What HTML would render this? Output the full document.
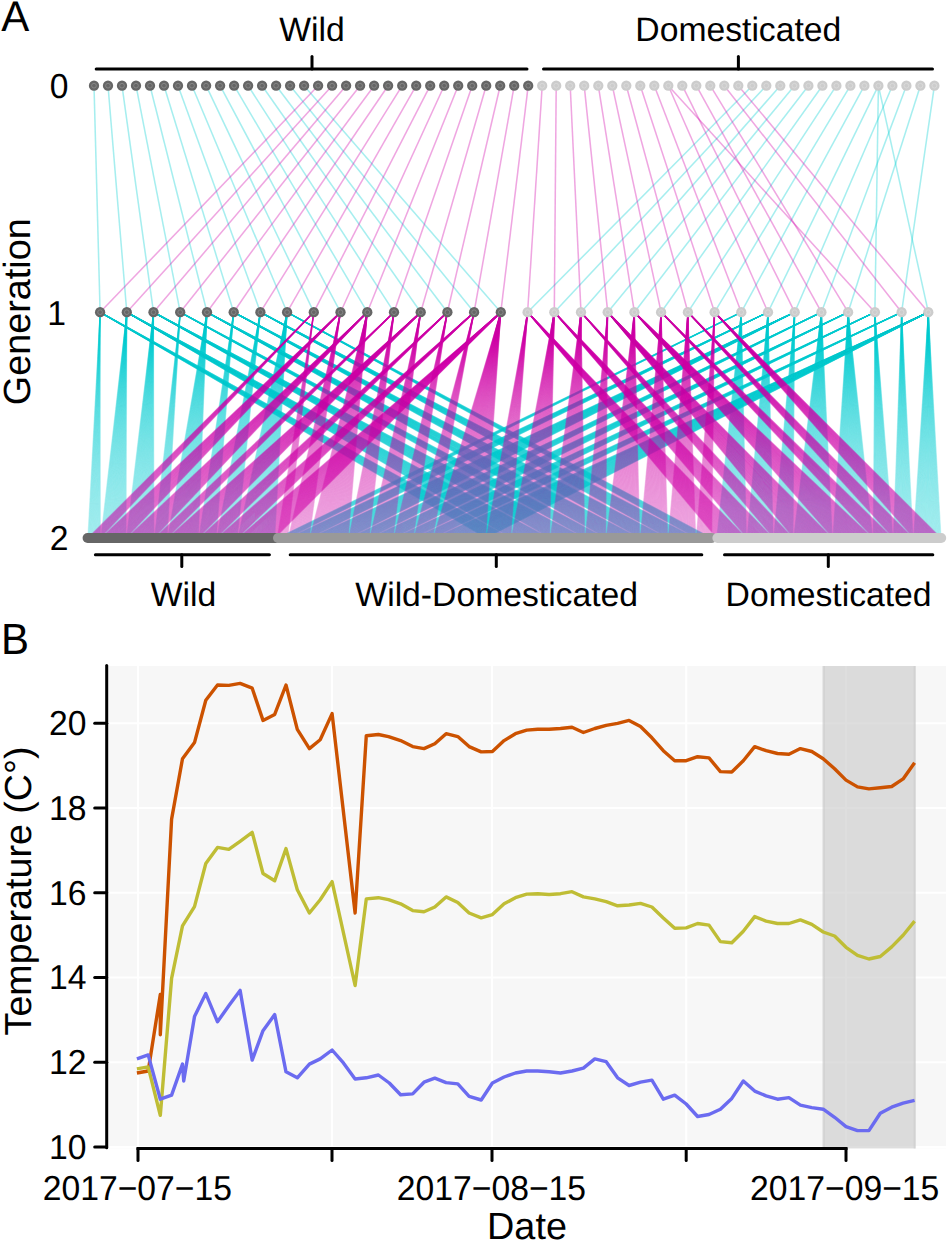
<!DOCTYPE html>
<html><head><meta charset="utf-8"><style>html,body{margin:0;padding:0;background:#fff;width:947px;height:1241px;overflow:hidden}</style></head>
<body>
<svg width="947" height="1241" viewBox="0 0 947 1241" style="display:block">
<rect width="947" height="1241" fill="#fff"/>
<g stroke-width="1.55" fill="none" stroke-opacity="0.35">
<line x1="94.0" y1="85.7" x2="100.1" y2="312.2" stroke="#00CED1"/>
<line x1="108.0" y1="85.7" x2="126.8" y2="312.2" stroke="#00CED1"/>
<line x1="122.0" y1="85.7" x2="153.5" y2="312.2" stroke="#00CED1"/>
<line x1="136.0" y1="85.7" x2="180.2" y2="312.2" stroke="#00CED1"/>
<line x1="150.0" y1="85.7" x2="207.0" y2="312.2" stroke="#00CED1"/>
<line x1="164.0" y1="85.7" x2="233.7" y2="312.2" stroke="#00CED1"/>
<line x1="178.0" y1="85.7" x2="260.4" y2="312.2" stroke="#00CED1"/>
<line x1="192.0" y1="85.7" x2="287.1" y2="312.2" stroke="#00CED1"/>
<line x1="206.1" y1="85.7" x2="313.8" y2="312.2" stroke="#00CED1"/>
<line x1="220.1" y1="85.7" x2="340.5" y2="312.2" stroke="#00CED1"/>
<line x1="234.1" y1="85.7" x2="367.3" y2="312.2" stroke="#00CED1"/>
<line x1="248.1" y1="85.7" x2="394.0" y2="312.2" stroke="#00CED1"/>
<line x1="262.1" y1="85.7" x2="420.7" y2="312.2" stroke="#00CED1"/>
<line x1="276.1" y1="85.7" x2="447.4" y2="312.2" stroke="#00CED1"/>
<line x1="290.1" y1="85.7" x2="474.1" y2="312.2" stroke="#00CED1"/>
<line x1="304.1" y1="85.7" x2="500.8" y2="312.2" stroke="#00CED1"/>
<line x1="752.3" y1="85.7" x2="527.6" y2="312.2" stroke="#00CED1"/>
<line x1="766.3" y1="85.7" x2="554.3" y2="312.2" stroke="#00CED1"/>
<line x1="780.3" y1="85.7" x2="581.0" y2="312.2" stroke="#00CED1"/>
<line x1="794.4" y1="85.7" x2="607.7" y2="312.2" stroke="#00CED1"/>
<line x1="808.4" y1="85.7" x2="634.4" y2="312.2" stroke="#00CED1"/>
<line x1="822.4" y1="85.7" x2="661.1" y2="312.2" stroke="#00CED1"/>
<line x1="836.4" y1="85.7" x2="687.9" y2="312.2" stroke="#00CED1"/>
<line x1="850.4" y1="85.7" x2="714.6" y2="312.2" stroke="#00CED1"/>
<line x1="864.4" y1="85.7" x2="741.3" y2="312.2" stroke="#00CED1"/>
<line x1="878.4" y1="85.7" x2="768.0" y2="312.2" stroke="#00CED1"/>
<line x1="892.4" y1="85.7" x2="794.7" y2="312.2" stroke="#00CED1"/>
<line x1="906.4" y1="85.7" x2="821.4" y2="312.2" stroke="#00CED1"/>
<line x1="920.4" y1="85.7" x2="848.1" y2="312.2" stroke="#00CED1"/>
<line x1="878.4" y1="85.7" x2="874.9" y2="312.2" stroke="#00CED1"/>
<line x1="934.4" y1="85.7" x2="901.6" y2="312.2" stroke="#00CED1"/>
<line x1="878.4" y1="85.7" x2="928.3" y2="312.2" stroke="#00CED1"/>
<line x1="318.1" y1="85.7" x2="100.1" y2="312.2" stroke="#D200A8"/>
<line x1="332.1" y1="85.7" x2="126.8" y2="312.2" stroke="#D200A8"/>
<line x1="346.1" y1="85.7" x2="153.5" y2="312.2" stroke="#D200A8"/>
<line x1="360.1" y1="85.7" x2="180.2" y2="312.2" stroke="#D200A8"/>
<line x1="374.1" y1="85.7" x2="207.0" y2="312.2" stroke="#D200A8"/>
<line x1="388.1" y1="85.7" x2="233.7" y2="312.2" stroke="#D200A8"/>
<line x1="402.2" y1="85.7" x2="260.4" y2="312.2" stroke="#D200A8"/>
<line x1="416.2" y1="85.7" x2="287.1" y2="312.2" stroke="#D200A8"/>
<line x1="430.2" y1="85.7" x2="313.8" y2="312.2" stroke="#D200A8"/>
<line x1="444.2" y1="85.7" x2="340.5" y2="312.2" stroke="#D200A8"/>
<line x1="458.2" y1="85.7" x2="367.3" y2="312.2" stroke="#D200A8"/>
<line x1="472.2" y1="85.7" x2="394.0" y2="312.2" stroke="#D200A8"/>
<line x1="486.2" y1="85.7" x2="420.7" y2="312.2" stroke="#D200A8"/>
<line x1="500.2" y1="85.7" x2="447.4" y2="312.2" stroke="#D200A8"/>
<line x1="514.2" y1="85.7" x2="474.1" y2="312.2" stroke="#D200A8"/>
<line x1="528.2" y1="85.7" x2="500.8" y2="312.2" stroke="#D200A8"/>
<line x1="542.2" y1="85.7" x2="527.6" y2="312.2" stroke="#D200A8"/>
<line x1="556.2" y1="85.7" x2="554.3" y2="312.2" stroke="#D200A8"/>
<line x1="570.2" y1="85.7" x2="581.0" y2="312.2" stroke="#D200A8"/>
<line x1="584.2" y1="85.7" x2="607.7" y2="312.2" stroke="#D200A8"/>
<line x1="598.3" y1="85.7" x2="634.4" y2="312.2" stroke="#D200A8"/>
<line x1="612.3" y1="85.7" x2="661.1" y2="312.2" stroke="#D200A8"/>
<line x1="626.3" y1="85.7" x2="687.9" y2="312.2" stroke="#D200A8"/>
<line x1="640.3" y1="85.7" x2="714.6" y2="312.2" stroke="#D200A8"/>
<line x1="654.3" y1="85.7" x2="741.3" y2="312.2" stroke="#D200A8"/>
<line x1="668.3" y1="85.7" x2="768.0" y2="312.2" stroke="#D200A8"/>
<line x1="682.3" y1="85.7" x2="794.7" y2="312.2" stroke="#D200A8"/>
<line x1="696.3" y1="85.7" x2="821.4" y2="312.2" stroke="#D200A8"/>
<line x1="710.3" y1="85.7" x2="848.1" y2="312.2" stroke="#D200A8"/>
<line x1="668.3" y1="85.7" x2="874.9" y2="312.2" stroke="#D200A8"/>
<line x1="724.3" y1="85.7" x2="901.6" y2="312.2" stroke="#D200A8"/>
<line x1="738.3" y1="85.7" x2="928.3" y2="312.2" stroke="#D200A8"/>
</g>
<g stroke="#00CED1" stroke-width="1.2" stroke-opacity="0.205">
<path d="M100.1 312.2L87.90 538.0"/>
<path d="M100.1 312.2L88.49 538.0"/>
<path d="M100.1 312.2L89.08 538.0"/>
<path d="M100.1 312.2L89.67 538.0"/>
<path d="M100.1 312.2L90.26 538.0"/>
<path d="M100.1 312.2L90.85 538.0"/>
<path d="M100.1 312.2L91.44 538.0"/>
<path d="M100.1 312.2L92.03 538.0"/>
<path d="M100.1 312.2L92.62 538.0"/>
<path d="M100.1 312.2L93.21 538.0"/>
<path d="M100.1 312.2L93.80 538.0"/>
<path d="M100.1 312.2L94.40 538.0"/>
<path d="M100.1 312.2L94.99 538.0"/>
<path d="M100.1 312.2L95.58 538.0"/>
<path d="M100.1 312.2L96.17 538.0"/>
<path d="M100.1 312.2L96.76 538.0"/>
<path d="M100.1 312.2L97.35 538.0"/>
<path d="M100.1 312.2L97.94 538.0"/>
<path d="M100.1 312.2L98.53 538.0"/>
<path d="M100.1 312.2L99.12 538.0"/>
<path d="M100.1 312.2L99.71 538.0"/>
<path d="M100.1 312.2L100.30 538.0"/>
<path d="M126.8 312.2L100.90 538.0"/>
<path d="M126.8 312.2L101.50 538.0"/>
<path d="M126.8 312.2L102.09 538.0"/>
<path d="M126.8 312.2L102.69 538.0"/>
<path d="M126.8 312.2L103.29 538.0"/>
<path d="M126.8 312.2L103.89 538.0"/>
<path d="M126.8 312.2L104.48 538.0"/>
<path d="M126.8 312.2L105.08 538.0"/>
<path d="M126.8 312.2L105.68 538.0"/>
<path d="M126.8 312.2L106.28 538.0"/>
<path d="M126.8 312.2L106.88 538.0"/>
<path d="M126.8 312.2L107.47 538.0"/>
<path d="M126.8 312.2L108.07 538.0"/>
<path d="M126.8 312.2L108.67 538.0"/>
<path d="M126.8 312.2L109.27 538.0"/>
<path d="M126.8 312.2L109.86 538.0"/>
<path d="M126.8 312.2L110.46 538.0"/>
<path d="M126.8 312.2L111.06 538.0"/>
<path d="M126.8 312.2L111.66 538.0"/>
<path d="M126.8 312.2L112.25 538.0"/>
<path d="M126.8 312.2L112.85 538.0"/>
<path d="M126.8 312.2L113.45 538.0"/>
<path d="M126.8 312.2L114.05 538.0"/>
<path d="M126.8 312.2L114.65 538.0"/>
<path d="M126.8 312.2L115.24 538.0"/>
<path d="M126.8 312.2L115.84 538.0"/>
<path d="M126.8 312.2L116.44 538.0"/>
<path d="M126.8 312.2L117.04 538.0"/>
<path d="M126.8 312.2L117.63 538.0"/>
<path d="M126.8 312.2L118.23 538.0"/>
<path d="M126.8 312.2L118.83 538.0"/>
<path d="M126.8 312.2L119.43 538.0"/>
<path d="M126.8 312.2L120.02 538.0"/>
<path d="M126.8 312.2L120.62 538.0"/>
<path d="M126.8 312.2L121.22 538.0"/>
<path d="M126.8 312.2L121.82 538.0"/>
<path d="M126.8 312.2L122.42 538.0"/>
<path d="M126.8 312.2L123.01 538.0"/>
<path d="M126.8 312.2L123.61 538.0"/>
<path d="M126.8 312.2L124.21 538.0"/>
<path d="M126.8 312.2L124.81 538.0"/>
<path d="M126.8 312.2L125.40 538.0"/>
<path d="M126.8 312.2L126.00 538.0"/>
<path d="M153.5 312.2L126.60 538.0"/>
<path d="M153.5 312.2L127.21 538.0"/>
<path d="M153.5 312.2L127.82 538.0"/>
<path d="M153.5 312.2L128.42 538.0"/>
<path d="M153.5 312.2L129.03 538.0"/>
<path d="M153.5 312.2L129.64 538.0"/>
<path d="M153.5 312.2L130.24 538.0"/>
<path d="M153.5 312.2L130.85 538.0"/>
<path d="M153.5 312.2L131.46 538.0"/>
<path d="M153.5 312.2L132.06 538.0"/>
<path d="M153.5 312.2L132.67 538.0"/>
<path d="M153.5 312.2L133.28 538.0"/>
<path d="M153.5 312.2L133.88 538.0"/>
<path d="M153.5 312.2L134.49 538.0"/>
<path d="M153.5 312.2L135.09 538.0"/>
<path d="M153.5 312.2L135.70 538.0"/>
<path d="M153.5 312.2L136.31 538.0"/>
<path d="M153.5 312.2L136.91 538.0"/>
<path d="M153.5 312.2L137.52 538.0"/>
<path d="M153.5 312.2L138.13 538.0"/>
<path d="M153.5 312.2L138.73 538.0"/>
<path d="M153.5 312.2L139.34 538.0"/>
<path d="M153.5 312.2L139.95 538.0"/>
<path d="M153.5 312.2L140.55 538.0"/>
<path d="M153.5 312.2L141.16 538.0"/>
<path d="M153.5 312.2L141.77 538.0"/>
<path d="M153.5 312.2L142.37 538.0"/>
<path d="M153.5 312.2L142.98 538.0"/>
<path d="M153.5 312.2L143.59 538.0"/>
<path d="M153.5 312.2L144.19 538.0"/>
<path d="M153.5 312.2L144.80 538.0"/>
<path d="M153.5 312.2L145.41 538.0"/>
<path d="M153.5 312.2L146.01 538.0"/>
<path d="M153.5 312.2L146.62 538.0"/>
<path d="M153.5 312.2L147.22 538.0"/>
<path d="M153.5 312.2L147.83 538.0"/>
<path d="M153.5 312.2L148.44 538.0"/>
<path d="M153.5 312.2L149.04 538.0"/>
<path d="M153.5 312.2L149.65 538.0"/>
<path d="M153.5 312.2L150.26 538.0"/>
<path d="M153.5 312.2L150.86 538.0"/>
<path d="M153.5 312.2L151.47 538.0"/>
<path d="M153.5 312.2L152.08 538.0"/>
<path d="M153.5 312.2L152.68 538.0"/>
<path d="M153.5 312.2L153.29 538.0"/>
<path d="M153.5 312.2L153.90 538.0"/>
<path d="M180.2 312.2L154.50 538.0"/>
<path d="M180.2 312.2L155.10 538.0"/>
<path d="M180.2 312.2L155.70 538.0"/>
<path d="M180.2 312.2L156.30 538.0"/>
<path d="M180.2 312.2L156.90 538.0"/>
<path d="M180.2 312.2L157.50 538.0"/>
<path d="M180.2 312.2L158.10 538.0"/>
<path d="M180.2 312.2L158.70 538.0"/>
<path d="M180.2 312.2L159.30 538.0"/>
<path d="M180.2 312.2L159.90 538.0"/>
<path d="M180.2 312.2L160.50 538.0"/>
<path d="M180.2 312.2L161.10 538.0"/>
<path d="M180.2 312.2L161.70 538.0"/>
<path d="M180.2 312.2L162.30 538.0"/>
<path d="M180.2 312.2L162.90 538.0"/>
<path d="M180.2 312.2L163.50 538.0"/>
<path d="M180.2 312.2L164.10 538.0"/>
<path d="M180.2 312.2L164.70 538.0"/>
<path d="M180.2 312.2L165.30 538.0"/>
<path d="M180.2 312.2L165.90 538.0"/>
<path d="M180.2 312.2L166.50 538.0"/>
<path d="M180.2 312.2L167.10 538.0"/>
<path d="M207.0 312.2L167.70 538.0"/>
<path d="M207.0 312.2L168.30 538.0"/>
<path d="M207.0 312.2L168.90 538.0"/>
<path d="M207.0 312.2L169.50 538.0"/>
<path d="M207.0 312.2L170.10 538.0"/>
<path d="M207.0 312.2L170.70 538.0"/>
<path d="M207.0 312.2L171.30 538.0"/>
<path d="M207.0 312.2L171.90 538.0"/>
<path d="M207.0 312.2L172.50 538.0"/>
<path d="M207.0 312.2L173.10 538.0"/>
<path d="M207.0 312.2L173.70 538.0"/>
<path d="M207.0 312.2L174.30 538.0"/>
<path d="M207.0 312.2L174.90 538.0"/>
<path d="M207.0 312.2L175.50 538.0"/>
<path d="M207.0 312.2L176.10 538.0"/>
<path d="M207.0 312.2L176.70 538.0"/>
<path d="M207.0 312.2L177.30 538.0"/>
<path d="M207.0 312.2L177.90 538.0"/>
<path d="M207.0 312.2L178.50 538.0"/>
<path d="M207.0 312.2L179.10 538.0"/>
<path d="M207.0 312.2L179.70 538.0"/>
<path d="M207.0 312.2L180.30 538.0"/>
<path d="M207.0 312.2L180.90 538.0"/>
<path d="M207.0 312.2L181.50 538.0"/>
<path d="M207.0 312.2L182.10 538.0"/>
<path d="M207.0 312.2L182.70 538.0"/>
<path d="M207.0 312.2L183.30 538.0"/>
<path d="M207.0 312.2L183.90 538.0"/>
<path d="M207.0 312.2L184.50 538.0"/>
<path d="M207.0 312.2L185.10 538.0"/>
<path d="M207.0 312.2L185.70 538.0"/>
<path d="M207.0 312.2L186.30 538.0"/>
<path d="M207.0 312.2L186.90 538.0"/>
<path d="M207.0 312.2L187.50 538.0"/>
<path d="M207.0 312.2L188.10 538.0"/>
<path d="M207.0 312.2L188.70 538.0"/>
<path d="M207.0 312.2L189.30 538.0"/>
<path d="M207.0 312.2L189.90 538.0"/>
<path d="M207.0 312.2L190.50 538.0"/>
<path d="M207.0 312.2L191.10 538.0"/>
<path d="M207.0 312.2L191.70 538.0"/>
<path d="M207.0 312.2L192.30 538.0"/>
<path d="M207.0 312.2L192.90 538.0"/>
<path d="M207.0 312.2L193.50 538.0"/>
<path d="M207.0 312.2L194.10 538.0"/>
<path d="M207.0 312.2L194.70 538.0"/>
<path d="M207.0 312.2L195.30 538.0"/>
<path d="M207.0 312.2L195.90 538.0"/>
<path d="M207.0 312.2L196.50 538.0"/>
<path d="M207.0 312.2L197.10 538.0"/>
<path d="M207.0 312.2L197.70 538.0"/>
<path d="M207.0 312.2L198.30 538.0"/>
<path d="M233.7 312.2L198.90 538.0"/>
<path d="M233.7 312.2L199.50 538.0"/>
<path d="M233.7 312.2L200.09 538.0"/>
<path d="M233.7 312.2L200.69 538.0"/>
<path d="M233.7 312.2L201.28 538.0"/>
<path d="M233.7 312.2L201.88 538.0"/>
<path d="M233.7 312.2L202.48 538.0"/>
<path d="M233.7 312.2L203.07 538.0"/>
<path d="M233.7 312.2L203.67 538.0"/>
<path d="M233.7 312.2L204.27 538.0"/>
<path d="M233.7 312.2L204.87 538.0"/>
<path d="M233.7 312.2L205.46 538.0"/>
<path d="M233.7 312.2L206.06 538.0"/>
<path d="M233.7 312.2L206.66 538.0"/>
<path d="M233.7 312.2L207.25 538.0"/>
<path d="M233.7 312.2L207.85 538.0"/>
<path d="M233.7 312.2L208.44 538.0"/>
<path d="M233.7 312.2L209.04 538.0"/>
<path d="M233.7 312.2L209.64 538.0"/>
<path d="M233.7 312.2L210.23 538.0"/>
<path d="M233.7 312.2L210.83 538.0"/>
<path d="M233.7 312.2L211.43 538.0"/>
<path d="M233.7 312.2L212.03 538.0"/>
<path d="M233.7 312.2L212.62 538.0"/>
<path d="M233.7 312.2L213.22 538.0"/>
<path d="M233.7 312.2L213.81 538.0"/>
<path d="M233.7 312.2L214.41 538.0"/>
<path d="M233.7 312.2L215.01 538.0"/>
<path d="M233.7 312.2L215.60 538.0"/>
<path d="M233.7 312.2L216.20 538.0"/>
<path d="M260.4 312.2L216.80 538.0"/>
<path d="M260.4 312.2L217.40 538.0"/>
<path d="M260.4 312.2L218.01 538.0"/>
<path d="M260.4 312.2L218.61 538.0"/>
<path d="M260.4 312.2L219.21 538.0"/>
<path d="M260.4 312.2L219.82 538.0"/>
<path d="M260.4 312.2L220.42 538.0"/>
<path d="M260.4 312.2L221.02 538.0"/>
<path d="M260.4 312.2L221.62 538.0"/>
<path d="M260.4 312.2L222.23 538.0"/>
<path d="M260.4 312.2L222.83 538.0"/>
<path d="M260.4 312.2L223.43 538.0"/>
<path d="M260.4 312.2L224.04 538.0"/>
<path d="M260.4 312.2L224.64 538.0"/>
<path d="M260.4 312.2L225.24 538.0"/>
<path d="M260.4 312.2L225.84 538.0"/>
<path d="M260.4 312.2L226.45 538.0"/>
<path d="M260.4 312.2L227.05 538.0"/>
<path d="M260.4 312.2L227.65 538.0"/>
<path d="M260.4 312.2L228.26 538.0"/>
<path d="M260.4 312.2L228.86 538.0"/>
<path d="M260.4 312.2L229.46 538.0"/>
<path d="M260.4 312.2L230.06 538.0"/>
<path d="M260.4 312.2L230.67 538.0"/>
<path d="M260.4 312.2L231.27 538.0"/>
<path d="M260.4 312.2L231.87 538.0"/>
<path d="M260.4 312.2L232.48 538.0"/>
<path d="M260.4 312.2L233.08 538.0"/>
<path d="M260.4 312.2L233.68 538.0"/>
<path d="M260.4 312.2L234.28 538.0"/>
<path d="M260.4 312.2L234.89 538.0"/>
<path d="M260.4 312.2L235.49 538.0"/>
<path d="M260.4 312.2L236.09 538.0"/>
<path d="M260.4 312.2L236.70 538.0"/>
<path d="M260.4 312.2L237.30 538.0"/>
<path d="M287.1 312.2L237.90 538.0"/>
<path d="M287.1 312.2L238.50 538.0"/>
<path d="M287.1 312.2L239.11 538.0"/>
<path d="M287.1 312.2L239.71 538.0"/>
<path d="M287.1 312.2L240.31 538.0"/>
<path d="M287.1 312.2L240.92 538.0"/>
<path d="M287.1 312.2L241.52 538.0"/>
<path d="M287.1 312.2L242.12 538.0"/>
<path d="M287.1 312.2L242.73 538.0"/>
<path d="M287.1 312.2L243.33 538.0"/>
<path d="M287.1 312.2L243.93 538.0"/>
<path d="M287.1 312.2L244.54 538.0"/>
<path d="M287.1 312.2L245.14 538.0"/>
<path d="M287.1 312.2L245.74 538.0"/>
<path d="M287.1 312.2L246.35 538.0"/>
<path d="M287.1 312.2L246.95 538.0"/>
<path d="M287.1 312.2L247.55 538.0"/>
<path d="M287.1 312.2L248.16 538.0"/>
<path d="M287.1 312.2L248.76 538.0"/>
<path d="M287.1 312.2L249.36 538.0"/>
<path d="M287.1 312.2L249.97 538.0"/>
<path d="M287.1 312.2L250.57 538.0"/>
<path d="M287.1 312.2L251.17 538.0"/>
<path d="M287.1 312.2L251.78 538.0"/>
<path d="M287.1 312.2L252.38 538.0"/>
<path d="M287.1 312.2L252.98 538.0"/>
<path d="M287.1 312.2L253.59 538.0"/>
<path d="M287.1 312.2L254.19 538.0"/>
<path d="M287.1 312.2L254.79 538.0"/>
<path d="M287.1 312.2L255.40 538.0"/>
<path d="M287.1 312.2L256.00 538.0"/>
<path d="M287.1 312.2L256.60 538.0"/>
<path d="M287.1 312.2L257.20 538.0"/>
<path d="M287.1 312.2L257.81 538.0"/>
<path d="M287.1 312.2L258.41 538.0"/>
<path d="M287.1 312.2L259.01 538.0"/>
<path d="M287.1 312.2L259.62 538.0"/>
<path d="M287.1 312.2L260.22 538.0"/>
<path d="M287.1 312.2L260.82 538.0"/>
<path d="M287.1 312.2L261.43 538.0"/>
<path d="M287.1 312.2L262.03 538.0"/>
<path d="M287.1 312.2L262.63 538.0"/>
<path d="M287.1 312.2L263.24 538.0"/>
<path d="M287.1 312.2L263.84 538.0"/>
<path d="M287.1 312.2L264.44 538.0"/>
<path d="M287.1 312.2L265.05 538.0"/>
<path d="M287.1 312.2L265.65 538.0"/>
<path d="M287.1 312.2L266.25 538.0"/>
<path d="M287.1 312.2L266.86 538.0"/>
<path d="M287.1 312.2L267.46 538.0"/>
<path d="M287.1 312.2L268.06 538.0"/>
<path d="M287.1 312.2L268.67 538.0"/>
<path d="M287.1 312.2L269.27 538.0"/>
<path d="M287.1 312.2L269.87 538.0"/>
<path d="M287.1 312.2L270.48 538.0"/>
<path d="M287.1 312.2L271.08 538.0"/>
<path d="M287.1 312.2L271.68 538.0"/>
<path d="M287.1 312.2L272.29 538.0"/>
<path d="M287.1 312.2L272.89 538.0"/>
<path d="M287.1 312.2L273.49 538.0"/>
<path d="M287.1 312.2L274.10 538.0"/>
<path d="M287.1 312.2L274.70 538.0"/>
<path d="M741.3 312.2L716.80 538.0"/>
<path d="M741.3 312.2L717.41 538.0"/>
<path d="M741.3 312.2L718.01 538.0"/>
<path d="M741.3 312.2L718.61 538.0"/>
<path d="M741.3 312.2L719.22 538.0"/>
<path d="M741.3 312.2L719.82 538.0"/>
<path d="M741.3 312.2L720.43 538.0"/>
<path d="M741.3 312.2L721.03 538.0"/>
<path d="M741.3 312.2L721.63 538.0"/>
<path d="M741.3 312.2L722.24 538.0"/>
<path d="M741.3 312.2L722.84 538.0"/>
<path d="M741.3 312.2L723.45 538.0"/>
<path d="M741.3 312.2L724.05 538.0"/>
<path d="M741.3 312.2L724.65 538.0"/>
<path d="M741.3 312.2L725.26 538.0"/>
<path d="M741.3 312.2L725.86 538.0"/>
<path d="M741.3 312.2L726.47 538.0"/>
<path d="M741.3 312.2L727.07 538.0"/>
<path d="M741.3 312.2L727.67 538.0"/>
<path d="M741.3 312.2L728.28 538.0"/>
<path d="M741.3 312.2L728.88 538.0"/>
<path d="M741.3 312.2L729.49 538.0"/>
<path d="M741.3 312.2L730.09 538.0"/>
<path d="M741.3 312.2L730.69 538.0"/>
<path d="M741.3 312.2L731.30 538.0"/>
<path d="M741.3 312.2L731.90 538.0"/>
<path d="M741.3 312.2L732.51 538.0"/>
<path d="M741.3 312.2L733.11 538.0"/>
<path d="M741.3 312.2L733.71 538.0"/>
<path d="M741.3 312.2L734.32 538.0"/>
<path d="M741.3 312.2L734.92 538.0"/>
<path d="M741.3 312.2L735.53 538.0"/>
<path d="M741.3 312.2L736.13 538.0"/>
<path d="M741.3 312.2L736.73 538.0"/>
<path d="M741.3 312.2L737.34 538.0"/>
<path d="M741.3 312.2L737.94 538.0"/>
<path d="M741.3 312.2L738.55 538.0"/>
<path d="M741.3 312.2L739.15 538.0"/>
<path d="M741.3 312.2L739.75 538.0"/>
<path d="M741.3 312.2L740.36 538.0"/>
<path d="M741.3 312.2L740.96 538.0"/>
<path d="M741.3 312.2L741.57 538.0"/>
<path d="M741.3 312.2L742.17 538.0"/>
<path d="M741.3 312.2L742.77 538.0"/>
<path d="M741.3 312.2L743.38 538.0"/>
<path d="M741.3 312.2L743.98 538.0"/>
<path d="M741.3 312.2L744.59 538.0"/>
<path d="M741.3 312.2L745.19 538.0"/>
<path d="M741.3 312.2L745.79 538.0"/>
<path d="M741.3 312.2L746.40 538.0"/>
<path d="M768.0 312.2L747.00 538.0"/>
<path d="M768.0 312.2L747.61 538.0"/>
<path d="M768.0 312.2L748.22 538.0"/>
<path d="M768.0 312.2L748.82 538.0"/>
<path d="M768.0 312.2L749.43 538.0"/>
<path d="M768.0 312.2L750.04 538.0"/>
<path d="M768.0 312.2L750.64 538.0"/>
<path d="M768.0 312.2L751.25 538.0"/>
<path d="M768.0 312.2L751.86 538.0"/>
<path d="M768.0 312.2L752.46 538.0"/>
<path d="M768.0 312.2L753.07 538.0"/>
<path d="M768.0 312.2L753.68 538.0"/>
<path d="M768.0 312.2L754.29 538.0"/>
<path d="M768.0 312.2L754.89 538.0"/>
<path d="M768.0 312.2L755.50 538.0"/>
<path d="M768.0 312.2L756.11 538.0"/>
<path d="M768.0 312.2L756.71 538.0"/>
<path d="M768.0 312.2L757.32 538.0"/>
<path d="M768.0 312.2L757.93 538.0"/>
<path d="M768.0 312.2L758.53 538.0"/>
<path d="M768.0 312.2L759.14 538.0"/>
<path d="M768.0 312.2L759.75 538.0"/>
<path d="M768.0 312.2L760.35 538.0"/>
<path d="M768.0 312.2L760.96 538.0"/>
<path d="M768.0 312.2L761.57 538.0"/>
<path d="M768.0 312.2L762.17 538.0"/>
<path d="M768.0 312.2L762.78 538.0"/>
<path d="M768.0 312.2L763.39 538.0"/>
<path d="M768.0 312.2L763.99 538.0"/>
<path d="M768.0 312.2L764.60 538.0"/>
<path d="M768.0 312.2L765.21 538.0"/>
<path d="M768.0 312.2L765.81 538.0"/>
<path d="M768.0 312.2L766.42 538.0"/>
<path d="M768.0 312.2L767.03 538.0"/>
<path d="M768.0 312.2L767.64 538.0"/>
<path d="M768.0 312.2L768.24 538.0"/>
<path d="M768.0 312.2L768.85 538.0"/>
<path d="M768.0 312.2L769.46 538.0"/>
<path d="M768.0 312.2L770.06 538.0"/>
<path d="M768.0 312.2L770.67 538.0"/>
<path d="M768.0 312.2L771.28 538.0"/>
<path d="M768.0 312.2L771.88 538.0"/>
<path d="M768.0 312.2L772.49 538.0"/>
<path d="M768.0 312.2L773.10 538.0"/>
<path d="M794.7 312.2L773.70 538.0"/>
<path d="M794.7 312.2L774.30 538.0"/>
<path d="M794.7 312.2L774.91 538.0"/>
<path d="M794.7 312.2L775.51 538.0"/>
<path d="M794.7 312.2L776.11 538.0"/>
<path d="M794.7 312.2L776.72 538.0"/>
<path d="M794.7 312.2L777.32 538.0"/>
<path d="M794.7 312.2L777.92 538.0"/>
<path d="M794.7 312.2L778.53 538.0"/>
<path d="M794.7 312.2L779.13 538.0"/>
<path d="M794.7 312.2L779.73 538.0"/>
<path d="M794.7 312.2L780.33 538.0"/>
<path d="M794.7 312.2L780.94 538.0"/>
<path d="M794.7 312.2L781.54 538.0"/>
<path d="M794.7 312.2L782.14 538.0"/>
<path d="M794.7 312.2L782.75 538.0"/>
<path d="M794.7 312.2L783.35 538.0"/>
<path d="M794.7 312.2L783.95 538.0"/>
<path d="M794.7 312.2L784.56 538.0"/>
<path d="M794.7 312.2L785.16 538.0"/>
<path d="M794.7 312.2L785.76 538.0"/>
<path d="M794.7 312.2L786.37 538.0"/>
<path d="M794.7 312.2L786.97 538.0"/>
<path d="M794.7 312.2L787.57 538.0"/>
<path d="M794.7 312.2L788.17 538.0"/>
<path d="M794.7 312.2L788.78 538.0"/>
<path d="M794.7 312.2L789.38 538.0"/>
<path d="M794.7 312.2L789.98 538.0"/>
<path d="M794.7 312.2L790.59 538.0"/>
<path d="M794.7 312.2L791.19 538.0"/>
<path d="M794.7 312.2L791.79 538.0"/>
<path d="M794.7 312.2L792.40 538.0"/>
<path d="M794.7 312.2L793.00 538.0"/>
<path d="M821.4 312.2L793.60 538.0"/>
<path d="M821.4 312.2L794.19 538.0"/>
<path d="M821.4 312.2L794.79 538.0"/>
<path d="M821.4 312.2L795.38 538.0"/>
<path d="M821.4 312.2L795.98 538.0"/>
<path d="M821.4 312.2L796.57 538.0"/>
<path d="M821.4 312.2L797.17 538.0"/>
<path d="M821.4 312.2L797.77 538.0"/>
<path d="M821.4 312.2L798.36 538.0"/>
<path d="M821.4 312.2L798.96 538.0"/>
<path d="M821.4 312.2L799.55 538.0"/>
<path d="M821.4 312.2L800.15 538.0"/>
<path d="M821.4 312.2L800.74 538.0"/>
<path d="M821.4 312.2L801.34 538.0"/>
<path d="M821.4 312.2L801.93 538.0"/>
<path d="M821.4 312.2L802.53 538.0"/>
<path d="M821.4 312.2L803.12 538.0"/>
<path d="M821.4 312.2L803.72 538.0"/>
<path d="M821.4 312.2L804.32 538.0"/>
<path d="M821.4 312.2L804.91 538.0"/>
<path d="M821.4 312.2L805.51 538.0"/>
<path d="M821.4 312.2L806.10 538.0"/>
<path d="M821.4 312.2L806.70 538.0"/>
<path d="M821.4 312.2L807.29 538.0"/>
<path d="M821.4 312.2L807.89 538.0"/>
<path d="M821.4 312.2L808.48 538.0"/>
<path d="M821.4 312.2L809.08 538.0"/>
<path d="M821.4 312.2L809.67 538.0"/>
<path d="M821.4 312.2L810.27 538.0"/>
<path d="M821.4 312.2L810.87 538.0"/>
<path d="M821.4 312.2L811.46 538.0"/>
<path d="M821.4 312.2L812.06 538.0"/>
<path d="M821.4 312.2L812.65 538.0"/>
<path d="M821.4 312.2L813.25 538.0"/>
<path d="M821.4 312.2L813.84 538.0"/>
<path d="M821.4 312.2L814.44 538.0"/>
<path d="M821.4 312.2L815.03 538.0"/>
<path d="M821.4 312.2L815.63 538.0"/>
<path d="M821.4 312.2L816.23 538.0"/>
<path d="M821.4 312.2L816.82 538.0"/>
<path d="M821.4 312.2L817.42 538.0"/>
<path d="M821.4 312.2L818.01 538.0"/>
<path d="M821.4 312.2L818.61 538.0"/>
<path d="M821.4 312.2L819.20 538.0"/>
<path d="M821.4 312.2L819.80 538.0"/>
<path d="M821.4 312.2L820.39 538.0"/>
<path d="M821.4 312.2L820.99 538.0"/>
<path d="M821.4 312.2L821.58 538.0"/>
<path d="M821.4 312.2L822.18 538.0"/>
<path d="M821.4 312.2L822.77 538.0"/>
<path d="M821.4 312.2L823.37 538.0"/>
<path d="M821.4 312.2L823.97 538.0"/>
<path d="M821.4 312.2L824.56 538.0"/>
<path d="M821.4 312.2L825.16 538.0"/>
<path d="M821.4 312.2L825.75 538.0"/>
<path d="M821.4 312.2L826.35 538.0"/>
<path d="M821.4 312.2L826.94 538.0"/>
<path d="M821.4 312.2L827.54 538.0"/>
<path d="M821.4 312.2L828.13 538.0"/>
<path d="M821.4 312.2L828.73 538.0"/>
<path d="M821.4 312.2L829.33 538.0"/>
<path d="M821.4 312.2L829.92 538.0"/>
<path d="M821.4 312.2L830.52 538.0"/>
<path d="M821.4 312.2L831.11 538.0"/>
<path d="M821.4 312.2L831.71 538.0"/>
<path d="M821.4 312.2L832.30 538.0"/>
<path d="M848.1 312.2L832.90 538.0"/>
<path d="M848.1 312.2L833.50 538.0"/>
<path d="M848.1 312.2L834.11 538.0"/>
<path d="M848.1 312.2L834.71 538.0"/>
<path d="M848.1 312.2L835.31 538.0"/>
<path d="M848.1 312.2L835.92 538.0"/>
<path d="M848.1 312.2L836.52 538.0"/>
<path d="M848.1 312.2L837.12 538.0"/>
<path d="M848.1 312.2L837.73 538.0"/>
<path d="M848.1 312.2L838.33 538.0"/>
<path d="M848.1 312.2L838.93 538.0"/>
<path d="M848.1 312.2L839.53 538.0"/>
<path d="M848.1 312.2L840.14 538.0"/>
<path d="M848.1 312.2L840.74 538.0"/>
<path d="M848.1 312.2L841.34 538.0"/>
<path d="M848.1 312.2L841.95 538.0"/>
<path d="M848.1 312.2L842.55 538.0"/>
<path d="M848.1 312.2L843.15 538.0"/>
<path d="M848.1 312.2L843.76 538.0"/>
<path d="M848.1 312.2L844.36 538.0"/>
<path d="M848.1 312.2L844.96 538.0"/>
<path d="M848.1 312.2L845.56 538.0"/>
<path d="M848.1 312.2L846.17 538.0"/>
<path d="M848.1 312.2L846.77 538.0"/>
<path d="M848.1 312.2L847.37 538.0"/>
<path d="M848.1 312.2L847.98 538.0"/>
<path d="M848.1 312.2L848.58 538.0"/>
<path d="M848.1 312.2L849.18 538.0"/>
<path d="M848.1 312.2L849.79 538.0"/>
<path d="M848.1 312.2L850.39 538.0"/>
<path d="M848.1 312.2L850.99 538.0"/>
<path d="M848.1 312.2L851.59 538.0"/>
<path d="M848.1 312.2L852.20 538.0"/>
<path d="M848.1 312.2L852.80 538.0"/>
<path d="M848.1 312.2L853.40 538.0"/>
<path d="M848.1 312.2L854.01 538.0"/>
<path d="M848.1 312.2L854.61 538.0"/>
<path d="M848.1 312.2L855.21 538.0"/>
<path d="M848.1 312.2L855.81 538.0"/>
<path d="M848.1 312.2L856.42 538.0"/>
<path d="M848.1 312.2L857.02 538.0"/>
<path d="M848.1 312.2L857.62 538.0"/>
<path d="M848.1 312.2L858.23 538.0"/>
<path d="M848.1 312.2L858.83 538.0"/>
<path d="M848.1 312.2L859.43 538.0"/>
<path d="M848.1 312.2L860.04 538.0"/>
<path d="M848.1 312.2L860.64 538.0"/>
<path d="M848.1 312.2L861.24 538.0"/>
<path d="M848.1 312.2L861.84 538.0"/>
<path d="M848.1 312.2L862.45 538.0"/>
<path d="M848.1 312.2L863.05 538.0"/>
<path d="M848.1 312.2L863.65 538.0"/>
<path d="M848.1 312.2L864.26 538.0"/>
<path d="M848.1 312.2L864.86 538.0"/>
<path d="M848.1 312.2L865.46 538.0"/>
<path d="M848.1 312.2L866.07 538.0"/>
<path d="M848.1 312.2L866.67 538.0"/>
<path d="M848.1 312.2L867.27 538.0"/>
<path d="M848.1 312.2L867.87 538.0"/>
<path d="M848.1 312.2L868.48 538.0"/>
<path d="M848.1 312.2L869.08 538.0"/>
<path d="M848.1 312.2L869.68 538.0"/>
<path d="M848.1 312.2L870.29 538.0"/>
<path d="M848.1 312.2L870.89 538.0"/>
<path d="M848.1 312.2L871.49 538.0"/>
<path d="M848.1 312.2L872.10 538.0"/>
<path d="M848.1 312.2L872.70 538.0"/>
<path d="M874.9 312.2L873.30 538.0"/>
<path d="M874.9 312.2L873.89 538.0"/>
<path d="M874.9 312.2L874.48 538.0"/>
<path d="M874.9 312.2L875.07 538.0"/>
<path d="M874.9 312.2L875.66 538.0"/>
<path d="M874.9 312.2L876.25 538.0"/>
<path d="M874.9 312.2L876.84 538.0"/>
<path d="M874.9 312.2L877.43 538.0"/>
<path d="M874.9 312.2L878.02 538.0"/>
<path d="M874.9 312.2L878.62 538.0"/>
<path d="M874.9 312.2L879.21 538.0"/>
<path d="M874.9 312.2L879.80 538.0"/>
<path d="M874.9 312.2L880.39 538.0"/>
<path d="M874.9 312.2L880.98 538.0"/>
<path d="M874.9 312.2L881.57 538.0"/>
<path d="M874.9 312.2L882.16 538.0"/>
<path d="M874.9 312.2L882.75 538.0"/>
<path d="M874.9 312.2L883.35 538.0"/>
<path d="M874.9 312.2L883.94 538.0"/>
<path d="M874.9 312.2L884.53 538.0"/>
<path d="M874.9 312.2L885.12 538.0"/>
<path d="M874.9 312.2L885.71 538.0"/>
<path d="M874.9 312.2L886.30 538.0"/>
<path d="M874.9 312.2L886.89 538.0"/>
<path d="M874.9 312.2L887.48 538.0"/>
<path d="M874.9 312.2L888.08 538.0"/>
<path d="M874.9 312.2L888.67 538.0"/>
<path d="M874.9 312.2L889.26 538.0"/>
<path d="M874.9 312.2L889.85 538.0"/>
<path d="M874.9 312.2L890.44 538.0"/>
<path d="M874.9 312.2L891.03 538.0"/>
<path d="M874.9 312.2L891.62 538.0"/>
<path d="M874.9 312.2L892.21 538.0"/>
<path d="M874.9 312.2L892.80 538.0"/>
<path d="M901.6 312.2L893.40 538.0"/>
<path d="M901.6 312.2L893.99 538.0"/>
<path d="M901.6 312.2L894.59 538.0"/>
<path d="M901.6 312.2L895.18 538.0"/>
<path d="M901.6 312.2L895.77 538.0"/>
<path d="M901.6 312.2L896.37 538.0"/>
<path d="M901.6 312.2L896.96 538.0"/>
<path d="M901.6 312.2L897.56 538.0"/>
<path d="M901.6 312.2L898.15 538.0"/>
<path d="M901.6 312.2L898.74 538.0"/>
<path d="M901.6 312.2L899.34 538.0"/>
<path d="M901.6 312.2L899.93 538.0"/>
<path d="M901.6 312.2L900.53 538.0"/>
<path d="M901.6 312.2L901.12 538.0"/>
<path d="M901.6 312.2L901.71 538.0"/>
<path d="M901.6 312.2L902.31 538.0"/>
<path d="M901.6 312.2L902.90 538.0"/>
<path d="M901.6 312.2L903.50 538.0"/>
<path d="M901.6 312.2L904.09 538.0"/>
<path d="M901.6 312.2L904.69 538.0"/>
<path d="M901.6 312.2L905.28 538.0"/>
<path d="M901.6 312.2L905.87 538.0"/>
<path d="M901.6 312.2L906.47 538.0"/>
<path d="M901.6 312.2L907.06 538.0"/>
<path d="M901.6 312.2L907.66 538.0"/>
<path d="M901.6 312.2L908.25 538.0"/>
<path d="M901.6 312.2L908.84 538.0"/>
<path d="M901.6 312.2L909.44 538.0"/>
<path d="M901.6 312.2L910.03 538.0"/>
<path d="M901.6 312.2L910.63 538.0"/>
<path d="M901.6 312.2L911.22 538.0"/>
<path d="M901.6 312.2L911.81 538.0"/>
<path d="M901.6 312.2L912.41 538.0"/>
<path d="M901.6 312.2L913.00 538.0"/>
<path d="M928.3 312.2L913.60 538.0"/>
<path d="M928.3 312.2L914.19 538.0"/>
<path d="M928.3 312.2L914.79 538.0"/>
<path d="M928.3 312.2L915.39 538.0"/>
<path d="M928.3 312.2L915.98 538.0"/>
<path d="M928.3 312.2L916.58 538.0"/>
<path d="M928.3 312.2L917.17 538.0"/>
<path d="M928.3 312.2L917.77 538.0"/>
<path d="M928.3 312.2L918.36 538.0"/>
<path d="M928.3 312.2L918.96 538.0"/>
<path d="M928.3 312.2L919.56 538.0"/>
<path d="M928.3 312.2L920.15 538.0"/>
<path d="M928.3 312.2L920.75 538.0"/>
<path d="M928.3 312.2L921.34 538.0"/>
<path d="M928.3 312.2L921.94 538.0"/>
<path d="M928.3 312.2L922.53 538.0"/>
<path d="M928.3 312.2L923.13 538.0"/>
<path d="M928.3 312.2L923.73 538.0"/>
<path d="M928.3 312.2L924.32 538.0"/>
<path d="M928.3 312.2L924.92 538.0"/>
<path d="M928.3 312.2L925.51 538.0"/>
<path d="M928.3 312.2L926.11 538.0"/>
<path d="M928.3 312.2L926.70 538.0"/>
<path d="M928.3 312.2L927.30 538.0"/>
<path d="M928.3 312.2L927.90 538.0"/>
<path d="M928.3 312.2L928.49 538.0"/>
<path d="M928.3 312.2L929.09 538.0"/>
<path d="M928.3 312.2L929.68 538.0"/>
<path d="M928.3 312.2L930.28 538.0"/>
<path d="M928.3 312.2L930.87 538.0"/>
<path d="M928.3 312.2L931.47 538.0"/>
<path d="M928.3 312.2L932.07 538.0"/>
<path d="M928.3 312.2L932.66 538.0"/>
<path d="M928.3 312.2L933.26 538.0"/>
<path d="M928.3 312.2L933.85 538.0"/>
<path d="M928.3 312.2L934.45 538.0"/>
<path d="M928.3 312.2L935.04 538.0"/>
<path d="M928.3 312.2L935.64 538.0"/>
<path d="M928.3 312.2L936.24 538.0"/>
<path d="M928.3 312.2L936.83 538.0"/>
<path d="M928.3 312.2L937.43 538.0"/>
<path d="M928.3 312.2L938.02 538.0"/>
<path d="M928.3 312.2L938.62 538.0"/>
<path d="M928.3 312.2L939.21 538.0"/>
<path d="M928.3 312.2L939.81 538.0"/>
<path d="M928.3 312.2L940.41 538.0"/>
<path d="M928.3 312.2L941.00 538.0"/>
</g>
<g stroke="#00CED1" stroke-width="1.2" stroke-opacity="0.218">
<path d="M741.3 312.2L277.31 538.0"/>
<path d="M741.3 312.2L277.92 538.0"/>
<path d="M741.3 312.2L278.53 538.0"/>
<path d="M741.3 312.2L279.14 538.0"/>
<path d="M741.3 312.2L279.75 538.0"/>
<path d="M741.3 312.2L280.36 538.0"/>
<path d="M741.3 312.2L280.97 538.0"/>
<path d="M741.3 312.2L281.58 538.0"/>
<path d="M741.3 312.2L282.19 538.0"/>
<path d="M741.3 312.2L282.81 538.0"/>
<path d="M741.3 312.2L283.42 538.0"/>
<path d="M741.3 312.2L284.03 538.0"/>
<path d="M741.3 312.2L284.64 538.0"/>
<path d="M741.3 312.2L285.25 538.0"/>
<path d="M741.3 312.2L285.86 538.0"/>
<path d="M741.3 312.2L286.47 538.0"/>
<path d="M741.3 312.2L287.08 538.0"/>
<path d="M741.3 312.2L287.69 538.0"/>
<path d="M768.0 312.2L288.30 538.0"/>
<path d="M768.0 312.2L288.90 538.0"/>
<path d="M768.0 312.2L289.49 538.0"/>
<path d="M768.0 312.2L290.09 538.0"/>
<path d="M768.0 312.2L290.69 538.0"/>
<path d="M768.0 312.2L291.28 538.0"/>
<path d="M768.0 312.2L291.88 538.0"/>
<path d="M768.0 312.2L292.48 538.0"/>
<path d="M768.0 312.2L293.08 538.0"/>
<path d="M768.0 312.2L293.67 538.0"/>
<path d="M768.0 312.2L294.27 538.0"/>
<path d="M768.0 312.2L294.87 538.0"/>
<path d="M768.0 312.2L295.47 538.0"/>
<path d="M768.0 312.2L296.06 538.0"/>
<path d="M768.0 312.2L296.66 538.0"/>
<path d="M768.0 312.2L297.26 538.0"/>
<path d="M768.0 312.2L297.85 538.0"/>
<path d="M768.0 312.2L298.45 538.0"/>
<path d="M768.0 312.2L299.05 538.0"/>
<path d="M768.0 312.2L299.65 538.0"/>
<path d="M768.0 312.2L300.24 538.0"/>
<path d="M768.0 312.2L300.84 538.0"/>
<path d="M768.0 312.2L301.44 538.0"/>
<path d="M768.0 312.2L302.03 538.0"/>
<path d="M768.0 312.2L302.63 538.0"/>
<path d="M768.0 312.2L303.23 538.0"/>
<path d="M768.0 312.2L303.83 538.0"/>
<path d="M768.0 312.2L304.42 538.0"/>
<path d="M768.0 312.2L305.02 538.0"/>
<path d="M768.0 312.2L305.62 538.0"/>
<path d="M768.0 312.2L306.22 538.0"/>
<path d="M768.0 312.2L306.81 538.0"/>
<path d="M768.0 312.2L307.41 538.0"/>
<path d="M768.0 312.2L308.01 538.0"/>
<path d="M768.0 312.2L308.60 538.0"/>
<path d="M768.0 312.2L309.20 538.0"/>
<path d="M794.7 312.2L309.80 538.0"/>
<path d="M794.7 312.2L310.40 538.0"/>
<path d="M794.7 312.2L311.00 538.0"/>
<path d="M794.7 312.2L311.60 538.0"/>
<path d="M794.7 312.2L312.20 538.0"/>
<path d="M794.7 312.2L312.80 538.0"/>
<path d="M794.7 312.2L313.40 538.0"/>
<path d="M794.7 312.2L314.00 538.0"/>
<path d="M794.7 312.2L314.60 538.0"/>
<path d="M794.7 312.2L315.20 538.0"/>
<path d="M794.7 312.2L315.80 538.0"/>
<path d="M794.7 312.2L316.40 538.0"/>
<path d="M794.7 312.2L317.00 538.0"/>
<path d="M794.7 312.2L317.60 538.0"/>
<path d="M794.7 312.2L318.20 538.0"/>
<path d="M794.7 312.2L318.80 538.0"/>
<path d="M794.7 312.2L319.40 538.0"/>
<path d="M794.7 312.2L320.00 538.0"/>
<path d="M794.7 312.2L320.60 538.0"/>
<path d="M794.7 312.2L321.20 538.0"/>
<path d="M794.7 312.2L321.80 538.0"/>
<path d="M794.7 312.2L322.40 538.0"/>
<path d="M794.7 312.2L323.00 538.0"/>
<path d="M794.7 312.2L323.60 538.0"/>
<path d="M794.7 312.2L324.20 538.0"/>
<path d="M794.7 312.2L324.80 538.0"/>
<path d="M794.7 312.2L325.40 538.0"/>
<path d="M794.7 312.2L326.00 538.0"/>
<path d="M794.7 312.2L326.60 538.0"/>
<path d="M794.7 312.2L327.20 538.0"/>
<path d="M794.7 312.2L327.80 538.0"/>
<path d="M794.7 312.2L328.40 538.0"/>
<path d="M794.7 312.2L329.00 538.0"/>
<path d="M794.7 312.2L329.60 538.0"/>
<path d="M794.7 312.2L330.20 538.0"/>
<path d="M794.7 312.2L330.80 538.0"/>
<path d="M794.7 312.2L331.40 538.0"/>
<path d="M794.7 312.2L332.00 538.0"/>
<path d="M794.7 312.2L332.60 538.0"/>
<path d="M794.7 312.2L333.20 538.0"/>
<path d="M794.7 312.2L333.80 538.0"/>
<path d="M794.7 312.2L334.40 538.0"/>
<path d="M794.7 312.2L335.00 538.0"/>
<path d="M794.7 312.2L335.60 538.0"/>
<path d="M794.7 312.2L336.20 538.0"/>
<path d="M794.7 312.2L336.80 538.0"/>
<path d="M794.7 312.2L337.40 538.0"/>
<path d="M794.7 312.2L338.00 538.0"/>
<path d="M794.7 312.2L338.60 538.0"/>
<path d="M794.7 312.2L339.20 538.0"/>
<path d="M794.7 312.2L339.80 538.0"/>
<path d="M794.7 312.2L340.40 538.0"/>
<path d="M794.7 312.2L341.00 538.0"/>
<path d="M794.7 312.2L341.60 538.0"/>
<path d="M794.7 312.2L342.20 538.0"/>
<path d="M794.7 312.2L342.80 538.0"/>
<path d="M794.7 312.2L343.40 538.0"/>
<path d="M794.7 312.2L344.00 538.0"/>
<path d="M794.7 312.2L344.60 538.0"/>
<path d="M794.7 312.2L345.20 538.0"/>
<path d="M794.7 312.2L345.80 538.0"/>
<path d="M794.7 312.2L346.40 538.0"/>
<path d="M794.7 312.2L347.00 538.0"/>
<path d="M794.7 312.2L347.60 538.0"/>
<path d="M794.7 312.2L348.20 538.0"/>
<path d="M821.4 312.2L348.80 538.0"/>
<path d="M821.4 312.2L349.40 538.0"/>
<path d="M821.4 312.2L350.00 538.0"/>
<path d="M821.4 312.2L350.60 538.0"/>
<path d="M821.4 312.2L351.20 538.0"/>
<path d="M821.4 312.2L351.80 538.0"/>
<path d="M821.4 312.2L352.40 538.0"/>
<path d="M821.4 312.2L353.00 538.0"/>
<path d="M821.4 312.2L353.60 538.0"/>
<path d="M821.4 312.2L354.20 538.0"/>
<path d="M821.4 312.2L354.80 538.0"/>
<path d="M821.4 312.2L355.40 538.0"/>
<path d="M821.4 312.2L356.00 538.0"/>
<path d="M821.4 312.2L356.60 538.0"/>
<path d="M821.4 312.2L357.20 538.0"/>
<path d="M821.4 312.2L357.80 538.0"/>
<path d="M821.4 312.2L358.40 538.0"/>
<path d="M821.4 312.2L359.00 538.0"/>
<path d="M821.4 312.2L359.60 538.0"/>
<path d="M821.4 312.2L360.20 538.0"/>
<path d="M821.4 312.2L360.80 538.0"/>
<path d="M821.4 312.2L361.40 538.0"/>
<path d="M821.4 312.2L362.00 538.0"/>
<path d="M821.4 312.2L362.60 538.0"/>
<path d="M821.4 312.2L363.20 538.0"/>
<path d="M821.4 312.2L363.80 538.0"/>
<path d="M821.4 312.2L364.40 538.0"/>
<path d="M821.4 312.2L365.00 538.0"/>
<path d="M821.4 312.2L365.60 538.0"/>
<path d="M821.4 312.2L366.20 538.0"/>
<path d="M821.4 312.2L366.80 538.0"/>
<path d="M821.4 312.2L367.40 538.0"/>
<path d="M821.4 312.2L368.00 538.0"/>
<path d="M821.4 312.2L368.60 538.0"/>
<path d="M821.4 312.2L369.20 538.0"/>
<path d="M848.1 312.2L369.80 538.0"/>
<path d="M848.1 312.2L370.40 538.0"/>
<path d="M848.1 312.2L371.00 538.0"/>
<path d="M848.1 312.2L371.60 538.0"/>
<path d="M848.1 312.2L372.20 538.0"/>
<path d="M848.1 312.2L372.80 538.0"/>
<path d="M848.1 312.2L373.40 538.0"/>
<path d="M848.1 312.2L374.00 538.0"/>
<path d="M848.1 312.2L374.60 538.0"/>
<path d="M848.1 312.2L375.20 538.0"/>
<path d="M848.1 312.2L375.80 538.0"/>
<path d="M848.1 312.2L376.40 538.0"/>
<path d="M848.1 312.2L377.00 538.0"/>
<path d="M848.1 312.2L377.60 538.0"/>
<path d="M848.1 312.2L378.20 538.0"/>
<path d="M848.1 312.2L378.80 538.0"/>
<path d="M848.1 312.2L379.40 538.0"/>
<path d="M848.1 312.2L380.00 538.0"/>
<path d="M848.1 312.2L380.60 538.0"/>
<path d="M848.1 312.2L381.20 538.0"/>
<path d="M848.1 312.2L381.80 538.0"/>
<path d="M848.1 312.2L382.40 538.0"/>
<path d="M848.1 312.2L383.00 538.0"/>
<path d="M848.1 312.2L383.60 538.0"/>
<path d="M848.1 312.2L384.20 538.0"/>
<path d="M848.1 312.2L384.80 538.0"/>
<path d="M848.1 312.2L385.40 538.0"/>
<path d="M848.1 312.2L386.00 538.0"/>
<path d="M848.1 312.2L386.60 538.0"/>
<path d="M848.1 312.2L387.20 538.0"/>
<path d="M848.1 312.2L387.80 538.0"/>
<path d="M848.1 312.2L388.40 538.0"/>
<path d="M848.1 312.2L389.00 538.0"/>
<path d="M848.1 312.2L389.60 538.0"/>
<path d="M848.1 312.2L390.20 538.0"/>
<path d="M848.1 312.2L390.80 538.0"/>
<path d="M848.1 312.2L391.40 538.0"/>
<path d="M848.1 312.2L392.00 538.0"/>
<path d="M848.1 312.2L392.60 538.0"/>
<path d="M848.1 312.2L393.20 538.0"/>
<path d="M874.9 312.2L393.80 538.0"/>
<path d="M874.9 312.2L394.41 538.0"/>
<path d="M874.9 312.2L395.02 538.0"/>
<path d="M874.9 312.2L395.62 538.0"/>
<path d="M874.9 312.2L396.23 538.0"/>
<path d="M874.9 312.2L396.83 538.0"/>
<path d="M874.9 312.2L397.44 538.0"/>
<path d="M874.9 312.2L398.05 538.0"/>
<path d="M874.9 312.2L398.65 538.0"/>
<path d="M874.9 312.2L399.26 538.0"/>
<path d="M874.9 312.2L399.86 538.0"/>
<path d="M874.9 312.2L400.47 538.0"/>
<path d="M874.9 312.2L401.08 538.0"/>
<path d="M874.9 312.2L401.68 538.0"/>
<path d="M874.9 312.2L402.29 538.0"/>
<path d="M874.9 312.2L402.89 538.0"/>
<path d="M874.9 312.2L403.50 538.0"/>
<path d="M874.9 312.2L404.11 538.0"/>
<path d="M874.9 312.2L404.71 538.0"/>
<path d="M874.9 312.2L405.32 538.0"/>
<path d="M874.9 312.2L405.92 538.0"/>
<path d="M874.9 312.2L406.53 538.0"/>
<path d="M874.9 312.2L407.14 538.0"/>
<path d="M874.9 312.2L407.74 538.0"/>
<path d="M874.9 312.2L408.35 538.0"/>
<path d="M874.9 312.2L408.95 538.0"/>
<path d="M874.9 312.2L409.56 538.0"/>
<path d="M874.9 312.2L410.17 538.0"/>
<path d="M874.9 312.2L410.77 538.0"/>
<path d="M874.9 312.2L411.38 538.0"/>
<path d="M874.9 312.2L411.98 538.0"/>
<path d="M874.9 312.2L412.59 538.0"/>
<path d="M874.9 312.2L413.20 538.0"/>
<path d="M901.6 312.2L413.80 538.0"/>
<path d="M901.6 312.2L414.41 538.0"/>
<path d="M901.6 312.2L415.02 538.0"/>
<path d="M901.6 312.2L415.63 538.0"/>
<path d="M901.6 312.2L416.24 538.0"/>
<path d="M901.6 312.2L416.85 538.0"/>
<path d="M901.6 312.2L417.46 538.0"/>
<path d="M901.6 312.2L418.07 538.0"/>
<path d="M901.6 312.2L418.68 538.0"/>
<path d="M901.6 312.2L419.29 538.0"/>
<path d="M901.6 312.2L419.90 538.0"/>
<path d="M901.6 312.2L420.51 538.0"/>
<path d="M901.6 312.2L421.12 538.0"/>
<path d="M901.6 312.2L421.73 538.0"/>
<path d="M901.6 312.2L422.34 538.0"/>
<path d="M901.6 312.2L422.95 538.0"/>
<path d="M901.6 312.2L423.55 538.0"/>
<path d="M901.6 312.2L424.16 538.0"/>
<path d="M901.6 312.2L424.77 538.0"/>
<path d="M901.6 312.2L425.38 538.0"/>
<path d="M901.6 312.2L425.99 538.0"/>
<path d="M901.6 312.2L426.60 538.0"/>
<path d="M901.6 312.2L427.21 538.0"/>
<path d="M901.6 312.2L427.82 538.0"/>
<path d="M901.6 312.2L428.43 538.0"/>
<path d="M901.6 312.2L429.04 538.0"/>
<path d="M901.6 312.2L429.65 538.0"/>
<path d="M901.6 312.2L430.26 538.0"/>
<path d="M901.6 312.2L430.87 538.0"/>
<path d="M901.6 312.2L431.48 538.0"/>
<path d="M901.6 312.2L432.09 538.0"/>
<path d="M901.6 312.2L432.70 538.0"/>
<path d="M928.3 312.2L433.30 538.0"/>
<path d="M928.3 312.2L433.90 538.0"/>
<path d="M928.3 312.2L434.51 538.0"/>
<path d="M928.3 312.2L435.11 538.0"/>
<path d="M928.3 312.2L435.71 538.0"/>
<path d="M928.3 312.2L436.31 538.0"/>
<path d="M928.3 312.2L436.91 538.0"/>
<path d="M928.3 312.2L437.52 538.0"/>
<path d="M928.3 312.2L438.12 538.0"/>
<path d="M928.3 312.2L438.72 538.0"/>
<path d="M928.3 312.2L439.32 538.0"/>
<path d="M928.3 312.2L439.93 538.0"/>
<path d="M928.3 312.2L440.53 538.0"/>
<path d="M928.3 312.2L441.13 538.0"/>
<path d="M928.3 312.2L441.73 538.0"/>
<path d="M928.3 312.2L442.34 538.0"/>
<path d="M928.3 312.2L442.94 538.0"/>
<path d="M928.3 312.2L443.54 538.0"/>
<path d="M928.3 312.2L444.14 538.0"/>
<path d="M928.3 312.2L444.74 538.0"/>
<path d="M928.3 312.2L445.35 538.0"/>
<path d="M928.3 312.2L445.95 538.0"/>
<path d="M928.3 312.2L446.55 538.0"/>
<path d="M928.3 312.2L447.15 538.0"/>
<path d="M928.3 312.2L447.76 538.0"/>
<path d="M928.3 312.2L448.36 538.0"/>
<path d="M928.3 312.2L448.96 538.0"/>
<path d="M928.3 312.2L449.56 538.0"/>
<path d="M928.3 312.2L450.16 538.0"/>
<path d="M928.3 312.2L450.77 538.0"/>
<path d="M928.3 312.2L451.37 538.0"/>
<path d="M928.3 312.2L451.97 538.0"/>
<path d="M928.3 312.2L452.57 538.0"/>
<path d="M928.3 312.2L453.18 538.0"/>
<path d="M928.3 312.2L453.78 538.0"/>
<path d="M928.3 312.2L454.38 538.0"/>
<path d="M928.3 312.2L454.98 538.0"/>
<path d="M928.3 312.2L455.59 538.0"/>
<path d="M928.3 312.2L456.19 538.0"/>
<path d="M928.3 312.2L456.79 538.0"/>
<path d="M928.3 312.2L457.39 538.0"/>
<path d="M928.3 312.2L457.99 538.0"/>
<path d="M928.3 312.2L458.60 538.0"/>
<path d="M928.3 312.2L459.20 538.0"/>
<path d="M928.3 312.2L459.80 538.0"/>
<path d="M928.3 312.2L460.40 538.0"/>
<path d="M928.3 312.2L461.01 538.0"/>
<path d="M928.3 312.2L461.61 538.0"/>
<path d="M928.3 312.2L462.21 538.0"/>
<path d="M928.3 312.2L462.81 538.0"/>
<path d="M928.3 312.2L463.41 538.0"/>
<path d="M928.3 312.2L464.02 538.0"/>
<path d="M928.3 312.2L464.62 538.0"/>
<path d="M928.3 312.2L465.22 538.0"/>
<path d="M928.3 312.2L465.82 538.0"/>
<path d="M928.3 312.2L466.43 538.0"/>
<path d="M928.3 312.2L467.03 538.0"/>
<path d="M928.3 312.2L467.63 538.0"/>
<path d="M928.3 312.2L468.23 538.0"/>
<path d="M928.3 312.2L468.84 538.0"/>
<path d="M928.3 312.2L469.44 538.0"/>
<path d="M928.3 312.2L470.04 538.0"/>
<path d="M928.3 312.2L470.64 538.0"/>
<path d="M928.3 312.2L471.24 538.0"/>
<path d="M928.3 312.2L471.85 538.0"/>
<path d="M928.3 312.2L472.45 538.0"/>
<path d="M928.3 312.2L473.05 538.0"/>
<path d="M928.3 312.2L473.65 538.0"/>
<path d="M928.3 312.2L474.26 538.0"/>
<path d="M928.3 312.2L474.86 538.0"/>
<path d="M928.3 312.2L475.46 538.0"/>
<path d="M928.3 312.2L476.06 538.0"/>
<path d="M928.3 312.2L476.66 538.0"/>
<path d="M928.3 312.2L477.27 538.0"/>
<path d="M928.3 312.2L477.87 538.0"/>
<path d="M928.3 312.2L478.47 538.0"/>
<path d="M928.3 312.2L479.07 538.0"/>
<path d="M928.3 312.2L479.68 538.0"/>
<path d="M928.3 312.2L480.28 538.0"/>
<path d="M928.3 312.2L480.88 538.0"/>
<path d="M928.3 312.2L481.48 538.0"/>
<path d="M928.3 312.2L482.09 538.0"/>
<path d="M928.3 312.2L482.69 538.0"/>
<path d="M928.3 312.2L483.29 538.0"/>
<path d="M928.3 312.2L483.89 538.0"/>
<path d="M928.3 312.2L484.49 538.0"/>
<path d="M928.3 312.2L485.10 538.0"/>
<path d="M928.3 312.2L485.70 538.0"/>
<path d="M100.1 312.2L486.30 538.0"/>
<path d="M100.1 312.2L486.89 538.0"/>
<path d="M100.1 312.2L487.49 538.0"/>
<path d="M100.1 312.2L488.08 538.0"/>
<path d="M100.1 312.2L488.68 538.0"/>
<path d="M100.1 312.2L489.27 538.0"/>
<path d="M100.1 312.2L489.87 538.0"/>
<path d="M100.1 312.2L490.46 538.0"/>
<path d="M100.1 312.2L491.06 538.0"/>
<path d="M100.1 312.2L491.65 538.0"/>
<path d="M100.1 312.2L492.25 538.0"/>
<path d="M100.1 312.2L492.85 538.0"/>
<path d="M100.1 312.2L493.44 538.0"/>
<path d="M100.1 312.2L494.04 538.0"/>
<path d="M100.1 312.2L494.63 538.0"/>
<path d="M100.1 312.2L495.23 538.0"/>
<path d="M100.1 312.2L495.82 538.0"/>
<path d="M100.1 312.2L496.42 538.0"/>
<path d="M100.1 312.2L497.01 538.0"/>
<path d="M100.1 312.2L497.61 538.0"/>
<path d="M100.1 312.2L498.20 538.0"/>
<path d="M100.1 312.2L498.80 538.0"/>
<path d="M100.1 312.2L499.39 538.0"/>
<path d="M100.1 312.2L499.99 538.0"/>
<path d="M100.1 312.2L500.58 538.0"/>
<path d="M100.1 312.2L501.18 538.0"/>
<path d="M100.1 312.2L501.77 538.0"/>
<path d="M100.1 312.2L502.37 538.0"/>
<path d="M100.1 312.2L502.96 538.0"/>
<path d="M100.1 312.2L503.56 538.0"/>
<path d="M100.1 312.2L504.15 538.0"/>
<path d="M100.1 312.2L504.75 538.0"/>
<path d="M100.1 312.2L505.35 538.0"/>
<path d="M100.1 312.2L505.94 538.0"/>
<path d="M100.1 312.2L506.54 538.0"/>
<path d="M100.1 312.2L507.13 538.0"/>
<path d="M100.1 312.2L507.73 538.0"/>
<path d="M100.1 312.2L508.32 538.0"/>
<path d="M100.1 312.2L508.92 538.0"/>
<path d="M100.1 312.2L509.51 538.0"/>
<path d="M100.1 312.2L510.11 538.0"/>
<path d="M100.1 312.2L510.70 538.0"/>
<path d="M126.8 312.2L511.30 538.0"/>
<path d="M126.8 312.2L511.90 538.0"/>
<path d="M126.8 312.2L512.50 538.0"/>
<path d="M126.8 312.2L513.10 538.0"/>
<path d="M126.8 312.2L513.70 538.0"/>
<path d="M126.8 312.2L514.30 538.0"/>
<path d="M126.8 312.2L514.90 538.0"/>
<path d="M126.8 312.2L515.50 538.0"/>
<path d="M126.8 312.2L516.10 538.0"/>
<path d="M126.8 312.2L516.70 538.0"/>
<path d="M126.8 312.2L517.30 538.0"/>
<path d="M126.8 312.2L517.90 538.0"/>
<path d="M126.8 312.2L518.50 538.0"/>
<path d="M126.8 312.2L519.10 538.0"/>
<path d="M126.8 312.2L519.70 538.0"/>
<path d="M126.8 312.2L520.30 538.0"/>
<path d="M126.8 312.2L520.90 538.0"/>
<path d="M126.8 312.2L521.50 538.0"/>
<path d="M126.8 312.2L522.10 538.0"/>
<path d="M126.8 312.2L522.70 538.0"/>
<path d="M126.8 312.2L523.30 538.0"/>
<path d="M126.8 312.2L523.90 538.0"/>
<path d="M126.8 312.2L524.50 538.0"/>
<path d="M126.8 312.2L525.10 538.0"/>
<path d="M126.8 312.2L525.70 538.0"/>
<path d="M126.8 312.2L526.30 538.0"/>
<path d="M126.8 312.2L526.90 538.0"/>
<path d="M126.8 312.2L527.50 538.0"/>
<path d="M126.8 312.2L528.10 538.0"/>
<path d="M126.8 312.2L528.70 538.0"/>
<path d="M126.8 312.2L529.30 538.0"/>
<path d="M126.8 312.2L529.90 538.0"/>
<path d="M126.8 312.2L530.50 538.0"/>
<path d="M126.8 312.2L531.10 538.0"/>
<path d="M126.8 312.2L531.70 538.0"/>
<path d="M126.8 312.2L532.30 538.0"/>
<path d="M126.8 312.2L532.90 538.0"/>
<path d="M126.8 312.2L533.50 538.0"/>
<path d="M126.8 312.2L534.10 538.0"/>
<path d="M126.8 312.2L534.70 538.0"/>
<path d="M126.8 312.2L535.30 538.0"/>
<path d="M126.8 312.2L535.90 538.0"/>
<path d="M126.8 312.2L536.50 538.0"/>
<path d="M126.8 312.2L537.10 538.0"/>
<path d="M126.8 312.2L537.70 538.0"/>
<path d="M126.8 312.2L538.30 538.0"/>
<path d="M126.8 312.2L538.90 538.0"/>
<path d="M126.8 312.2L539.50 538.0"/>
<path d="M126.8 312.2L540.10 538.0"/>
<path d="M126.8 312.2L540.70 538.0"/>
<path d="M126.8 312.2L541.30 538.0"/>
<path d="M126.8 312.2L541.90 538.0"/>
<path d="M126.8 312.2L542.50 538.0"/>
<path d="M126.8 312.2L543.10 538.0"/>
<path d="M126.8 312.2L543.70 538.0"/>
<path d="M126.8 312.2L544.30 538.0"/>
<path d="M126.8 312.2L544.90 538.0"/>
<path d="M126.8 312.2L545.50 538.0"/>
<path d="M126.8 312.2L546.10 538.0"/>
<path d="M126.8 312.2L546.70 538.0"/>
<path d="M126.8 312.2L547.30 538.0"/>
<path d="M126.8 312.2L547.90 538.0"/>
<path d="M126.8 312.2L548.50 538.0"/>
<path d="M126.8 312.2L549.10 538.0"/>
<path d="M126.8 312.2L549.70 538.0"/>
<path d="M153.5 312.2L550.30 538.0"/>
<path d="M153.5 312.2L550.91 538.0"/>
<path d="M153.5 312.2L551.51 538.0"/>
<path d="M153.5 312.2L552.11 538.0"/>
<path d="M153.5 312.2L552.72 538.0"/>
<path d="M153.5 312.2L553.32 538.0"/>
<path d="M153.5 312.2L553.92 538.0"/>
<path d="M153.5 312.2L554.53 538.0"/>
<path d="M153.5 312.2L555.13 538.0"/>
<path d="M153.5 312.2L555.73 538.0"/>
<path d="M153.5 312.2L556.34 538.0"/>
<path d="M153.5 312.2L556.94 538.0"/>
<path d="M153.5 312.2L557.54 538.0"/>
<path d="M153.5 312.2L558.15 538.0"/>
<path d="M153.5 312.2L558.75 538.0"/>
<path d="M153.5 312.2L559.35 538.0"/>
<path d="M153.5 312.2L559.96 538.0"/>
<path d="M153.5 312.2L560.56 538.0"/>
<path d="M153.5 312.2L561.16 538.0"/>
<path d="M153.5 312.2L561.77 538.0"/>
<path d="M153.5 312.2L562.37 538.0"/>
<path d="M153.5 312.2L562.97 538.0"/>
<path d="M153.5 312.2L563.58 538.0"/>
<path d="M153.5 312.2L564.18 538.0"/>
<path d="M153.5 312.2L564.78 538.0"/>
<path d="M153.5 312.2L565.39 538.0"/>
<path d="M153.5 312.2L565.99 538.0"/>
<path d="M153.5 312.2L566.59 538.0"/>
<path d="M153.5 312.2L567.20 538.0"/>
<path d="M153.5 312.2L567.80 538.0"/>
<path d="M153.5 312.2L568.41 538.0"/>
<path d="M153.5 312.2L569.01 538.0"/>
<path d="M153.5 312.2L569.61 538.0"/>
<path d="M153.5 312.2L570.22 538.0"/>
<path d="M153.5 312.2L570.82 538.0"/>
<path d="M153.5 312.2L571.42 538.0"/>
<path d="M153.5 312.2L572.03 538.0"/>
<path d="M153.5 312.2L572.63 538.0"/>
<path d="M153.5 312.2L573.23 538.0"/>
<path d="M153.5 312.2L573.84 538.0"/>
<path d="M153.5 312.2L574.44 538.0"/>
<path d="M153.5 312.2L575.04 538.0"/>
<path d="M153.5 312.2L575.65 538.0"/>
<path d="M153.5 312.2L576.25 538.0"/>
<path d="M153.5 312.2L576.85 538.0"/>
<path d="M153.5 312.2L577.46 538.0"/>
<path d="M153.5 312.2L578.06 538.0"/>
<path d="M153.5 312.2L578.66 538.0"/>
<path d="M153.5 312.2L579.27 538.0"/>
<path d="M153.5 312.2L579.87 538.0"/>
<path d="M153.5 312.2L580.47 538.0"/>
<path d="M153.5 312.2L581.08 538.0"/>
<path d="M153.5 312.2L581.68 538.0"/>
<path d="M153.5 312.2L582.28 538.0"/>
<path d="M153.5 312.2L582.89 538.0"/>
<path d="M153.5 312.2L583.49 538.0"/>
<path d="M153.5 312.2L584.09 538.0"/>
<path d="M153.5 312.2L584.70 538.0"/>
<path d="M180.2 312.2L585.30 538.0"/>
<path d="M180.2 312.2L585.90 538.0"/>
<path d="M180.2 312.2L586.50 538.0"/>
<path d="M180.2 312.2L587.10 538.0"/>
<path d="M180.2 312.2L587.70 538.0"/>
<path d="M180.2 312.2L588.30 538.0"/>
<path d="M180.2 312.2L588.90 538.0"/>
<path d="M180.2 312.2L589.50 538.0"/>
<path d="M180.2 312.2L590.10 538.0"/>
<path d="M180.2 312.2L590.70 538.0"/>
<path d="M180.2 312.2L591.30 538.0"/>
<path d="M180.2 312.2L591.90 538.0"/>
<path d="M180.2 312.2L592.50 538.0"/>
<path d="M180.2 312.2L593.10 538.0"/>
<path d="M180.2 312.2L593.70 538.0"/>
<path d="M180.2 312.2L594.30 538.0"/>
<path d="M180.2 312.2L594.90 538.0"/>
<path d="M180.2 312.2L595.50 538.0"/>
<path d="M180.2 312.2L596.10 538.0"/>
<path d="M180.2 312.2L596.70 538.0"/>
<path d="M180.2 312.2L597.30 538.0"/>
<path d="M180.2 312.2L597.90 538.0"/>
<path d="M180.2 312.2L598.50 538.0"/>
<path d="M180.2 312.2L599.10 538.0"/>
<path d="M180.2 312.2L599.70 538.0"/>
<path d="M180.2 312.2L600.30 538.0"/>
<path d="M180.2 312.2L600.90 538.0"/>
<path d="M180.2 312.2L601.50 538.0"/>
<path d="M180.2 312.2L602.10 538.0"/>
<path d="M180.2 312.2L602.70 538.0"/>
<path d="M180.2 312.2L603.30 538.0"/>
<path d="M180.2 312.2L603.90 538.0"/>
<path d="M180.2 312.2L604.50 538.0"/>
<path d="M180.2 312.2L605.10 538.0"/>
<path d="M180.2 312.2L605.70 538.0"/>
<path d="M207.0 312.2L606.30 538.0"/>
<path d="M207.0 312.2L606.89 538.0"/>
<path d="M207.0 312.2L607.49 538.0"/>
<path d="M207.0 312.2L608.09 538.0"/>
<path d="M207.0 312.2L608.68 538.0"/>
<path d="M207.0 312.2L609.28 538.0"/>
<path d="M207.0 312.2L609.88 538.0"/>
<path d="M207.0 312.2L610.47 538.0"/>
<path d="M207.0 312.2L611.07 538.0"/>
<path d="M207.0 312.2L611.67 538.0"/>
<path d="M207.0 312.2L612.26 538.0"/>
<path d="M207.0 312.2L612.86 538.0"/>
<path d="M207.0 312.2L613.46 538.0"/>
<path d="M207.0 312.2L614.05 538.0"/>
<path d="M207.0 312.2L614.65 538.0"/>
<path d="M207.0 312.2L615.25 538.0"/>
<path d="M207.0 312.2L615.84 538.0"/>
<path d="M207.0 312.2L616.44 538.0"/>
<path d="M207.0 312.2L617.04 538.0"/>
<path d="M207.0 312.2L617.63 538.0"/>
<path d="M207.0 312.2L618.23 538.0"/>
<path d="M207.0 312.2L618.82 538.0"/>
<path d="M207.0 312.2L619.42 538.0"/>
<path d="M207.0 312.2L620.02 538.0"/>
<path d="M207.0 312.2L620.61 538.0"/>
<path d="M207.0 312.2L621.21 538.0"/>
<path d="M207.0 312.2L621.81 538.0"/>
<path d="M207.0 312.2L622.40 538.0"/>
<path d="M207.0 312.2L623.00 538.0"/>
<path d="M207.0 312.2L623.60 538.0"/>
<path d="M207.0 312.2L624.19 538.0"/>
<path d="M207.0 312.2L624.79 538.0"/>
<path d="M207.0 312.2L625.39 538.0"/>
<path d="M207.0 312.2L625.98 538.0"/>
<path d="M207.0 312.2L626.58 538.0"/>
<path d="M207.0 312.2L627.18 538.0"/>
<path d="M207.0 312.2L627.77 538.0"/>
<path d="M207.0 312.2L628.37 538.0"/>
<path d="M207.0 312.2L628.96 538.0"/>
<path d="M207.0 312.2L629.56 538.0"/>
<path d="M207.0 312.2L630.16 538.0"/>
<path d="M207.0 312.2L630.75 538.0"/>
<path d="M207.0 312.2L631.35 538.0"/>
<path d="M207.0 312.2L631.95 538.0"/>
<path d="M207.0 312.2L632.54 538.0"/>
<path d="M207.0 312.2L633.14 538.0"/>
<path d="M207.0 312.2L633.74 538.0"/>
<path d="M207.0 312.2L634.33 538.0"/>
<path d="M207.0 312.2L634.93 538.0"/>
<path d="M207.0 312.2L635.53 538.0"/>
<path d="M207.0 312.2L636.12 538.0"/>
<path d="M207.0 312.2L636.72 538.0"/>
<path d="M207.0 312.2L637.32 538.0"/>
<path d="M207.0 312.2L637.91 538.0"/>
<path d="M207.0 312.2L638.51 538.0"/>
<path d="M207.0 312.2L639.11 538.0"/>
<path d="M207.0 312.2L639.70 538.0"/>
<path d="M233.7 312.2L640.30 538.0"/>
<path d="M233.7 312.2L640.89 538.0"/>
<path d="M233.7 312.2L641.49 538.0"/>
<path d="M233.7 312.2L642.09 538.0"/>
<path d="M233.7 312.2L642.68 538.0"/>
<path d="M233.7 312.2L643.28 538.0"/>
<path d="M233.7 312.2L643.87 538.0"/>
<path d="M233.7 312.2L644.47 538.0"/>
<path d="M233.7 312.2L645.06 538.0"/>
<path d="M233.7 312.2L645.66 538.0"/>
<path d="M233.7 312.2L646.26 538.0"/>
<path d="M233.7 312.2L646.85 538.0"/>
<path d="M233.7 312.2L647.45 538.0"/>
<path d="M233.7 312.2L648.04 538.0"/>
<path d="M233.7 312.2L648.64 538.0"/>
<path d="M233.7 312.2L649.23 538.0"/>
<path d="M233.7 312.2L649.83 538.0"/>
<path d="M233.7 312.2L650.43 538.0"/>
<path d="M233.7 312.2L651.02 538.0"/>
<path d="M233.7 312.2L651.62 538.0"/>
<path d="M233.7 312.2L652.21 538.0"/>
<path d="M233.7 312.2L652.81 538.0"/>
<path d="M233.7 312.2L653.40 538.0"/>
<path d="M233.7 312.2L654.00 538.0"/>
<path d="M233.7 312.2L654.60 538.0"/>
<path d="M233.7 312.2L655.19 538.0"/>
<path d="M233.7 312.2L655.79 538.0"/>
<path d="M233.7 312.2L656.38 538.0"/>
<path d="M233.7 312.2L656.98 538.0"/>
<path d="M233.7 312.2L657.57 538.0"/>
<path d="M233.7 312.2L658.17 538.0"/>
<path d="M233.7 312.2L658.77 538.0"/>
<path d="M233.7 312.2L659.36 538.0"/>
<path d="M233.7 312.2L659.96 538.0"/>
<path d="M233.7 312.2L660.55 538.0"/>
<path d="M233.7 312.2L661.15 538.0"/>
<path d="M233.7 312.2L661.74 538.0"/>
<path d="M233.7 312.2L662.34 538.0"/>
<path d="M233.7 312.2L662.94 538.0"/>
<path d="M233.7 312.2L663.53 538.0"/>
<path d="M233.7 312.2L664.13 538.0"/>
<path d="M233.7 312.2L664.72 538.0"/>
<path d="M233.7 312.2L665.32 538.0"/>
<path d="M233.7 312.2L665.91 538.0"/>
<path d="M233.7 312.2L666.51 538.0"/>
<path d="M233.7 312.2L667.11 538.0"/>
<path d="M233.7 312.2L667.70 538.0"/>
<path d="M260.4 312.2L668.30 538.0"/>
<path d="M260.4 312.2L668.89 538.0"/>
<path d="M260.4 312.2L669.49 538.0"/>
<path d="M260.4 312.2L670.09 538.0"/>
<path d="M260.4 312.2L670.68 538.0"/>
<path d="M260.4 312.2L671.28 538.0"/>
<path d="M260.4 312.2L671.87 538.0"/>
<path d="M260.4 312.2L672.47 538.0"/>
<path d="M260.4 312.2L673.06 538.0"/>
<path d="M260.4 312.2L673.66 538.0"/>
<path d="M260.4 312.2L674.26 538.0"/>
<path d="M260.4 312.2L674.85 538.0"/>
<path d="M260.4 312.2L675.45 538.0"/>
<path d="M260.4 312.2L676.04 538.0"/>
<path d="M260.4 312.2L676.64 538.0"/>
<path d="M260.4 312.2L677.23 538.0"/>
<path d="M260.4 312.2L677.83 538.0"/>
<path d="M260.4 312.2L678.43 538.0"/>
<path d="M260.4 312.2L679.02 538.0"/>
<path d="M260.4 312.2L679.62 538.0"/>
<path d="M260.4 312.2L680.21 538.0"/>
<path d="M260.4 312.2L680.81 538.0"/>
<path d="M260.4 312.2L681.40 538.0"/>
<path d="M260.4 312.2L682.00 538.0"/>
<path d="M260.4 312.2L682.60 538.0"/>
<path d="M260.4 312.2L683.19 538.0"/>
<path d="M260.4 312.2L683.79 538.0"/>
<path d="M260.4 312.2L684.38 538.0"/>
<path d="M260.4 312.2L684.98 538.0"/>
<path d="M260.4 312.2L685.57 538.0"/>
<path d="M260.4 312.2L686.17 538.0"/>
<path d="M260.4 312.2L686.77 538.0"/>
<path d="M260.4 312.2L687.36 538.0"/>
<path d="M260.4 312.2L687.96 538.0"/>
<path d="M260.4 312.2L688.55 538.0"/>
<path d="M260.4 312.2L689.15 538.0"/>
<path d="M260.4 312.2L689.74 538.0"/>
<path d="M260.4 312.2L690.34 538.0"/>
<path d="M260.4 312.2L690.94 538.0"/>
<path d="M260.4 312.2L691.53 538.0"/>
<path d="M260.4 312.2L692.13 538.0"/>
<path d="M260.4 312.2L692.72 538.0"/>
<path d="M260.4 312.2L693.32 538.0"/>
<path d="M260.4 312.2L693.91 538.0"/>
<path d="M260.4 312.2L694.51 538.0"/>
<path d="M260.4 312.2L695.11 538.0"/>
<path d="M260.4 312.2L695.70 538.0"/>
<path d="M287.1 312.2L696.30 538.0"/>
<path d="M287.1 312.2L696.89 538.0"/>
<path d="M287.1 312.2L697.48 538.0"/>
<path d="M287.1 312.2L698.07 538.0"/>
<path d="M287.1 312.2L698.67 538.0"/>
<path d="M287.1 312.2L699.26 538.0"/>
<path d="M287.1 312.2L699.85 538.0"/>
<path d="M287.1 312.2L700.44 538.0"/>
<path d="M287.1 312.2L701.04 538.0"/>
<path d="M287.1 312.2L701.63 538.0"/>
<path d="M287.1 312.2L702.22 538.0"/>
<path d="M287.1 312.2L702.81 538.0"/>
<path d="M287.1 312.2L703.41 538.0"/>
<path d="M287.1 312.2L704.00 538.0"/>
<path d="M287.1 312.2L704.59 538.0"/>
<path d="M287.1 312.2L705.19 538.0"/>
<path d="M287.1 312.2L705.78 538.0"/>
<path d="M287.1 312.2L706.37 538.0"/>
<path d="M287.1 312.2L706.96 538.0"/>
<path d="M287.1 312.2L707.56 538.0"/>
<path d="M287.1 312.2L708.15 538.0"/>
<path d="M287.1 312.2L708.74 538.0"/>
<path d="M287.1 312.2L709.33 538.0"/>
<path d="M287.1 312.2L709.93 538.0"/>
<path d="M287.1 312.2L710.52 538.0"/>
<path d="M287.1 312.2L711.11 538.0"/>
<path d="M287.1 312.2L711.70 538.0"/>
</g>
<g stroke="#D200A8" stroke-width="1.2" stroke-opacity="0.237">
<path d="M313.8 312.2L87.90 538.0"/>
<path d="M313.8 312.2L88.49 538.0"/>
<path d="M313.8 312.2L89.08 538.0"/>
<path d="M313.8 312.2L89.67 538.0"/>
<path d="M313.8 312.2L90.26 538.0"/>
<path d="M313.8 312.2L90.85 538.0"/>
<path d="M313.8 312.2L91.44 538.0"/>
<path d="M313.8 312.2L92.03 538.0"/>
<path d="M313.8 312.2L92.62 538.0"/>
<path d="M313.8 312.2L93.21 538.0"/>
<path d="M313.8 312.2L93.80 538.0"/>
<path d="M313.8 312.2L94.40 538.0"/>
<path d="M313.8 312.2L94.99 538.0"/>
<path d="M313.8 312.2L95.58 538.0"/>
<path d="M313.8 312.2L96.17 538.0"/>
<path d="M313.8 312.2L96.76 538.0"/>
<path d="M313.8 312.2L97.35 538.0"/>
<path d="M313.8 312.2L97.94 538.0"/>
<path d="M313.8 312.2L98.53 538.0"/>
<path d="M313.8 312.2L99.12 538.0"/>
<path d="M313.8 312.2L99.71 538.0"/>
<path d="M313.8 312.2L100.30 538.0"/>
<path d="M340.5 312.2L100.90 538.0"/>
<path d="M340.5 312.2L101.50 538.0"/>
<path d="M340.5 312.2L102.09 538.0"/>
<path d="M340.5 312.2L102.69 538.0"/>
<path d="M340.5 312.2L103.29 538.0"/>
<path d="M340.5 312.2L103.89 538.0"/>
<path d="M340.5 312.2L104.48 538.0"/>
<path d="M340.5 312.2L105.08 538.0"/>
<path d="M340.5 312.2L105.68 538.0"/>
<path d="M340.5 312.2L106.28 538.0"/>
<path d="M340.5 312.2L106.88 538.0"/>
<path d="M340.5 312.2L107.47 538.0"/>
<path d="M340.5 312.2L108.07 538.0"/>
<path d="M340.5 312.2L108.67 538.0"/>
<path d="M340.5 312.2L109.27 538.0"/>
<path d="M340.5 312.2L109.86 538.0"/>
<path d="M340.5 312.2L110.46 538.0"/>
<path d="M340.5 312.2L111.06 538.0"/>
<path d="M340.5 312.2L111.66 538.0"/>
<path d="M340.5 312.2L112.25 538.0"/>
<path d="M340.5 312.2L112.85 538.0"/>
<path d="M340.5 312.2L113.45 538.0"/>
<path d="M340.5 312.2L114.05 538.0"/>
<path d="M340.5 312.2L114.65 538.0"/>
<path d="M340.5 312.2L115.24 538.0"/>
<path d="M340.5 312.2L115.84 538.0"/>
<path d="M340.5 312.2L116.44 538.0"/>
<path d="M340.5 312.2L117.04 538.0"/>
<path d="M340.5 312.2L117.63 538.0"/>
<path d="M340.5 312.2L118.23 538.0"/>
<path d="M340.5 312.2L118.83 538.0"/>
<path d="M340.5 312.2L119.43 538.0"/>
<path d="M340.5 312.2L120.02 538.0"/>
<path d="M340.5 312.2L120.62 538.0"/>
<path d="M340.5 312.2L121.22 538.0"/>
<path d="M340.5 312.2L121.82 538.0"/>
<path d="M340.5 312.2L122.42 538.0"/>
<path d="M340.5 312.2L123.01 538.0"/>
<path d="M340.5 312.2L123.61 538.0"/>
<path d="M340.5 312.2L124.21 538.0"/>
<path d="M340.5 312.2L124.81 538.0"/>
<path d="M340.5 312.2L125.40 538.0"/>
<path d="M340.5 312.2L126.00 538.0"/>
<path d="M367.3 312.2L126.60 538.0"/>
<path d="M367.3 312.2L127.21 538.0"/>
<path d="M367.3 312.2L127.82 538.0"/>
<path d="M367.3 312.2L128.42 538.0"/>
<path d="M367.3 312.2L129.03 538.0"/>
<path d="M367.3 312.2L129.64 538.0"/>
<path d="M367.3 312.2L130.24 538.0"/>
<path d="M367.3 312.2L130.85 538.0"/>
<path d="M367.3 312.2L131.46 538.0"/>
<path d="M367.3 312.2L132.06 538.0"/>
<path d="M367.3 312.2L132.67 538.0"/>
<path d="M367.3 312.2L133.28 538.0"/>
<path d="M367.3 312.2L133.88 538.0"/>
<path d="M367.3 312.2L134.49 538.0"/>
<path d="M367.3 312.2L135.09 538.0"/>
<path d="M367.3 312.2L135.70 538.0"/>
<path d="M367.3 312.2L136.31 538.0"/>
<path d="M367.3 312.2L136.91 538.0"/>
<path d="M367.3 312.2L137.52 538.0"/>
<path d="M367.3 312.2L138.13 538.0"/>
<path d="M367.3 312.2L138.73 538.0"/>
<path d="M367.3 312.2L139.34 538.0"/>
<path d="M367.3 312.2L139.95 538.0"/>
<path d="M367.3 312.2L140.55 538.0"/>
<path d="M367.3 312.2L141.16 538.0"/>
<path d="M367.3 312.2L141.77 538.0"/>
<path d="M367.3 312.2L142.37 538.0"/>
<path d="M367.3 312.2L142.98 538.0"/>
<path d="M367.3 312.2L143.59 538.0"/>
<path d="M367.3 312.2L144.19 538.0"/>
<path d="M367.3 312.2L144.80 538.0"/>
<path d="M367.3 312.2L145.41 538.0"/>
<path d="M367.3 312.2L146.01 538.0"/>
<path d="M367.3 312.2L146.62 538.0"/>
<path d="M367.3 312.2L147.22 538.0"/>
<path d="M367.3 312.2L147.83 538.0"/>
<path d="M367.3 312.2L148.44 538.0"/>
<path d="M367.3 312.2L149.04 538.0"/>
<path d="M367.3 312.2L149.65 538.0"/>
<path d="M367.3 312.2L150.26 538.0"/>
<path d="M367.3 312.2L150.86 538.0"/>
<path d="M367.3 312.2L151.47 538.0"/>
<path d="M367.3 312.2L152.08 538.0"/>
<path d="M367.3 312.2L152.68 538.0"/>
<path d="M367.3 312.2L153.29 538.0"/>
<path d="M367.3 312.2L153.90 538.0"/>
<path d="M394.0 312.2L154.50 538.0"/>
<path d="M394.0 312.2L155.10 538.0"/>
<path d="M394.0 312.2L155.70 538.0"/>
<path d="M394.0 312.2L156.30 538.0"/>
<path d="M394.0 312.2L156.90 538.0"/>
<path d="M394.0 312.2L157.50 538.0"/>
<path d="M394.0 312.2L158.10 538.0"/>
<path d="M394.0 312.2L158.70 538.0"/>
<path d="M394.0 312.2L159.30 538.0"/>
<path d="M394.0 312.2L159.90 538.0"/>
<path d="M394.0 312.2L160.50 538.0"/>
<path d="M394.0 312.2L161.10 538.0"/>
<path d="M394.0 312.2L161.70 538.0"/>
<path d="M394.0 312.2L162.30 538.0"/>
<path d="M394.0 312.2L162.90 538.0"/>
<path d="M394.0 312.2L163.50 538.0"/>
<path d="M394.0 312.2L164.10 538.0"/>
<path d="M394.0 312.2L164.70 538.0"/>
<path d="M394.0 312.2L165.30 538.0"/>
<path d="M394.0 312.2L165.90 538.0"/>
<path d="M394.0 312.2L166.50 538.0"/>
<path d="M394.0 312.2L167.10 538.0"/>
<path d="M420.7 312.2L167.70 538.0"/>
<path d="M420.7 312.2L168.30 538.0"/>
<path d="M420.7 312.2L168.90 538.0"/>
<path d="M420.7 312.2L169.50 538.0"/>
<path d="M420.7 312.2L170.10 538.0"/>
<path d="M420.7 312.2L170.70 538.0"/>
<path d="M420.7 312.2L171.30 538.0"/>
<path d="M420.7 312.2L171.90 538.0"/>
<path d="M420.7 312.2L172.50 538.0"/>
<path d="M420.7 312.2L173.10 538.0"/>
<path d="M420.7 312.2L173.70 538.0"/>
<path d="M420.7 312.2L174.30 538.0"/>
<path d="M420.7 312.2L174.90 538.0"/>
<path d="M420.7 312.2L175.50 538.0"/>
<path d="M420.7 312.2L176.10 538.0"/>
<path d="M420.7 312.2L176.70 538.0"/>
<path d="M420.7 312.2L177.30 538.0"/>
<path d="M420.7 312.2L177.90 538.0"/>
<path d="M420.7 312.2L178.50 538.0"/>
<path d="M420.7 312.2L179.10 538.0"/>
<path d="M420.7 312.2L179.70 538.0"/>
<path d="M420.7 312.2L180.30 538.0"/>
<path d="M420.7 312.2L180.90 538.0"/>
<path d="M420.7 312.2L181.50 538.0"/>
<path d="M420.7 312.2L182.10 538.0"/>
<path d="M420.7 312.2L182.70 538.0"/>
<path d="M420.7 312.2L183.30 538.0"/>
<path d="M420.7 312.2L183.90 538.0"/>
<path d="M420.7 312.2L184.50 538.0"/>
<path d="M420.7 312.2L185.10 538.0"/>
<path d="M420.7 312.2L185.70 538.0"/>
<path d="M420.7 312.2L186.30 538.0"/>
<path d="M420.7 312.2L186.90 538.0"/>
<path d="M420.7 312.2L187.50 538.0"/>
<path d="M420.7 312.2L188.10 538.0"/>
<path d="M420.7 312.2L188.70 538.0"/>
<path d="M420.7 312.2L189.30 538.0"/>
<path d="M420.7 312.2L189.90 538.0"/>
<path d="M420.7 312.2L190.50 538.0"/>
<path d="M420.7 312.2L191.10 538.0"/>
<path d="M420.7 312.2L191.70 538.0"/>
<path d="M420.7 312.2L192.30 538.0"/>
<path d="M420.7 312.2L192.90 538.0"/>
<path d="M420.7 312.2L193.50 538.0"/>
<path d="M420.7 312.2L194.10 538.0"/>
<path d="M420.7 312.2L194.70 538.0"/>
<path d="M420.7 312.2L195.30 538.0"/>
<path d="M420.7 312.2L195.90 538.0"/>
<path d="M420.7 312.2L196.50 538.0"/>
<path d="M420.7 312.2L197.10 538.0"/>
<path d="M420.7 312.2L197.70 538.0"/>
<path d="M420.7 312.2L198.30 538.0"/>
<path d="M447.4 312.2L198.90 538.0"/>
<path d="M447.4 312.2L199.50 538.0"/>
<path d="M447.4 312.2L200.09 538.0"/>
<path d="M447.4 312.2L200.69 538.0"/>
<path d="M447.4 312.2L201.28 538.0"/>
<path d="M447.4 312.2L201.88 538.0"/>
<path d="M447.4 312.2L202.48 538.0"/>
<path d="M447.4 312.2L203.07 538.0"/>
<path d="M447.4 312.2L203.67 538.0"/>
<path d="M447.4 312.2L204.27 538.0"/>
<path d="M447.4 312.2L204.87 538.0"/>
<path d="M447.4 312.2L205.46 538.0"/>
<path d="M447.4 312.2L206.06 538.0"/>
<path d="M447.4 312.2L206.66 538.0"/>
<path d="M447.4 312.2L207.25 538.0"/>
<path d="M447.4 312.2L207.85 538.0"/>
<path d="M447.4 312.2L208.44 538.0"/>
<path d="M447.4 312.2L209.04 538.0"/>
<path d="M447.4 312.2L209.64 538.0"/>
<path d="M447.4 312.2L210.23 538.0"/>
<path d="M447.4 312.2L210.83 538.0"/>
<path d="M447.4 312.2L211.43 538.0"/>
<path d="M447.4 312.2L212.03 538.0"/>
<path d="M447.4 312.2L212.62 538.0"/>
<path d="M447.4 312.2L213.22 538.0"/>
<path d="M447.4 312.2L213.81 538.0"/>
<path d="M447.4 312.2L214.41 538.0"/>
<path d="M447.4 312.2L215.01 538.0"/>
<path d="M447.4 312.2L215.60 538.0"/>
<path d="M447.4 312.2L216.20 538.0"/>
<path d="M474.1 312.2L216.80 538.0"/>
<path d="M474.1 312.2L217.40 538.0"/>
<path d="M474.1 312.2L218.01 538.0"/>
<path d="M474.1 312.2L218.61 538.0"/>
<path d="M474.1 312.2L219.21 538.0"/>
<path d="M474.1 312.2L219.82 538.0"/>
<path d="M474.1 312.2L220.42 538.0"/>
<path d="M474.1 312.2L221.02 538.0"/>
<path d="M474.1 312.2L221.62 538.0"/>
<path d="M474.1 312.2L222.23 538.0"/>
<path d="M474.1 312.2L222.83 538.0"/>
<path d="M474.1 312.2L223.43 538.0"/>
<path d="M474.1 312.2L224.04 538.0"/>
<path d="M474.1 312.2L224.64 538.0"/>
<path d="M474.1 312.2L225.24 538.0"/>
<path d="M474.1 312.2L225.84 538.0"/>
<path d="M474.1 312.2L226.45 538.0"/>
<path d="M474.1 312.2L227.05 538.0"/>
<path d="M474.1 312.2L227.65 538.0"/>
<path d="M474.1 312.2L228.26 538.0"/>
<path d="M474.1 312.2L228.86 538.0"/>
<path d="M474.1 312.2L229.46 538.0"/>
<path d="M474.1 312.2L230.06 538.0"/>
<path d="M474.1 312.2L230.67 538.0"/>
<path d="M474.1 312.2L231.27 538.0"/>
<path d="M474.1 312.2L231.87 538.0"/>
<path d="M474.1 312.2L232.48 538.0"/>
<path d="M474.1 312.2L233.08 538.0"/>
<path d="M474.1 312.2L233.68 538.0"/>
<path d="M474.1 312.2L234.28 538.0"/>
<path d="M474.1 312.2L234.89 538.0"/>
<path d="M474.1 312.2L235.49 538.0"/>
<path d="M474.1 312.2L236.09 538.0"/>
<path d="M474.1 312.2L236.70 538.0"/>
<path d="M474.1 312.2L237.30 538.0"/>
<path d="M500.8 312.2L237.90 538.0"/>
<path d="M500.8 312.2L238.50 538.0"/>
<path d="M500.8 312.2L239.11 538.0"/>
<path d="M500.8 312.2L239.71 538.0"/>
<path d="M500.8 312.2L240.31 538.0"/>
<path d="M500.8 312.2L240.92 538.0"/>
<path d="M500.8 312.2L241.52 538.0"/>
<path d="M500.8 312.2L242.12 538.0"/>
<path d="M500.8 312.2L242.73 538.0"/>
<path d="M500.8 312.2L243.33 538.0"/>
<path d="M500.8 312.2L243.93 538.0"/>
<path d="M500.8 312.2L244.54 538.0"/>
<path d="M500.8 312.2L245.14 538.0"/>
<path d="M500.8 312.2L245.74 538.0"/>
<path d="M500.8 312.2L246.35 538.0"/>
<path d="M500.8 312.2L246.95 538.0"/>
<path d="M500.8 312.2L247.55 538.0"/>
<path d="M500.8 312.2L248.16 538.0"/>
<path d="M500.8 312.2L248.76 538.0"/>
<path d="M500.8 312.2L249.36 538.0"/>
<path d="M500.8 312.2L249.97 538.0"/>
<path d="M500.8 312.2L250.57 538.0"/>
<path d="M500.8 312.2L251.17 538.0"/>
<path d="M500.8 312.2L251.78 538.0"/>
<path d="M500.8 312.2L252.38 538.0"/>
<path d="M500.8 312.2L252.98 538.0"/>
<path d="M500.8 312.2L253.59 538.0"/>
<path d="M500.8 312.2L254.19 538.0"/>
<path d="M500.8 312.2L254.79 538.0"/>
<path d="M500.8 312.2L255.40 538.0"/>
<path d="M500.8 312.2L256.00 538.0"/>
<path d="M500.8 312.2L256.60 538.0"/>
<path d="M500.8 312.2L257.20 538.0"/>
<path d="M500.8 312.2L257.81 538.0"/>
<path d="M500.8 312.2L258.41 538.0"/>
<path d="M500.8 312.2L259.01 538.0"/>
<path d="M500.8 312.2L259.62 538.0"/>
<path d="M500.8 312.2L260.22 538.0"/>
<path d="M500.8 312.2L260.82 538.0"/>
<path d="M500.8 312.2L261.43 538.0"/>
<path d="M500.8 312.2L262.03 538.0"/>
<path d="M500.8 312.2L262.63 538.0"/>
<path d="M500.8 312.2L263.24 538.0"/>
<path d="M500.8 312.2L263.84 538.0"/>
<path d="M500.8 312.2L264.44 538.0"/>
<path d="M500.8 312.2L265.05 538.0"/>
<path d="M500.8 312.2L265.65 538.0"/>
<path d="M500.8 312.2L266.25 538.0"/>
<path d="M500.8 312.2L266.86 538.0"/>
<path d="M500.8 312.2L267.46 538.0"/>
<path d="M500.8 312.2L268.06 538.0"/>
<path d="M500.8 312.2L268.67 538.0"/>
<path d="M500.8 312.2L269.27 538.0"/>
<path d="M500.8 312.2L269.87 538.0"/>
<path d="M500.8 312.2L270.48 538.0"/>
<path d="M500.8 312.2L271.08 538.0"/>
<path d="M500.8 312.2L271.68 538.0"/>
<path d="M500.8 312.2L272.29 538.0"/>
<path d="M500.8 312.2L272.89 538.0"/>
<path d="M500.8 312.2L273.49 538.0"/>
<path d="M500.8 312.2L274.10 538.0"/>
<path d="M500.8 312.2L274.70 538.0"/>
<path d="M527.6 312.2L716.80 538.0"/>
<path d="M527.6 312.2L717.41 538.0"/>
<path d="M527.6 312.2L718.01 538.0"/>
<path d="M527.6 312.2L718.61 538.0"/>
<path d="M527.6 312.2L719.22 538.0"/>
<path d="M527.6 312.2L719.82 538.0"/>
<path d="M527.6 312.2L720.43 538.0"/>
<path d="M527.6 312.2L721.03 538.0"/>
<path d="M527.6 312.2L721.63 538.0"/>
<path d="M527.6 312.2L722.24 538.0"/>
<path d="M527.6 312.2L722.84 538.0"/>
<path d="M527.6 312.2L723.45 538.0"/>
<path d="M527.6 312.2L724.05 538.0"/>
<path d="M527.6 312.2L724.65 538.0"/>
<path d="M527.6 312.2L725.26 538.0"/>
<path d="M527.6 312.2L725.86 538.0"/>
<path d="M527.6 312.2L726.47 538.0"/>
<path d="M527.6 312.2L727.07 538.0"/>
<path d="M527.6 312.2L727.67 538.0"/>
<path d="M527.6 312.2L728.28 538.0"/>
<path d="M527.6 312.2L728.88 538.0"/>
<path d="M527.6 312.2L729.49 538.0"/>
<path d="M527.6 312.2L730.09 538.0"/>
<path d="M527.6 312.2L730.69 538.0"/>
<path d="M527.6 312.2L731.30 538.0"/>
<path d="M527.6 312.2L731.90 538.0"/>
<path d="M527.6 312.2L732.51 538.0"/>
<path d="M527.6 312.2L733.11 538.0"/>
<path d="M527.6 312.2L733.71 538.0"/>
<path d="M527.6 312.2L734.32 538.0"/>
<path d="M527.6 312.2L734.92 538.0"/>
<path d="M527.6 312.2L735.53 538.0"/>
<path d="M527.6 312.2L736.13 538.0"/>
<path d="M527.6 312.2L736.73 538.0"/>
<path d="M527.6 312.2L737.34 538.0"/>
<path d="M527.6 312.2L737.94 538.0"/>
<path d="M527.6 312.2L738.55 538.0"/>
<path d="M527.6 312.2L739.15 538.0"/>
<path d="M527.6 312.2L739.75 538.0"/>
<path d="M527.6 312.2L740.36 538.0"/>
<path d="M527.6 312.2L740.96 538.0"/>
<path d="M527.6 312.2L741.57 538.0"/>
<path d="M527.6 312.2L742.17 538.0"/>
<path d="M527.6 312.2L742.77 538.0"/>
<path d="M527.6 312.2L743.38 538.0"/>
<path d="M527.6 312.2L743.98 538.0"/>
<path d="M527.6 312.2L744.59 538.0"/>
<path d="M527.6 312.2L745.19 538.0"/>
<path d="M527.6 312.2L745.79 538.0"/>
<path d="M527.6 312.2L746.40 538.0"/>
<path d="M554.3 312.2L747.00 538.0"/>
<path d="M554.3 312.2L747.61 538.0"/>
<path d="M554.3 312.2L748.22 538.0"/>
<path d="M554.3 312.2L748.82 538.0"/>
<path d="M554.3 312.2L749.43 538.0"/>
<path d="M554.3 312.2L750.04 538.0"/>
<path d="M554.3 312.2L750.64 538.0"/>
<path d="M554.3 312.2L751.25 538.0"/>
<path d="M554.3 312.2L751.86 538.0"/>
<path d="M554.3 312.2L752.46 538.0"/>
<path d="M554.3 312.2L753.07 538.0"/>
<path d="M554.3 312.2L753.68 538.0"/>
<path d="M554.3 312.2L754.29 538.0"/>
<path d="M554.3 312.2L754.89 538.0"/>
<path d="M554.3 312.2L755.50 538.0"/>
<path d="M554.3 312.2L756.11 538.0"/>
<path d="M554.3 312.2L756.71 538.0"/>
<path d="M554.3 312.2L757.32 538.0"/>
<path d="M554.3 312.2L757.93 538.0"/>
<path d="M554.3 312.2L758.53 538.0"/>
<path d="M554.3 312.2L759.14 538.0"/>
<path d="M554.3 312.2L759.75 538.0"/>
<path d="M554.3 312.2L760.35 538.0"/>
<path d="M554.3 312.2L760.96 538.0"/>
<path d="M554.3 312.2L761.57 538.0"/>
<path d="M554.3 312.2L762.17 538.0"/>
<path d="M554.3 312.2L762.78 538.0"/>
<path d="M554.3 312.2L763.39 538.0"/>
<path d="M554.3 312.2L763.99 538.0"/>
<path d="M554.3 312.2L764.60 538.0"/>
<path d="M554.3 312.2L765.21 538.0"/>
<path d="M554.3 312.2L765.81 538.0"/>
<path d="M554.3 312.2L766.42 538.0"/>
<path d="M554.3 312.2L767.03 538.0"/>
<path d="M554.3 312.2L767.64 538.0"/>
<path d="M554.3 312.2L768.24 538.0"/>
<path d="M554.3 312.2L768.85 538.0"/>
<path d="M554.3 312.2L769.46 538.0"/>
<path d="M554.3 312.2L770.06 538.0"/>
<path d="M554.3 312.2L770.67 538.0"/>
<path d="M554.3 312.2L771.28 538.0"/>
<path d="M554.3 312.2L771.88 538.0"/>
<path d="M554.3 312.2L772.49 538.0"/>
<path d="M554.3 312.2L773.10 538.0"/>
<path d="M581.0 312.2L773.70 538.0"/>
<path d="M581.0 312.2L774.30 538.0"/>
<path d="M581.0 312.2L774.91 538.0"/>
<path d="M581.0 312.2L775.51 538.0"/>
<path d="M581.0 312.2L776.11 538.0"/>
<path d="M581.0 312.2L776.72 538.0"/>
<path d="M581.0 312.2L777.32 538.0"/>
<path d="M581.0 312.2L777.92 538.0"/>
<path d="M581.0 312.2L778.53 538.0"/>
<path d="M581.0 312.2L779.13 538.0"/>
<path d="M581.0 312.2L779.73 538.0"/>
<path d="M581.0 312.2L780.33 538.0"/>
<path d="M581.0 312.2L780.94 538.0"/>
<path d="M581.0 312.2L781.54 538.0"/>
<path d="M581.0 312.2L782.14 538.0"/>
<path d="M581.0 312.2L782.75 538.0"/>
<path d="M581.0 312.2L783.35 538.0"/>
<path d="M581.0 312.2L783.95 538.0"/>
<path d="M581.0 312.2L784.56 538.0"/>
<path d="M581.0 312.2L785.16 538.0"/>
<path d="M581.0 312.2L785.76 538.0"/>
<path d="M581.0 312.2L786.37 538.0"/>
<path d="M581.0 312.2L786.97 538.0"/>
<path d="M581.0 312.2L787.57 538.0"/>
<path d="M581.0 312.2L788.17 538.0"/>
<path d="M581.0 312.2L788.78 538.0"/>
<path d="M581.0 312.2L789.38 538.0"/>
<path d="M581.0 312.2L789.98 538.0"/>
<path d="M581.0 312.2L790.59 538.0"/>
<path d="M581.0 312.2L791.19 538.0"/>
<path d="M581.0 312.2L791.79 538.0"/>
<path d="M581.0 312.2L792.40 538.0"/>
<path d="M581.0 312.2L793.00 538.0"/>
<path d="M607.7 312.2L793.60 538.0"/>
<path d="M607.7 312.2L794.19 538.0"/>
<path d="M607.7 312.2L794.79 538.0"/>
<path d="M607.7 312.2L795.38 538.0"/>
<path d="M607.7 312.2L795.98 538.0"/>
<path d="M607.7 312.2L796.57 538.0"/>
<path d="M607.7 312.2L797.17 538.0"/>
<path d="M607.7 312.2L797.77 538.0"/>
<path d="M607.7 312.2L798.36 538.0"/>
<path d="M607.7 312.2L798.96 538.0"/>
<path d="M607.7 312.2L799.55 538.0"/>
<path d="M607.7 312.2L800.15 538.0"/>
<path d="M607.7 312.2L800.74 538.0"/>
<path d="M607.7 312.2L801.34 538.0"/>
<path d="M607.7 312.2L801.93 538.0"/>
<path d="M607.7 312.2L802.53 538.0"/>
<path d="M607.7 312.2L803.12 538.0"/>
<path d="M607.7 312.2L803.72 538.0"/>
<path d="M607.7 312.2L804.32 538.0"/>
<path d="M607.7 312.2L804.91 538.0"/>
<path d="M607.7 312.2L805.51 538.0"/>
<path d="M607.7 312.2L806.10 538.0"/>
<path d="M607.7 312.2L806.70 538.0"/>
<path d="M607.7 312.2L807.29 538.0"/>
<path d="M607.7 312.2L807.89 538.0"/>
<path d="M607.7 312.2L808.48 538.0"/>
<path d="M607.7 312.2L809.08 538.0"/>
<path d="M607.7 312.2L809.67 538.0"/>
<path d="M607.7 312.2L810.27 538.0"/>
<path d="M607.7 312.2L810.87 538.0"/>
<path d="M607.7 312.2L811.46 538.0"/>
<path d="M607.7 312.2L812.06 538.0"/>
<path d="M607.7 312.2L812.65 538.0"/>
<path d="M607.7 312.2L813.25 538.0"/>
<path d="M607.7 312.2L813.84 538.0"/>
<path d="M607.7 312.2L814.44 538.0"/>
<path d="M607.7 312.2L815.03 538.0"/>
<path d="M607.7 312.2L815.63 538.0"/>
<path d="M607.7 312.2L816.23 538.0"/>
<path d="M607.7 312.2L816.82 538.0"/>
<path d="M607.7 312.2L817.42 538.0"/>
<path d="M607.7 312.2L818.01 538.0"/>
<path d="M607.7 312.2L818.61 538.0"/>
<path d="M607.7 312.2L819.20 538.0"/>
<path d="M607.7 312.2L819.80 538.0"/>
<path d="M607.7 312.2L820.39 538.0"/>
<path d="M607.7 312.2L820.99 538.0"/>
<path d="M607.7 312.2L821.58 538.0"/>
<path d="M607.7 312.2L822.18 538.0"/>
<path d="M607.7 312.2L822.77 538.0"/>
<path d="M607.7 312.2L823.37 538.0"/>
<path d="M607.7 312.2L823.97 538.0"/>
<path d="M607.7 312.2L824.56 538.0"/>
<path d="M607.7 312.2L825.16 538.0"/>
<path d="M607.7 312.2L825.75 538.0"/>
<path d="M607.7 312.2L826.35 538.0"/>
<path d="M607.7 312.2L826.94 538.0"/>
<path d="M607.7 312.2L827.54 538.0"/>
<path d="M607.7 312.2L828.13 538.0"/>
<path d="M607.7 312.2L828.73 538.0"/>
<path d="M607.7 312.2L829.33 538.0"/>
<path d="M607.7 312.2L829.92 538.0"/>
<path d="M607.7 312.2L830.52 538.0"/>
<path d="M607.7 312.2L831.11 538.0"/>
<path d="M607.7 312.2L831.71 538.0"/>
<path d="M607.7 312.2L832.30 538.0"/>
<path d="M634.4 312.2L832.90 538.0"/>
<path d="M634.4 312.2L833.50 538.0"/>
<path d="M634.4 312.2L834.11 538.0"/>
<path d="M634.4 312.2L834.71 538.0"/>
<path d="M634.4 312.2L835.31 538.0"/>
<path d="M634.4 312.2L835.92 538.0"/>
<path d="M634.4 312.2L836.52 538.0"/>
<path d="M634.4 312.2L837.12 538.0"/>
<path d="M634.4 312.2L837.73 538.0"/>
<path d="M634.4 312.2L838.33 538.0"/>
<path d="M634.4 312.2L838.93 538.0"/>
<path d="M634.4 312.2L839.53 538.0"/>
<path d="M634.4 312.2L840.14 538.0"/>
<path d="M634.4 312.2L840.74 538.0"/>
<path d="M634.4 312.2L841.34 538.0"/>
<path d="M634.4 312.2L841.95 538.0"/>
<path d="M634.4 312.2L842.55 538.0"/>
<path d="M634.4 312.2L843.15 538.0"/>
<path d="M634.4 312.2L843.76 538.0"/>
<path d="M634.4 312.2L844.36 538.0"/>
<path d="M634.4 312.2L844.96 538.0"/>
<path d="M634.4 312.2L845.56 538.0"/>
<path d="M634.4 312.2L846.17 538.0"/>
<path d="M634.4 312.2L846.77 538.0"/>
<path d="M634.4 312.2L847.37 538.0"/>
<path d="M634.4 312.2L847.98 538.0"/>
<path d="M634.4 312.2L848.58 538.0"/>
<path d="M634.4 312.2L849.18 538.0"/>
<path d="M634.4 312.2L849.79 538.0"/>
<path d="M634.4 312.2L850.39 538.0"/>
<path d="M634.4 312.2L850.99 538.0"/>
<path d="M634.4 312.2L851.59 538.0"/>
<path d="M634.4 312.2L852.20 538.0"/>
<path d="M634.4 312.2L852.80 538.0"/>
<path d="M634.4 312.2L853.40 538.0"/>
<path d="M634.4 312.2L854.01 538.0"/>
<path d="M634.4 312.2L854.61 538.0"/>
<path d="M634.4 312.2L855.21 538.0"/>
<path d="M634.4 312.2L855.81 538.0"/>
<path d="M634.4 312.2L856.42 538.0"/>
<path d="M634.4 312.2L857.02 538.0"/>
<path d="M634.4 312.2L857.62 538.0"/>
<path d="M634.4 312.2L858.23 538.0"/>
<path d="M634.4 312.2L858.83 538.0"/>
<path d="M634.4 312.2L859.43 538.0"/>
<path d="M634.4 312.2L860.04 538.0"/>
<path d="M634.4 312.2L860.64 538.0"/>
<path d="M634.4 312.2L861.24 538.0"/>
<path d="M634.4 312.2L861.84 538.0"/>
<path d="M634.4 312.2L862.45 538.0"/>
<path d="M634.4 312.2L863.05 538.0"/>
<path d="M634.4 312.2L863.65 538.0"/>
<path d="M634.4 312.2L864.26 538.0"/>
<path d="M634.4 312.2L864.86 538.0"/>
<path d="M634.4 312.2L865.46 538.0"/>
<path d="M634.4 312.2L866.07 538.0"/>
<path d="M634.4 312.2L866.67 538.0"/>
<path d="M634.4 312.2L867.27 538.0"/>
<path d="M634.4 312.2L867.87 538.0"/>
<path d="M634.4 312.2L868.48 538.0"/>
<path d="M634.4 312.2L869.08 538.0"/>
<path d="M634.4 312.2L869.68 538.0"/>
<path d="M634.4 312.2L870.29 538.0"/>
<path d="M634.4 312.2L870.89 538.0"/>
<path d="M634.4 312.2L871.49 538.0"/>
<path d="M634.4 312.2L872.10 538.0"/>
<path d="M634.4 312.2L872.70 538.0"/>
<path d="M661.1 312.2L873.30 538.0"/>
<path d="M661.1 312.2L873.89 538.0"/>
<path d="M661.1 312.2L874.48 538.0"/>
<path d="M661.1 312.2L875.07 538.0"/>
<path d="M661.1 312.2L875.66 538.0"/>
<path d="M661.1 312.2L876.25 538.0"/>
<path d="M661.1 312.2L876.84 538.0"/>
<path d="M661.1 312.2L877.43 538.0"/>
<path d="M661.1 312.2L878.02 538.0"/>
<path d="M661.1 312.2L878.62 538.0"/>
<path d="M661.1 312.2L879.21 538.0"/>
<path d="M661.1 312.2L879.80 538.0"/>
<path d="M661.1 312.2L880.39 538.0"/>
<path d="M661.1 312.2L880.98 538.0"/>
<path d="M661.1 312.2L881.57 538.0"/>
<path d="M661.1 312.2L882.16 538.0"/>
<path d="M661.1 312.2L882.75 538.0"/>
<path d="M661.1 312.2L883.35 538.0"/>
<path d="M661.1 312.2L883.94 538.0"/>
<path d="M661.1 312.2L884.53 538.0"/>
<path d="M661.1 312.2L885.12 538.0"/>
<path d="M661.1 312.2L885.71 538.0"/>
<path d="M661.1 312.2L886.30 538.0"/>
<path d="M661.1 312.2L886.89 538.0"/>
<path d="M661.1 312.2L887.48 538.0"/>
<path d="M661.1 312.2L888.08 538.0"/>
<path d="M661.1 312.2L888.67 538.0"/>
<path d="M661.1 312.2L889.26 538.0"/>
<path d="M661.1 312.2L889.85 538.0"/>
<path d="M661.1 312.2L890.44 538.0"/>
<path d="M661.1 312.2L891.03 538.0"/>
<path d="M661.1 312.2L891.62 538.0"/>
<path d="M661.1 312.2L892.21 538.0"/>
<path d="M661.1 312.2L892.80 538.0"/>
<path d="M687.9 312.2L893.40 538.0"/>
<path d="M687.9 312.2L893.99 538.0"/>
<path d="M687.9 312.2L894.59 538.0"/>
<path d="M687.9 312.2L895.18 538.0"/>
<path d="M687.9 312.2L895.77 538.0"/>
<path d="M687.9 312.2L896.37 538.0"/>
<path d="M687.9 312.2L896.96 538.0"/>
<path d="M687.9 312.2L897.56 538.0"/>
<path d="M687.9 312.2L898.15 538.0"/>
<path d="M687.9 312.2L898.74 538.0"/>
<path d="M687.9 312.2L899.34 538.0"/>
<path d="M687.9 312.2L899.93 538.0"/>
<path d="M687.9 312.2L900.53 538.0"/>
<path d="M687.9 312.2L901.12 538.0"/>
<path d="M687.9 312.2L901.71 538.0"/>
<path d="M687.9 312.2L902.31 538.0"/>
<path d="M687.9 312.2L902.90 538.0"/>
<path d="M687.9 312.2L903.50 538.0"/>
<path d="M687.9 312.2L904.09 538.0"/>
<path d="M687.9 312.2L904.69 538.0"/>
<path d="M687.9 312.2L905.28 538.0"/>
<path d="M687.9 312.2L905.87 538.0"/>
<path d="M687.9 312.2L906.47 538.0"/>
<path d="M687.9 312.2L907.06 538.0"/>
<path d="M687.9 312.2L907.66 538.0"/>
<path d="M687.9 312.2L908.25 538.0"/>
<path d="M687.9 312.2L908.84 538.0"/>
<path d="M687.9 312.2L909.44 538.0"/>
<path d="M687.9 312.2L910.03 538.0"/>
<path d="M687.9 312.2L910.63 538.0"/>
<path d="M687.9 312.2L911.22 538.0"/>
<path d="M687.9 312.2L911.81 538.0"/>
<path d="M687.9 312.2L912.41 538.0"/>
<path d="M687.9 312.2L913.00 538.0"/>
<path d="M714.6 312.2L913.60 538.0"/>
<path d="M714.6 312.2L914.19 538.0"/>
<path d="M714.6 312.2L914.79 538.0"/>
<path d="M714.6 312.2L915.39 538.0"/>
<path d="M714.6 312.2L915.98 538.0"/>
<path d="M714.6 312.2L916.58 538.0"/>
<path d="M714.6 312.2L917.17 538.0"/>
<path d="M714.6 312.2L917.77 538.0"/>
<path d="M714.6 312.2L918.36 538.0"/>
<path d="M714.6 312.2L918.96 538.0"/>
<path d="M714.6 312.2L919.56 538.0"/>
<path d="M714.6 312.2L920.15 538.0"/>
<path d="M714.6 312.2L920.75 538.0"/>
<path d="M714.6 312.2L921.34 538.0"/>
<path d="M714.6 312.2L921.94 538.0"/>
<path d="M714.6 312.2L922.53 538.0"/>
<path d="M714.6 312.2L923.13 538.0"/>
<path d="M714.6 312.2L923.73 538.0"/>
<path d="M714.6 312.2L924.32 538.0"/>
<path d="M714.6 312.2L924.92 538.0"/>
<path d="M714.6 312.2L925.51 538.0"/>
<path d="M714.6 312.2L926.11 538.0"/>
<path d="M714.6 312.2L926.70 538.0"/>
<path d="M714.6 312.2L927.30 538.0"/>
<path d="M714.6 312.2L927.90 538.0"/>
<path d="M714.6 312.2L928.49 538.0"/>
<path d="M714.6 312.2L929.09 538.0"/>
<path d="M714.6 312.2L929.68 538.0"/>
<path d="M714.6 312.2L930.28 538.0"/>
<path d="M714.6 312.2L930.87 538.0"/>
<path d="M714.6 312.2L931.47 538.0"/>
<path d="M714.6 312.2L932.07 538.0"/>
<path d="M714.6 312.2L932.66 538.0"/>
<path d="M714.6 312.2L933.26 538.0"/>
<path d="M714.6 312.2L933.85 538.0"/>
<path d="M714.6 312.2L934.45 538.0"/>
<path d="M714.6 312.2L935.04 538.0"/>
<path d="M714.6 312.2L935.64 538.0"/>
<path d="M714.6 312.2L936.24 538.0"/>
<path d="M714.6 312.2L936.83 538.0"/>
<path d="M714.6 312.2L937.43 538.0"/>
<path d="M714.6 312.2L938.02 538.0"/>
<path d="M714.6 312.2L938.62 538.0"/>
<path d="M714.6 312.2L939.21 538.0"/>
<path d="M714.6 312.2L939.81 538.0"/>
<path d="M714.6 312.2L940.41 538.0"/>
<path d="M714.6 312.2L941.00 538.0"/>
</g>
<g stroke="#D200A8" stroke-width="1.2" stroke-opacity="0.197">
<path d="M313.8 312.2L277.31 538.0"/>
<path d="M313.8 312.2L277.92 538.0"/>
<path d="M313.8 312.2L278.53 538.0"/>
<path d="M313.8 312.2L279.14 538.0"/>
<path d="M313.8 312.2L279.75 538.0"/>
<path d="M313.8 312.2L280.36 538.0"/>
<path d="M313.8 312.2L280.97 538.0"/>
<path d="M313.8 312.2L281.58 538.0"/>
<path d="M313.8 312.2L282.19 538.0"/>
<path d="M313.8 312.2L282.81 538.0"/>
<path d="M313.8 312.2L283.42 538.0"/>
<path d="M313.8 312.2L284.03 538.0"/>
<path d="M313.8 312.2L284.64 538.0"/>
<path d="M313.8 312.2L285.25 538.0"/>
<path d="M313.8 312.2L285.86 538.0"/>
<path d="M313.8 312.2L286.47 538.0"/>
<path d="M313.8 312.2L287.08 538.0"/>
<path d="M313.8 312.2L287.69 538.0"/>
<path d="M340.5 312.2L288.30 538.0"/>
<path d="M340.5 312.2L288.90 538.0"/>
<path d="M340.5 312.2L289.49 538.0"/>
<path d="M340.5 312.2L290.09 538.0"/>
<path d="M340.5 312.2L290.69 538.0"/>
<path d="M340.5 312.2L291.28 538.0"/>
<path d="M340.5 312.2L291.88 538.0"/>
<path d="M340.5 312.2L292.48 538.0"/>
<path d="M340.5 312.2L293.08 538.0"/>
<path d="M340.5 312.2L293.67 538.0"/>
<path d="M340.5 312.2L294.27 538.0"/>
<path d="M340.5 312.2L294.87 538.0"/>
<path d="M340.5 312.2L295.47 538.0"/>
<path d="M340.5 312.2L296.06 538.0"/>
<path d="M340.5 312.2L296.66 538.0"/>
<path d="M340.5 312.2L297.26 538.0"/>
<path d="M340.5 312.2L297.85 538.0"/>
<path d="M340.5 312.2L298.45 538.0"/>
<path d="M340.5 312.2L299.05 538.0"/>
<path d="M340.5 312.2L299.65 538.0"/>
<path d="M340.5 312.2L300.24 538.0"/>
<path d="M340.5 312.2L300.84 538.0"/>
<path d="M340.5 312.2L301.44 538.0"/>
<path d="M340.5 312.2L302.03 538.0"/>
<path d="M340.5 312.2L302.63 538.0"/>
<path d="M340.5 312.2L303.23 538.0"/>
<path d="M340.5 312.2L303.83 538.0"/>
<path d="M340.5 312.2L304.42 538.0"/>
<path d="M340.5 312.2L305.02 538.0"/>
<path d="M340.5 312.2L305.62 538.0"/>
<path d="M340.5 312.2L306.22 538.0"/>
<path d="M340.5 312.2L306.81 538.0"/>
<path d="M340.5 312.2L307.41 538.0"/>
<path d="M340.5 312.2L308.01 538.0"/>
<path d="M340.5 312.2L308.60 538.0"/>
<path d="M340.5 312.2L309.20 538.0"/>
<path d="M367.3 312.2L309.80 538.0"/>
<path d="M367.3 312.2L310.40 538.0"/>
<path d="M367.3 312.2L311.00 538.0"/>
<path d="M367.3 312.2L311.60 538.0"/>
<path d="M367.3 312.2L312.20 538.0"/>
<path d="M367.3 312.2L312.80 538.0"/>
<path d="M367.3 312.2L313.40 538.0"/>
<path d="M367.3 312.2L314.00 538.0"/>
<path d="M367.3 312.2L314.60 538.0"/>
<path d="M367.3 312.2L315.20 538.0"/>
<path d="M367.3 312.2L315.80 538.0"/>
<path d="M367.3 312.2L316.40 538.0"/>
<path d="M367.3 312.2L317.00 538.0"/>
<path d="M367.3 312.2L317.60 538.0"/>
<path d="M367.3 312.2L318.20 538.0"/>
<path d="M367.3 312.2L318.80 538.0"/>
<path d="M367.3 312.2L319.40 538.0"/>
<path d="M367.3 312.2L320.00 538.0"/>
<path d="M367.3 312.2L320.60 538.0"/>
<path d="M367.3 312.2L321.20 538.0"/>
<path d="M367.3 312.2L321.80 538.0"/>
<path d="M367.3 312.2L322.40 538.0"/>
<path d="M367.3 312.2L323.00 538.0"/>
<path d="M367.3 312.2L323.60 538.0"/>
<path d="M367.3 312.2L324.20 538.0"/>
<path d="M367.3 312.2L324.80 538.0"/>
<path d="M367.3 312.2L325.40 538.0"/>
<path d="M367.3 312.2L326.00 538.0"/>
<path d="M367.3 312.2L326.60 538.0"/>
<path d="M367.3 312.2L327.20 538.0"/>
<path d="M367.3 312.2L327.80 538.0"/>
<path d="M367.3 312.2L328.40 538.0"/>
<path d="M367.3 312.2L329.00 538.0"/>
<path d="M367.3 312.2L329.60 538.0"/>
<path d="M367.3 312.2L330.20 538.0"/>
<path d="M367.3 312.2L330.80 538.0"/>
<path d="M367.3 312.2L331.40 538.0"/>
<path d="M367.3 312.2L332.00 538.0"/>
<path d="M367.3 312.2L332.60 538.0"/>
<path d="M367.3 312.2L333.20 538.0"/>
<path d="M367.3 312.2L333.80 538.0"/>
<path d="M367.3 312.2L334.40 538.0"/>
<path d="M367.3 312.2L335.00 538.0"/>
<path d="M367.3 312.2L335.60 538.0"/>
<path d="M367.3 312.2L336.20 538.0"/>
<path d="M367.3 312.2L336.80 538.0"/>
<path d="M367.3 312.2L337.40 538.0"/>
<path d="M367.3 312.2L338.00 538.0"/>
<path d="M367.3 312.2L338.60 538.0"/>
<path d="M367.3 312.2L339.20 538.0"/>
<path d="M367.3 312.2L339.80 538.0"/>
<path d="M367.3 312.2L340.40 538.0"/>
<path d="M367.3 312.2L341.00 538.0"/>
<path d="M367.3 312.2L341.60 538.0"/>
<path d="M367.3 312.2L342.20 538.0"/>
<path d="M367.3 312.2L342.80 538.0"/>
<path d="M367.3 312.2L343.40 538.0"/>
<path d="M367.3 312.2L344.00 538.0"/>
<path d="M367.3 312.2L344.60 538.0"/>
<path d="M367.3 312.2L345.20 538.0"/>
<path d="M367.3 312.2L345.80 538.0"/>
<path d="M367.3 312.2L346.40 538.0"/>
<path d="M367.3 312.2L347.00 538.0"/>
<path d="M367.3 312.2L347.60 538.0"/>
<path d="M367.3 312.2L348.20 538.0"/>
<path d="M394.0 312.2L348.80 538.0"/>
<path d="M394.0 312.2L349.40 538.0"/>
<path d="M394.0 312.2L350.00 538.0"/>
<path d="M394.0 312.2L350.60 538.0"/>
<path d="M394.0 312.2L351.20 538.0"/>
<path d="M394.0 312.2L351.80 538.0"/>
<path d="M394.0 312.2L352.40 538.0"/>
<path d="M394.0 312.2L353.00 538.0"/>
<path d="M394.0 312.2L353.60 538.0"/>
<path d="M394.0 312.2L354.20 538.0"/>
<path d="M394.0 312.2L354.80 538.0"/>
<path d="M394.0 312.2L355.40 538.0"/>
<path d="M394.0 312.2L356.00 538.0"/>
<path d="M394.0 312.2L356.60 538.0"/>
<path d="M394.0 312.2L357.20 538.0"/>
<path d="M394.0 312.2L357.80 538.0"/>
<path d="M394.0 312.2L358.40 538.0"/>
<path d="M394.0 312.2L359.00 538.0"/>
<path d="M394.0 312.2L359.60 538.0"/>
<path d="M394.0 312.2L360.20 538.0"/>
<path d="M394.0 312.2L360.80 538.0"/>
<path d="M394.0 312.2L361.40 538.0"/>
<path d="M394.0 312.2L362.00 538.0"/>
<path d="M394.0 312.2L362.60 538.0"/>
<path d="M394.0 312.2L363.20 538.0"/>
<path d="M394.0 312.2L363.80 538.0"/>
<path d="M394.0 312.2L364.40 538.0"/>
<path d="M394.0 312.2L365.00 538.0"/>
<path d="M394.0 312.2L365.60 538.0"/>
<path d="M394.0 312.2L366.20 538.0"/>
<path d="M394.0 312.2L366.80 538.0"/>
<path d="M394.0 312.2L367.40 538.0"/>
<path d="M394.0 312.2L368.00 538.0"/>
<path d="M394.0 312.2L368.60 538.0"/>
<path d="M394.0 312.2L369.20 538.0"/>
<path d="M420.7 312.2L369.80 538.0"/>
<path d="M420.7 312.2L370.40 538.0"/>
<path d="M420.7 312.2L371.00 538.0"/>
<path d="M420.7 312.2L371.60 538.0"/>
<path d="M420.7 312.2L372.20 538.0"/>
<path d="M420.7 312.2L372.80 538.0"/>
<path d="M420.7 312.2L373.40 538.0"/>
<path d="M420.7 312.2L374.00 538.0"/>
<path d="M420.7 312.2L374.60 538.0"/>
<path d="M420.7 312.2L375.20 538.0"/>
<path d="M420.7 312.2L375.80 538.0"/>
<path d="M420.7 312.2L376.40 538.0"/>
<path d="M420.7 312.2L377.00 538.0"/>
<path d="M420.7 312.2L377.60 538.0"/>
<path d="M420.7 312.2L378.20 538.0"/>
<path d="M420.7 312.2L378.80 538.0"/>
<path d="M420.7 312.2L379.40 538.0"/>
<path d="M420.7 312.2L380.00 538.0"/>
<path d="M420.7 312.2L380.60 538.0"/>
<path d="M420.7 312.2L381.20 538.0"/>
<path d="M420.7 312.2L381.80 538.0"/>
<path d="M420.7 312.2L382.40 538.0"/>
<path d="M420.7 312.2L383.00 538.0"/>
<path d="M420.7 312.2L383.60 538.0"/>
<path d="M420.7 312.2L384.20 538.0"/>
<path d="M420.7 312.2L384.80 538.0"/>
<path d="M420.7 312.2L385.40 538.0"/>
<path d="M420.7 312.2L386.00 538.0"/>
<path d="M420.7 312.2L386.60 538.0"/>
<path d="M420.7 312.2L387.20 538.0"/>
<path d="M420.7 312.2L387.80 538.0"/>
<path d="M420.7 312.2L388.40 538.0"/>
<path d="M420.7 312.2L389.00 538.0"/>
<path d="M420.7 312.2L389.60 538.0"/>
<path d="M420.7 312.2L390.20 538.0"/>
<path d="M420.7 312.2L390.80 538.0"/>
<path d="M420.7 312.2L391.40 538.0"/>
<path d="M420.7 312.2L392.00 538.0"/>
<path d="M420.7 312.2L392.60 538.0"/>
<path d="M420.7 312.2L393.20 538.0"/>
<path d="M447.4 312.2L393.80 538.0"/>
<path d="M447.4 312.2L394.41 538.0"/>
<path d="M447.4 312.2L395.02 538.0"/>
<path d="M447.4 312.2L395.62 538.0"/>
<path d="M447.4 312.2L396.23 538.0"/>
<path d="M447.4 312.2L396.83 538.0"/>
<path d="M447.4 312.2L397.44 538.0"/>
<path d="M447.4 312.2L398.05 538.0"/>
<path d="M447.4 312.2L398.65 538.0"/>
<path d="M447.4 312.2L399.26 538.0"/>
<path d="M447.4 312.2L399.86 538.0"/>
<path d="M447.4 312.2L400.47 538.0"/>
<path d="M447.4 312.2L401.08 538.0"/>
<path d="M447.4 312.2L401.68 538.0"/>
<path d="M447.4 312.2L402.29 538.0"/>
<path d="M447.4 312.2L402.89 538.0"/>
<path d="M447.4 312.2L403.50 538.0"/>
<path d="M447.4 312.2L404.11 538.0"/>
<path d="M447.4 312.2L404.71 538.0"/>
<path d="M447.4 312.2L405.32 538.0"/>
<path d="M447.4 312.2L405.92 538.0"/>
<path d="M447.4 312.2L406.53 538.0"/>
<path d="M447.4 312.2L407.14 538.0"/>
<path d="M447.4 312.2L407.74 538.0"/>
<path d="M447.4 312.2L408.35 538.0"/>
<path d="M447.4 312.2L408.95 538.0"/>
<path d="M447.4 312.2L409.56 538.0"/>
<path d="M447.4 312.2L410.17 538.0"/>
<path d="M447.4 312.2L410.77 538.0"/>
<path d="M447.4 312.2L411.38 538.0"/>
<path d="M447.4 312.2L411.98 538.0"/>
<path d="M447.4 312.2L412.59 538.0"/>
<path d="M447.4 312.2L413.20 538.0"/>
<path d="M474.1 312.2L413.80 538.0"/>
<path d="M474.1 312.2L414.41 538.0"/>
<path d="M474.1 312.2L415.02 538.0"/>
<path d="M474.1 312.2L415.63 538.0"/>
<path d="M474.1 312.2L416.24 538.0"/>
<path d="M474.1 312.2L416.85 538.0"/>
<path d="M474.1 312.2L417.46 538.0"/>
<path d="M474.1 312.2L418.07 538.0"/>
<path d="M474.1 312.2L418.68 538.0"/>
<path d="M474.1 312.2L419.29 538.0"/>
<path d="M474.1 312.2L419.90 538.0"/>
<path d="M474.1 312.2L420.51 538.0"/>
<path d="M474.1 312.2L421.12 538.0"/>
<path d="M474.1 312.2L421.73 538.0"/>
<path d="M474.1 312.2L422.34 538.0"/>
<path d="M474.1 312.2L422.95 538.0"/>
<path d="M474.1 312.2L423.55 538.0"/>
<path d="M474.1 312.2L424.16 538.0"/>
<path d="M474.1 312.2L424.77 538.0"/>
<path d="M474.1 312.2L425.38 538.0"/>
<path d="M474.1 312.2L425.99 538.0"/>
<path d="M474.1 312.2L426.60 538.0"/>
<path d="M474.1 312.2L427.21 538.0"/>
<path d="M474.1 312.2L427.82 538.0"/>
<path d="M474.1 312.2L428.43 538.0"/>
<path d="M474.1 312.2L429.04 538.0"/>
<path d="M474.1 312.2L429.65 538.0"/>
<path d="M474.1 312.2L430.26 538.0"/>
<path d="M474.1 312.2L430.87 538.0"/>
<path d="M474.1 312.2L431.48 538.0"/>
<path d="M474.1 312.2L432.09 538.0"/>
<path d="M474.1 312.2L432.70 538.0"/>
<path d="M500.8 312.2L433.30 538.0"/>
<path d="M500.8 312.2L433.90 538.0"/>
<path d="M500.8 312.2L434.51 538.0"/>
<path d="M500.8 312.2L435.11 538.0"/>
<path d="M500.8 312.2L435.71 538.0"/>
<path d="M500.8 312.2L436.31 538.0"/>
<path d="M500.8 312.2L436.91 538.0"/>
<path d="M500.8 312.2L437.52 538.0"/>
<path d="M500.8 312.2L438.12 538.0"/>
<path d="M500.8 312.2L438.72 538.0"/>
<path d="M500.8 312.2L439.32 538.0"/>
<path d="M500.8 312.2L439.93 538.0"/>
<path d="M500.8 312.2L440.53 538.0"/>
<path d="M500.8 312.2L441.13 538.0"/>
<path d="M500.8 312.2L441.73 538.0"/>
<path d="M500.8 312.2L442.34 538.0"/>
<path d="M500.8 312.2L442.94 538.0"/>
<path d="M500.8 312.2L443.54 538.0"/>
<path d="M500.8 312.2L444.14 538.0"/>
<path d="M500.8 312.2L444.74 538.0"/>
<path d="M500.8 312.2L445.35 538.0"/>
<path d="M500.8 312.2L445.95 538.0"/>
<path d="M500.8 312.2L446.55 538.0"/>
<path d="M500.8 312.2L447.15 538.0"/>
<path d="M500.8 312.2L447.76 538.0"/>
<path d="M500.8 312.2L448.36 538.0"/>
<path d="M500.8 312.2L448.96 538.0"/>
<path d="M500.8 312.2L449.56 538.0"/>
<path d="M500.8 312.2L450.16 538.0"/>
<path d="M500.8 312.2L450.77 538.0"/>
<path d="M500.8 312.2L451.37 538.0"/>
<path d="M500.8 312.2L451.97 538.0"/>
<path d="M500.8 312.2L452.57 538.0"/>
<path d="M500.8 312.2L453.18 538.0"/>
<path d="M500.8 312.2L453.78 538.0"/>
<path d="M500.8 312.2L454.38 538.0"/>
<path d="M500.8 312.2L454.98 538.0"/>
<path d="M500.8 312.2L455.59 538.0"/>
<path d="M500.8 312.2L456.19 538.0"/>
<path d="M500.8 312.2L456.79 538.0"/>
<path d="M500.8 312.2L457.39 538.0"/>
<path d="M500.8 312.2L457.99 538.0"/>
<path d="M500.8 312.2L458.60 538.0"/>
<path d="M500.8 312.2L459.20 538.0"/>
<path d="M500.8 312.2L459.80 538.0"/>
<path d="M500.8 312.2L460.40 538.0"/>
<path d="M500.8 312.2L461.01 538.0"/>
<path d="M500.8 312.2L461.61 538.0"/>
<path d="M500.8 312.2L462.21 538.0"/>
<path d="M500.8 312.2L462.81 538.0"/>
<path d="M500.8 312.2L463.41 538.0"/>
<path d="M500.8 312.2L464.02 538.0"/>
<path d="M500.8 312.2L464.62 538.0"/>
<path d="M500.8 312.2L465.22 538.0"/>
<path d="M500.8 312.2L465.82 538.0"/>
<path d="M500.8 312.2L466.43 538.0"/>
<path d="M500.8 312.2L467.03 538.0"/>
<path d="M500.8 312.2L467.63 538.0"/>
<path d="M500.8 312.2L468.23 538.0"/>
<path d="M500.8 312.2L468.84 538.0"/>
<path d="M500.8 312.2L469.44 538.0"/>
<path d="M500.8 312.2L470.04 538.0"/>
<path d="M500.8 312.2L470.64 538.0"/>
<path d="M500.8 312.2L471.24 538.0"/>
<path d="M500.8 312.2L471.85 538.0"/>
<path d="M500.8 312.2L472.45 538.0"/>
<path d="M500.8 312.2L473.05 538.0"/>
<path d="M500.8 312.2L473.65 538.0"/>
<path d="M500.8 312.2L474.26 538.0"/>
<path d="M500.8 312.2L474.86 538.0"/>
<path d="M500.8 312.2L475.46 538.0"/>
<path d="M500.8 312.2L476.06 538.0"/>
<path d="M500.8 312.2L476.66 538.0"/>
<path d="M500.8 312.2L477.27 538.0"/>
<path d="M500.8 312.2L477.87 538.0"/>
<path d="M500.8 312.2L478.47 538.0"/>
<path d="M500.8 312.2L479.07 538.0"/>
<path d="M500.8 312.2L479.68 538.0"/>
<path d="M500.8 312.2L480.28 538.0"/>
<path d="M500.8 312.2L480.88 538.0"/>
<path d="M500.8 312.2L481.48 538.0"/>
<path d="M500.8 312.2L482.09 538.0"/>
<path d="M500.8 312.2L482.69 538.0"/>
<path d="M500.8 312.2L483.29 538.0"/>
<path d="M500.8 312.2L483.89 538.0"/>
<path d="M500.8 312.2L484.49 538.0"/>
<path d="M500.8 312.2L485.10 538.0"/>
<path d="M500.8 312.2L485.70 538.0"/>
<path d="M527.6 312.2L486.30 538.0"/>
<path d="M527.6 312.2L486.89 538.0"/>
<path d="M527.6 312.2L487.49 538.0"/>
<path d="M527.6 312.2L488.08 538.0"/>
<path d="M527.6 312.2L488.68 538.0"/>
<path d="M527.6 312.2L489.27 538.0"/>
<path d="M527.6 312.2L489.87 538.0"/>
<path d="M527.6 312.2L490.46 538.0"/>
<path d="M527.6 312.2L491.06 538.0"/>
<path d="M527.6 312.2L491.65 538.0"/>
<path d="M527.6 312.2L492.25 538.0"/>
<path d="M527.6 312.2L492.85 538.0"/>
<path d="M527.6 312.2L493.44 538.0"/>
<path d="M527.6 312.2L494.04 538.0"/>
<path d="M527.6 312.2L494.63 538.0"/>
<path d="M527.6 312.2L495.23 538.0"/>
<path d="M527.6 312.2L495.82 538.0"/>
<path d="M527.6 312.2L496.42 538.0"/>
<path d="M527.6 312.2L497.01 538.0"/>
<path d="M527.6 312.2L497.61 538.0"/>
<path d="M527.6 312.2L498.20 538.0"/>
<path d="M527.6 312.2L498.80 538.0"/>
<path d="M527.6 312.2L499.39 538.0"/>
<path d="M527.6 312.2L499.99 538.0"/>
<path d="M527.6 312.2L500.58 538.0"/>
<path d="M527.6 312.2L501.18 538.0"/>
<path d="M527.6 312.2L501.77 538.0"/>
<path d="M527.6 312.2L502.37 538.0"/>
<path d="M527.6 312.2L502.96 538.0"/>
<path d="M527.6 312.2L503.56 538.0"/>
<path d="M527.6 312.2L504.15 538.0"/>
<path d="M527.6 312.2L504.75 538.0"/>
<path d="M527.6 312.2L505.35 538.0"/>
<path d="M527.6 312.2L505.94 538.0"/>
<path d="M527.6 312.2L506.54 538.0"/>
<path d="M527.6 312.2L507.13 538.0"/>
<path d="M527.6 312.2L507.73 538.0"/>
<path d="M527.6 312.2L508.32 538.0"/>
<path d="M527.6 312.2L508.92 538.0"/>
<path d="M527.6 312.2L509.51 538.0"/>
<path d="M527.6 312.2L510.11 538.0"/>
<path d="M527.6 312.2L510.70 538.0"/>
<path d="M554.3 312.2L511.30 538.0"/>
<path d="M554.3 312.2L511.90 538.0"/>
<path d="M554.3 312.2L512.50 538.0"/>
<path d="M554.3 312.2L513.10 538.0"/>
<path d="M554.3 312.2L513.70 538.0"/>
<path d="M554.3 312.2L514.30 538.0"/>
<path d="M554.3 312.2L514.90 538.0"/>
<path d="M554.3 312.2L515.50 538.0"/>
<path d="M554.3 312.2L516.10 538.0"/>
<path d="M554.3 312.2L516.70 538.0"/>
<path d="M554.3 312.2L517.30 538.0"/>
<path d="M554.3 312.2L517.90 538.0"/>
<path d="M554.3 312.2L518.50 538.0"/>
<path d="M554.3 312.2L519.10 538.0"/>
<path d="M554.3 312.2L519.70 538.0"/>
<path d="M554.3 312.2L520.30 538.0"/>
<path d="M554.3 312.2L520.90 538.0"/>
<path d="M554.3 312.2L521.50 538.0"/>
<path d="M554.3 312.2L522.10 538.0"/>
<path d="M554.3 312.2L522.70 538.0"/>
<path d="M554.3 312.2L523.30 538.0"/>
<path d="M554.3 312.2L523.90 538.0"/>
<path d="M554.3 312.2L524.50 538.0"/>
<path d="M554.3 312.2L525.10 538.0"/>
<path d="M554.3 312.2L525.70 538.0"/>
<path d="M554.3 312.2L526.30 538.0"/>
<path d="M554.3 312.2L526.90 538.0"/>
<path d="M554.3 312.2L527.50 538.0"/>
<path d="M554.3 312.2L528.10 538.0"/>
<path d="M554.3 312.2L528.70 538.0"/>
<path d="M554.3 312.2L529.30 538.0"/>
<path d="M554.3 312.2L529.90 538.0"/>
<path d="M554.3 312.2L530.50 538.0"/>
<path d="M554.3 312.2L531.10 538.0"/>
<path d="M554.3 312.2L531.70 538.0"/>
<path d="M554.3 312.2L532.30 538.0"/>
<path d="M554.3 312.2L532.90 538.0"/>
<path d="M554.3 312.2L533.50 538.0"/>
<path d="M554.3 312.2L534.10 538.0"/>
<path d="M554.3 312.2L534.70 538.0"/>
<path d="M554.3 312.2L535.30 538.0"/>
<path d="M554.3 312.2L535.90 538.0"/>
<path d="M554.3 312.2L536.50 538.0"/>
<path d="M554.3 312.2L537.10 538.0"/>
<path d="M554.3 312.2L537.70 538.0"/>
<path d="M554.3 312.2L538.30 538.0"/>
<path d="M554.3 312.2L538.90 538.0"/>
<path d="M554.3 312.2L539.50 538.0"/>
<path d="M554.3 312.2L540.10 538.0"/>
<path d="M554.3 312.2L540.70 538.0"/>
<path d="M554.3 312.2L541.30 538.0"/>
<path d="M554.3 312.2L541.90 538.0"/>
<path d="M554.3 312.2L542.50 538.0"/>
<path d="M554.3 312.2L543.10 538.0"/>
<path d="M554.3 312.2L543.70 538.0"/>
<path d="M554.3 312.2L544.30 538.0"/>
<path d="M554.3 312.2L544.90 538.0"/>
<path d="M554.3 312.2L545.50 538.0"/>
<path d="M554.3 312.2L546.10 538.0"/>
<path d="M554.3 312.2L546.70 538.0"/>
<path d="M554.3 312.2L547.30 538.0"/>
<path d="M554.3 312.2L547.90 538.0"/>
<path d="M554.3 312.2L548.50 538.0"/>
<path d="M554.3 312.2L549.10 538.0"/>
<path d="M554.3 312.2L549.70 538.0"/>
<path d="M581.0 312.2L550.30 538.0"/>
<path d="M581.0 312.2L550.91 538.0"/>
<path d="M581.0 312.2L551.51 538.0"/>
<path d="M581.0 312.2L552.11 538.0"/>
<path d="M581.0 312.2L552.72 538.0"/>
<path d="M581.0 312.2L553.32 538.0"/>
<path d="M581.0 312.2L553.92 538.0"/>
<path d="M581.0 312.2L554.53 538.0"/>
<path d="M581.0 312.2L555.13 538.0"/>
<path d="M581.0 312.2L555.73 538.0"/>
<path d="M581.0 312.2L556.34 538.0"/>
<path d="M581.0 312.2L556.94 538.0"/>
<path d="M581.0 312.2L557.54 538.0"/>
<path d="M581.0 312.2L558.15 538.0"/>
<path d="M581.0 312.2L558.75 538.0"/>
<path d="M581.0 312.2L559.35 538.0"/>
<path d="M581.0 312.2L559.96 538.0"/>
<path d="M581.0 312.2L560.56 538.0"/>
<path d="M581.0 312.2L561.16 538.0"/>
<path d="M581.0 312.2L561.77 538.0"/>
<path d="M581.0 312.2L562.37 538.0"/>
<path d="M581.0 312.2L562.97 538.0"/>
<path d="M581.0 312.2L563.58 538.0"/>
<path d="M581.0 312.2L564.18 538.0"/>
<path d="M581.0 312.2L564.78 538.0"/>
<path d="M581.0 312.2L565.39 538.0"/>
<path d="M581.0 312.2L565.99 538.0"/>
<path d="M581.0 312.2L566.59 538.0"/>
<path d="M581.0 312.2L567.20 538.0"/>
<path d="M581.0 312.2L567.80 538.0"/>
<path d="M581.0 312.2L568.41 538.0"/>
<path d="M581.0 312.2L569.01 538.0"/>
<path d="M581.0 312.2L569.61 538.0"/>
<path d="M581.0 312.2L570.22 538.0"/>
<path d="M581.0 312.2L570.82 538.0"/>
<path d="M581.0 312.2L571.42 538.0"/>
<path d="M581.0 312.2L572.03 538.0"/>
<path d="M581.0 312.2L572.63 538.0"/>
<path d="M581.0 312.2L573.23 538.0"/>
<path d="M581.0 312.2L573.84 538.0"/>
<path d="M581.0 312.2L574.44 538.0"/>
<path d="M581.0 312.2L575.04 538.0"/>
<path d="M581.0 312.2L575.65 538.0"/>
<path d="M581.0 312.2L576.25 538.0"/>
<path d="M581.0 312.2L576.85 538.0"/>
<path d="M581.0 312.2L577.46 538.0"/>
<path d="M581.0 312.2L578.06 538.0"/>
<path d="M581.0 312.2L578.66 538.0"/>
<path d="M581.0 312.2L579.27 538.0"/>
<path d="M581.0 312.2L579.87 538.0"/>
<path d="M581.0 312.2L580.47 538.0"/>
<path d="M581.0 312.2L581.08 538.0"/>
<path d="M581.0 312.2L581.68 538.0"/>
<path d="M581.0 312.2L582.28 538.0"/>
<path d="M581.0 312.2L582.89 538.0"/>
<path d="M581.0 312.2L583.49 538.0"/>
<path d="M581.0 312.2L584.09 538.0"/>
<path d="M581.0 312.2L584.70 538.0"/>
<path d="M607.7 312.2L585.30 538.0"/>
<path d="M607.7 312.2L585.90 538.0"/>
<path d="M607.7 312.2L586.50 538.0"/>
<path d="M607.7 312.2L587.10 538.0"/>
<path d="M607.7 312.2L587.70 538.0"/>
<path d="M607.7 312.2L588.30 538.0"/>
<path d="M607.7 312.2L588.90 538.0"/>
<path d="M607.7 312.2L589.50 538.0"/>
<path d="M607.7 312.2L590.10 538.0"/>
<path d="M607.7 312.2L590.70 538.0"/>
<path d="M607.7 312.2L591.30 538.0"/>
<path d="M607.7 312.2L591.90 538.0"/>
<path d="M607.7 312.2L592.50 538.0"/>
<path d="M607.7 312.2L593.10 538.0"/>
<path d="M607.7 312.2L593.70 538.0"/>
<path d="M607.7 312.2L594.30 538.0"/>
<path d="M607.7 312.2L594.90 538.0"/>
<path d="M607.7 312.2L595.50 538.0"/>
<path d="M607.7 312.2L596.10 538.0"/>
<path d="M607.7 312.2L596.70 538.0"/>
<path d="M607.7 312.2L597.30 538.0"/>
<path d="M607.7 312.2L597.90 538.0"/>
<path d="M607.7 312.2L598.50 538.0"/>
<path d="M607.7 312.2L599.10 538.0"/>
<path d="M607.7 312.2L599.70 538.0"/>
<path d="M607.7 312.2L600.30 538.0"/>
<path d="M607.7 312.2L600.90 538.0"/>
<path d="M607.7 312.2L601.50 538.0"/>
<path d="M607.7 312.2L602.10 538.0"/>
<path d="M607.7 312.2L602.70 538.0"/>
<path d="M607.7 312.2L603.30 538.0"/>
<path d="M607.7 312.2L603.90 538.0"/>
<path d="M607.7 312.2L604.50 538.0"/>
<path d="M607.7 312.2L605.10 538.0"/>
<path d="M607.7 312.2L605.70 538.0"/>
<path d="M634.4 312.2L606.30 538.0"/>
<path d="M634.4 312.2L606.89 538.0"/>
<path d="M634.4 312.2L607.49 538.0"/>
<path d="M634.4 312.2L608.09 538.0"/>
<path d="M634.4 312.2L608.68 538.0"/>
<path d="M634.4 312.2L609.28 538.0"/>
<path d="M634.4 312.2L609.88 538.0"/>
<path d="M634.4 312.2L610.47 538.0"/>
<path d="M634.4 312.2L611.07 538.0"/>
<path d="M634.4 312.2L611.67 538.0"/>
<path d="M634.4 312.2L612.26 538.0"/>
<path d="M634.4 312.2L612.86 538.0"/>
<path d="M634.4 312.2L613.46 538.0"/>
<path d="M634.4 312.2L614.05 538.0"/>
<path d="M634.4 312.2L614.65 538.0"/>
<path d="M634.4 312.2L615.25 538.0"/>
<path d="M634.4 312.2L615.84 538.0"/>
<path d="M634.4 312.2L616.44 538.0"/>
<path d="M634.4 312.2L617.04 538.0"/>
<path d="M634.4 312.2L617.63 538.0"/>
<path d="M634.4 312.2L618.23 538.0"/>
<path d="M634.4 312.2L618.82 538.0"/>
<path d="M634.4 312.2L619.42 538.0"/>
<path d="M634.4 312.2L620.02 538.0"/>
<path d="M634.4 312.2L620.61 538.0"/>
<path d="M634.4 312.2L621.21 538.0"/>
<path d="M634.4 312.2L621.81 538.0"/>
<path d="M634.4 312.2L622.40 538.0"/>
<path d="M634.4 312.2L623.00 538.0"/>
<path d="M634.4 312.2L623.60 538.0"/>
<path d="M634.4 312.2L624.19 538.0"/>
<path d="M634.4 312.2L624.79 538.0"/>
<path d="M634.4 312.2L625.39 538.0"/>
<path d="M634.4 312.2L625.98 538.0"/>
<path d="M634.4 312.2L626.58 538.0"/>
<path d="M634.4 312.2L627.18 538.0"/>
<path d="M634.4 312.2L627.77 538.0"/>
<path d="M634.4 312.2L628.37 538.0"/>
<path d="M634.4 312.2L628.96 538.0"/>
<path d="M634.4 312.2L629.56 538.0"/>
<path d="M634.4 312.2L630.16 538.0"/>
<path d="M634.4 312.2L630.75 538.0"/>
<path d="M634.4 312.2L631.35 538.0"/>
<path d="M634.4 312.2L631.95 538.0"/>
<path d="M634.4 312.2L632.54 538.0"/>
<path d="M634.4 312.2L633.14 538.0"/>
<path d="M634.4 312.2L633.74 538.0"/>
<path d="M634.4 312.2L634.33 538.0"/>
<path d="M634.4 312.2L634.93 538.0"/>
<path d="M634.4 312.2L635.53 538.0"/>
<path d="M634.4 312.2L636.12 538.0"/>
<path d="M634.4 312.2L636.72 538.0"/>
<path d="M634.4 312.2L637.32 538.0"/>
<path d="M634.4 312.2L637.91 538.0"/>
<path d="M634.4 312.2L638.51 538.0"/>
<path d="M634.4 312.2L639.11 538.0"/>
<path d="M634.4 312.2L639.70 538.0"/>
<path d="M661.1 312.2L640.30 538.0"/>
<path d="M661.1 312.2L640.89 538.0"/>
<path d="M661.1 312.2L641.49 538.0"/>
<path d="M661.1 312.2L642.09 538.0"/>
<path d="M661.1 312.2L642.68 538.0"/>
<path d="M661.1 312.2L643.28 538.0"/>
<path d="M661.1 312.2L643.87 538.0"/>
<path d="M661.1 312.2L644.47 538.0"/>
<path d="M661.1 312.2L645.06 538.0"/>
<path d="M661.1 312.2L645.66 538.0"/>
<path d="M661.1 312.2L646.26 538.0"/>
<path d="M661.1 312.2L646.85 538.0"/>
<path d="M661.1 312.2L647.45 538.0"/>
<path d="M661.1 312.2L648.04 538.0"/>
<path d="M661.1 312.2L648.64 538.0"/>
<path d="M661.1 312.2L649.23 538.0"/>
<path d="M661.1 312.2L649.83 538.0"/>
<path d="M661.1 312.2L650.43 538.0"/>
<path d="M661.1 312.2L651.02 538.0"/>
<path d="M661.1 312.2L651.62 538.0"/>
<path d="M661.1 312.2L652.21 538.0"/>
<path d="M661.1 312.2L652.81 538.0"/>
<path d="M661.1 312.2L653.40 538.0"/>
<path d="M661.1 312.2L654.00 538.0"/>
<path d="M661.1 312.2L654.60 538.0"/>
<path d="M661.1 312.2L655.19 538.0"/>
<path d="M661.1 312.2L655.79 538.0"/>
<path d="M661.1 312.2L656.38 538.0"/>
<path d="M661.1 312.2L656.98 538.0"/>
<path d="M661.1 312.2L657.57 538.0"/>
<path d="M661.1 312.2L658.17 538.0"/>
<path d="M661.1 312.2L658.77 538.0"/>
<path d="M661.1 312.2L659.36 538.0"/>
<path d="M661.1 312.2L659.96 538.0"/>
<path d="M661.1 312.2L660.55 538.0"/>
<path d="M661.1 312.2L661.15 538.0"/>
<path d="M661.1 312.2L661.74 538.0"/>
<path d="M661.1 312.2L662.34 538.0"/>
<path d="M661.1 312.2L662.94 538.0"/>
<path d="M661.1 312.2L663.53 538.0"/>
<path d="M661.1 312.2L664.13 538.0"/>
<path d="M661.1 312.2L664.72 538.0"/>
<path d="M661.1 312.2L665.32 538.0"/>
<path d="M661.1 312.2L665.91 538.0"/>
<path d="M661.1 312.2L666.51 538.0"/>
<path d="M661.1 312.2L667.11 538.0"/>
<path d="M661.1 312.2L667.70 538.0"/>
<path d="M687.9 312.2L668.30 538.0"/>
<path d="M687.9 312.2L668.89 538.0"/>
<path d="M687.9 312.2L669.49 538.0"/>
<path d="M687.9 312.2L670.09 538.0"/>
<path d="M687.9 312.2L670.68 538.0"/>
<path d="M687.9 312.2L671.28 538.0"/>
<path d="M687.9 312.2L671.87 538.0"/>
<path d="M687.9 312.2L672.47 538.0"/>
<path d="M687.9 312.2L673.06 538.0"/>
<path d="M687.9 312.2L673.66 538.0"/>
<path d="M687.9 312.2L674.26 538.0"/>
<path d="M687.9 312.2L674.85 538.0"/>
<path d="M687.9 312.2L675.45 538.0"/>
<path d="M687.9 312.2L676.04 538.0"/>
<path d="M687.9 312.2L676.64 538.0"/>
<path d="M687.9 312.2L677.23 538.0"/>
<path d="M687.9 312.2L677.83 538.0"/>
<path d="M687.9 312.2L678.43 538.0"/>
<path d="M687.9 312.2L679.02 538.0"/>
<path d="M687.9 312.2L679.62 538.0"/>
<path d="M687.9 312.2L680.21 538.0"/>
<path d="M687.9 312.2L680.81 538.0"/>
<path d="M687.9 312.2L681.40 538.0"/>
<path d="M687.9 312.2L682.00 538.0"/>
<path d="M687.9 312.2L682.60 538.0"/>
<path d="M687.9 312.2L683.19 538.0"/>
<path d="M687.9 312.2L683.79 538.0"/>
<path d="M687.9 312.2L684.38 538.0"/>
<path d="M687.9 312.2L684.98 538.0"/>
<path d="M687.9 312.2L685.57 538.0"/>
<path d="M687.9 312.2L686.17 538.0"/>
<path d="M687.9 312.2L686.77 538.0"/>
<path d="M687.9 312.2L687.36 538.0"/>
<path d="M687.9 312.2L687.96 538.0"/>
<path d="M687.9 312.2L688.55 538.0"/>
<path d="M687.9 312.2L689.15 538.0"/>
<path d="M687.9 312.2L689.74 538.0"/>
<path d="M687.9 312.2L690.34 538.0"/>
<path d="M687.9 312.2L690.94 538.0"/>
<path d="M687.9 312.2L691.53 538.0"/>
<path d="M687.9 312.2L692.13 538.0"/>
<path d="M687.9 312.2L692.72 538.0"/>
<path d="M687.9 312.2L693.32 538.0"/>
<path d="M687.9 312.2L693.91 538.0"/>
<path d="M687.9 312.2L694.51 538.0"/>
<path d="M687.9 312.2L695.11 538.0"/>
<path d="M687.9 312.2L695.70 538.0"/>
<path d="M714.6 312.2L696.30 538.0"/>
<path d="M714.6 312.2L696.89 538.0"/>
<path d="M714.6 312.2L697.48 538.0"/>
<path d="M714.6 312.2L698.07 538.0"/>
<path d="M714.6 312.2L698.67 538.0"/>
<path d="M714.6 312.2L699.26 538.0"/>
<path d="M714.6 312.2L699.85 538.0"/>
<path d="M714.6 312.2L700.44 538.0"/>
<path d="M714.6 312.2L701.04 538.0"/>
<path d="M714.6 312.2L701.63 538.0"/>
<path d="M714.6 312.2L702.22 538.0"/>
<path d="M714.6 312.2L702.81 538.0"/>
<path d="M714.6 312.2L703.41 538.0"/>
<path d="M714.6 312.2L704.00 538.0"/>
<path d="M714.6 312.2L704.59 538.0"/>
<path d="M714.6 312.2L705.19 538.0"/>
<path d="M714.6 312.2L705.78 538.0"/>
<path d="M714.6 312.2L706.37 538.0"/>
<path d="M714.6 312.2L706.96 538.0"/>
<path d="M714.6 312.2L707.56 538.0"/>
<path d="M714.6 312.2L708.15 538.0"/>
<path d="M714.6 312.2L708.74 538.0"/>
<path d="M714.6 312.2L709.33 538.0"/>
<path d="M714.6 312.2L709.93 538.0"/>
<path d="M714.6 312.2L710.52 538.0"/>
<path d="M714.6 312.2L711.11 538.0"/>
<path d="M714.6 312.2L711.70 538.0"/>
</g>
<g stroke-width="10" stroke-linecap="round">
<line x1="87.6" y1="538.0" x2="276" y2="538.0" stroke="#666"/>
<line x1="278" y1="538.0" x2="712" y2="538.0" stroke="#999"/>
<line x1="717.4" y1="538.0" x2="941.2" y2="538.0" stroke="#CCC"/>
</g>
<circle cx="94.0" cy="85.7" r="5.15" fill="#666"/><circle cx="94.0" cy="85.7" r="2.35" fill="none" stroke="#8a8a8a" stroke-width="0.85"/>
<circle cx="108.0" cy="85.7" r="5.15" fill="#666"/><circle cx="108.0" cy="85.7" r="2.35" fill="none" stroke="#8a8a8a" stroke-width="0.85"/>
<circle cx="122.0" cy="85.7" r="5.15" fill="#666"/><circle cx="122.0" cy="85.7" r="2.35" fill="none" stroke="#8a8a8a" stroke-width="0.85"/>
<circle cx="136.0" cy="85.7" r="5.15" fill="#666"/><circle cx="136.0" cy="85.7" r="2.35" fill="none" stroke="#8a8a8a" stroke-width="0.85"/>
<circle cx="150.0" cy="85.7" r="5.15" fill="#666"/><circle cx="150.0" cy="85.7" r="2.35" fill="none" stroke="#8a8a8a" stroke-width="0.85"/>
<circle cx="164.0" cy="85.7" r="5.15" fill="#666"/><circle cx="164.0" cy="85.7" r="2.35" fill="none" stroke="#8a8a8a" stroke-width="0.85"/>
<circle cx="178.0" cy="85.7" r="5.15" fill="#666"/><circle cx="178.0" cy="85.7" r="2.35" fill="none" stroke="#8a8a8a" stroke-width="0.85"/>
<circle cx="192.0" cy="85.7" r="5.15" fill="#666"/><circle cx="192.0" cy="85.7" r="2.35" fill="none" stroke="#8a8a8a" stroke-width="0.85"/>
<circle cx="206.1" cy="85.7" r="5.15" fill="#666"/><circle cx="206.1" cy="85.7" r="2.35" fill="none" stroke="#8a8a8a" stroke-width="0.85"/>
<circle cx="220.1" cy="85.7" r="5.15" fill="#666"/><circle cx="220.1" cy="85.7" r="2.35" fill="none" stroke="#8a8a8a" stroke-width="0.85"/>
<circle cx="234.1" cy="85.7" r="5.15" fill="#666"/><circle cx="234.1" cy="85.7" r="2.35" fill="none" stroke="#8a8a8a" stroke-width="0.85"/>
<circle cx="248.1" cy="85.7" r="5.15" fill="#666"/><circle cx="248.1" cy="85.7" r="2.35" fill="none" stroke="#8a8a8a" stroke-width="0.85"/>
<circle cx="262.1" cy="85.7" r="5.15" fill="#666"/><circle cx="262.1" cy="85.7" r="2.35" fill="none" stroke="#8a8a8a" stroke-width="0.85"/>
<circle cx="276.1" cy="85.7" r="5.15" fill="#666"/><circle cx="276.1" cy="85.7" r="2.35" fill="none" stroke="#8a8a8a" stroke-width="0.85"/>
<circle cx="290.1" cy="85.7" r="5.15" fill="#666"/><circle cx="290.1" cy="85.7" r="2.35" fill="none" stroke="#8a8a8a" stroke-width="0.85"/>
<circle cx="304.1" cy="85.7" r="5.15" fill="#666"/><circle cx="304.1" cy="85.7" r="2.35" fill="none" stroke="#8a8a8a" stroke-width="0.85"/>
<circle cx="318.1" cy="85.7" r="5.15" fill="#666"/><circle cx="318.1" cy="85.7" r="2.35" fill="none" stroke="#8a8a8a" stroke-width="0.85"/>
<circle cx="332.1" cy="85.7" r="5.15" fill="#666"/><circle cx="332.1" cy="85.7" r="2.35" fill="none" stroke="#8a8a8a" stroke-width="0.85"/>
<circle cx="346.1" cy="85.7" r="5.15" fill="#666"/><circle cx="346.1" cy="85.7" r="2.35" fill="none" stroke="#8a8a8a" stroke-width="0.85"/>
<circle cx="360.1" cy="85.7" r="5.15" fill="#666"/><circle cx="360.1" cy="85.7" r="2.35" fill="none" stroke="#8a8a8a" stroke-width="0.85"/>
<circle cx="374.1" cy="85.7" r="5.15" fill="#666"/><circle cx="374.1" cy="85.7" r="2.35" fill="none" stroke="#8a8a8a" stroke-width="0.85"/>
<circle cx="388.1" cy="85.7" r="5.15" fill="#666"/><circle cx="388.1" cy="85.7" r="2.35" fill="none" stroke="#8a8a8a" stroke-width="0.85"/>
<circle cx="402.2" cy="85.7" r="5.15" fill="#666"/><circle cx="402.2" cy="85.7" r="2.35" fill="none" stroke="#8a8a8a" stroke-width="0.85"/>
<circle cx="416.2" cy="85.7" r="5.15" fill="#666"/><circle cx="416.2" cy="85.7" r="2.35" fill="none" stroke="#8a8a8a" stroke-width="0.85"/>
<circle cx="430.2" cy="85.7" r="5.15" fill="#666"/><circle cx="430.2" cy="85.7" r="2.35" fill="none" stroke="#8a8a8a" stroke-width="0.85"/>
<circle cx="444.2" cy="85.7" r="5.15" fill="#666"/><circle cx="444.2" cy="85.7" r="2.35" fill="none" stroke="#8a8a8a" stroke-width="0.85"/>
<circle cx="458.2" cy="85.7" r="5.15" fill="#666"/><circle cx="458.2" cy="85.7" r="2.35" fill="none" stroke="#8a8a8a" stroke-width="0.85"/>
<circle cx="472.2" cy="85.7" r="5.15" fill="#666"/><circle cx="472.2" cy="85.7" r="2.35" fill="none" stroke="#8a8a8a" stroke-width="0.85"/>
<circle cx="486.2" cy="85.7" r="5.15" fill="#666"/><circle cx="486.2" cy="85.7" r="2.35" fill="none" stroke="#8a8a8a" stroke-width="0.85"/>
<circle cx="500.2" cy="85.7" r="5.15" fill="#666"/><circle cx="500.2" cy="85.7" r="2.35" fill="none" stroke="#8a8a8a" stroke-width="0.85"/>
<circle cx="514.2" cy="85.7" r="5.15" fill="#666"/><circle cx="514.2" cy="85.7" r="2.35" fill="none" stroke="#8a8a8a" stroke-width="0.85"/>
<circle cx="528.2" cy="85.7" r="5.15" fill="#666"/><circle cx="528.2" cy="85.7" r="2.35" fill="none" stroke="#8a8a8a" stroke-width="0.85"/>
<circle cx="542.2" cy="85.7" r="5.15" fill="#CCC"/><circle cx="542.2" cy="85.7" r="2.35" fill="none" stroke="#dadada" stroke-width="0.85"/>
<circle cx="556.2" cy="85.7" r="5.15" fill="#CCC"/><circle cx="556.2" cy="85.7" r="2.35" fill="none" stroke="#dadada" stroke-width="0.85"/>
<circle cx="570.2" cy="85.7" r="5.15" fill="#CCC"/><circle cx="570.2" cy="85.7" r="2.35" fill="none" stroke="#dadada" stroke-width="0.85"/>
<circle cx="584.2" cy="85.7" r="5.15" fill="#CCC"/><circle cx="584.2" cy="85.7" r="2.35" fill="none" stroke="#dadada" stroke-width="0.85"/>
<circle cx="598.3" cy="85.7" r="5.15" fill="#CCC"/><circle cx="598.3" cy="85.7" r="2.35" fill="none" stroke="#dadada" stroke-width="0.85"/>
<circle cx="612.3" cy="85.7" r="5.15" fill="#CCC"/><circle cx="612.3" cy="85.7" r="2.35" fill="none" stroke="#dadada" stroke-width="0.85"/>
<circle cx="626.3" cy="85.7" r="5.15" fill="#CCC"/><circle cx="626.3" cy="85.7" r="2.35" fill="none" stroke="#dadada" stroke-width="0.85"/>
<circle cx="640.3" cy="85.7" r="5.15" fill="#CCC"/><circle cx="640.3" cy="85.7" r="2.35" fill="none" stroke="#dadada" stroke-width="0.85"/>
<circle cx="654.3" cy="85.7" r="5.15" fill="#CCC"/><circle cx="654.3" cy="85.7" r="2.35" fill="none" stroke="#dadada" stroke-width="0.85"/>
<circle cx="668.3" cy="85.7" r="5.15" fill="#CCC"/><circle cx="668.3" cy="85.7" r="2.35" fill="none" stroke="#dadada" stroke-width="0.85"/>
<circle cx="682.3" cy="85.7" r="5.15" fill="#CCC"/><circle cx="682.3" cy="85.7" r="2.35" fill="none" stroke="#dadada" stroke-width="0.85"/>
<circle cx="696.3" cy="85.7" r="5.15" fill="#CCC"/><circle cx="696.3" cy="85.7" r="2.35" fill="none" stroke="#dadada" stroke-width="0.85"/>
<circle cx="710.3" cy="85.7" r="5.15" fill="#CCC"/><circle cx="710.3" cy="85.7" r="2.35" fill="none" stroke="#dadada" stroke-width="0.85"/>
<circle cx="724.3" cy="85.7" r="5.15" fill="#CCC"/><circle cx="724.3" cy="85.7" r="2.35" fill="none" stroke="#dadada" stroke-width="0.85"/>
<circle cx="738.3" cy="85.7" r="5.15" fill="#CCC"/><circle cx="738.3" cy="85.7" r="2.35" fill="none" stroke="#dadada" stroke-width="0.85"/>
<circle cx="752.3" cy="85.7" r="5.15" fill="#CCC"/><circle cx="752.3" cy="85.7" r="2.35" fill="none" stroke="#dadada" stroke-width="0.85"/>
<circle cx="766.3" cy="85.7" r="5.15" fill="#CCC"/><circle cx="766.3" cy="85.7" r="2.35" fill="none" stroke="#dadada" stroke-width="0.85"/>
<circle cx="780.3" cy="85.7" r="5.15" fill="#CCC"/><circle cx="780.3" cy="85.7" r="2.35" fill="none" stroke="#dadada" stroke-width="0.85"/>
<circle cx="794.4" cy="85.7" r="5.15" fill="#CCC"/><circle cx="794.4" cy="85.7" r="2.35" fill="none" stroke="#dadada" stroke-width="0.85"/>
<circle cx="808.4" cy="85.7" r="5.15" fill="#CCC"/><circle cx="808.4" cy="85.7" r="2.35" fill="none" stroke="#dadada" stroke-width="0.85"/>
<circle cx="822.4" cy="85.7" r="5.15" fill="#CCC"/><circle cx="822.4" cy="85.7" r="2.35" fill="none" stroke="#dadada" stroke-width="0.85"/>
<circle cx="836.4" cy="85.7" r="5.15" fill="#CCC"/><circle cx="836.4" cy="85.7" r="2.35" fill="none" stroke="#dadada" stroke-width="0.85"/>
<circle cx="850.4" cy="85.7" r="5.15" fill="#CCC"/><circle cx="850.4" cy="85.7" r="2.35" fill="none" stroke="#dadada" stroke-width="0.85"/>
<circle cx="864.4" cy="85.7" r="5.15" fill="#CCC"/><circle cx="864.4" cy="85.7" r="2.35" fill="none" stroke="#dadada" stroke-width="0.85"/>
<circle cx="878.4" cy="85.7" r="5.15" fill="#CCC"/><circle cx="878.4" cy="85.7" r="2.35" fill="none" stroke="#dadada" stroke-width="0.85"/>
<circle cx="892.4" cy="85.7" r="5.15" fill="#CCC"/><circle cx="892.4" cy="85.7" r="2.35" fill="none" stroke="#dadada" stroke-width="0.85"/>
<circle cx="906.4" cy="85.7" r="5.15" fill="#CCC"/><circle cx="906.4" cy="85.7" r="2.35" fill="none" stroke="#dadada" stroke-width="0.85"/>
<circle cx="920.4" cy="85.7" r="5.15" fill="#CCC"/><circle cx="920.4" cy="85.7" r="2.35" fill="none" stroke="#dadada" stroke-width="0.85"/>
<circle cx="934.4" cy="85.7" r="5.15" fill="#CCC"/><circle cx="934.4" cy="85.7" r="2.35" fill="none" stroke="#dadada" stroke-width="0.85"/>
<circle cx="100.1" cy="312.2" r="5.15" fill="#666"/><circle cx="100.1" cy="312.2" r="2.35" fill="none" stroke="#8a8a8a" stroke-width="0.85"/>
<circle cx="126.8" cy="312.2" r="5.15" fill="#666"/><circle cx="126.8" cy="312.2" r="2.35" fill="none" stroke="#8a8a8a" stroke-width="0.85"/>
<circle cx="153.5" cy="312.2" r="5.15" fill="#666"/><circle cx="153.5" cy="312.2" r="2.35" fill="none" stroke="#8a8a8a" stroke-width="0.85"/>
<circle cx="180.2" cy="312.2" r="5.15" fill="#666"/><circle cx="180.2" cy="312.2" r="2.35" fill="none" stroke="#8a8a8a" stroke-width="0.85"/>
<circle cx="207.0" cy="312.2" r="5.15" fill="#666"/><circle cx="207.0" cy="312.2" r="2.35" fill="none" stroke="#8a8a8a" stroke-width="0.85"/>
<circle cx="233.7" cy="312.2" r="5.15" fill="#666"/><circle cx="233.7" cy="312.2" r="2.35" fill="none" stroke="#8a8a8a" stroke-width="0.85"/>
<circle cx="260.4" cy="312.2" r="5.15" fill="#666"/><circle cx="260.4" cy="312.2" r="2.35" fill="none" stroke="#8a8a8a" stroke-width="0.85"/>
<circle cx="287.1" cy="312.2" r="5.15" fill="#666"/><circle cx="287.1" cy="312.2" r="2.35" fill="none" stroke="#8a8a8a" stroke-width="0.85"/>
<circle cx="313.8" cy="312.2" r="5.15" fill="#666"/><circle cx="313.8" cy="312.2" r="2.35" fill="none" stroke="#8a8a8a" stroke-width="0.85"/>
<circle cx="340.5" cy="312.2" r="5.15" fill="#666"/><circle cx="340.5" cy="312.2" r="2.35" fill="none" stroke="#8a8a8a" stroke-width="0.85"/>
<circle cx="367.3" cy="312.2" r="5.15" fill="#666"/><circle cx="367.3" cy="312.2" r="2.35" fill="none" stroke="#8a8a8a" stroke-width="0.85"/>
<circle cx="394.0" cy="312.2" r="5.15" fill="#666"/><circle cx="394.0" cy="312.2" r="2.35" fill="none" stroke="#8a8a8a" stroke-width="0.85"/>
<circle cx="420.7" cy="312.2" r="5.15" fill="#666"/><circle cx="420.7" cy="312.2" r="2.35" fill="none" stroke="#8a8a8a" stroke-width="0.85"/>
<circle cx="447.4" cy="312.2" r="5.15" fill="#666"/><circle cx="447.4" cy="312.2" r="2.35" fill="none" stroke="#8a8a8a" stroke-width="0.85"/>
<circle cx="474.1" cy="312.2" r="5.15" fill="#666"/><circle cx="474.1" cy="312.2" r="2.35" fill="none" stroke="#8a8a8a" stroke-width="0.85"/>
<circle cx="500.8" cy="312.2" r="5.15" fill="#666"/><circle cx="500.8" cy="312.2" r="2.35" fill="none" stroke="#8a8a8a" stroke-width="0.85"/>
<circle cx="527.6" cy="312.2" r="5.15" fill="#CCC"/><circle cx="527.6" cy="312.2" r="2.35" fill="none" stroke="#dadada" stroke-width="0.85"/>
<circle cx="554.3" cy="312.2" r="5.15" fill="#CCC"/><circle cx="554.3" cy="312.2" r="2.35" fill="none" stroke="#dadada" stroke-width="0.85"/>
<circle cx="581.0" cy="312.2" r="5.15" fill="#CCC"/><circle cx="581.0" cy="312.2" r="2.35" fill="none" stroke="#dadada" stroke-width="0.85"/>
<circle cx="607.7" cy="312.2" r="5.15" fill="#CCC"/><circle cx="607.7" cy="312.2" r="2.35" fill="none" stroke="#dadada" stroke-width="0.85"/>
<circle cx="634.4" cy="312.2" r="5.15" fill="#CCC"/><circle cx="634.4" cy="312.2" r="2.35" fill="none" stroke="#dadada" stroke-width="0.85"/>
<circle cx="661.1" cy="312.2" r="5.15" fill="#CCC"/><circle cx="661.1" cy="312.2" r="2.35" fill="none" stroke="#dadada" stroke-width="0.85"/>
<circle cx="687.9" cy="312.2" r="5.15" fill="#CCC"/><circle cx="687.9" cy="312.2" r="2.35" fill="none" stroke="#dadada" stroke-width="0.85"/>
<circle cx="714.6" cy="312.2" r="5.15" fill="#CCC"/><circle cx="714.6" cy="312.2" r="2.35" fill="none" stroke="#dadada" stroke-width="0.85"/>
<circle cx="741.3" cy="312.2" r="5.15" fill="#CCC"/><circle cx="741.3" cy="312.2" r="2.35" fill="none" stroke="#dadada" stroke-width="0.85"/>
<circle cx="768.0" cy="312.2" r="5.15" fill="#CCC"/><circle cx="768.0" cy="312.2" r="2.35" fill="none" stroke="#dadada" stroke-width="0.85"/>
<circle cx="794.7" cy="312.2" r="5.15" fill="#CCC"/><circle cx="794.7" cy="312.2" r="2.35" fill="none" stroke="#dadada" stroke-width="0.85"/>
<circle cx="821.4" cy="312.2" r="5.15" fill="#CCC"/><circle cx="821.4" cy="312.2" r="2.35" fill="none" stroke="#dadada" stroke-width="0.85"/>
<circle cx="848.1" cy="312.2" r="5.15" fill="#CCC"/><circle cx="848.1" cy="312.2" r="2.35" fill="none" stroke="#dadada" stroke-width="0.85"/>
<circle cx="874.9" cy="312.2" r="5.15" fill="#CCC"/><circle cx="874.9" cy="312.2" r="2.35" fill="none" stroke="#dadada" stroke-width="0.85"/>
<circle cx="901.6" cy="312.2" r="5.15" fill="#CCC"/><circle cx="901.6" cy="312.2" r="2.35" fill="none" stroke="#dadada" stroke-width="0.85"/>
<circle cx="928.3" cy="312.2" r="5.15" fill="#CCC"/><circle cx="928.3" cy="312.2" r="2.35" fill="none" stroke="#dadada" stroke-width="0.85"/>
<g stroke="#000" stroke-width="3" stroke-linecap="round" fill="none">
<line x1="96.2" y1="69" x2="527" y2="69"/><line x1="312" y1="56.5" x2="312" y2="69"/>
<line x1="543.5" y1="69" x2="932.5" y2="69"/><line x1="738.4" y1="56.5" x2="738.4" y2="69"/>
<line x1="95.4" y1="554.7" x2="269.4" y2="554.7"/><line x1="181.8" y1="554.7" x2="181.8" y2="566.5"/>
<line x1="290.2" y1="554.7" x2="701.8" y2="554.7"/><line x1="496.3" y1="554.7" x2="496.3" y2="566.5"/>
<line x1="724.5" y1="554.7" x2="932.8" y2="554.7"/><line x1="828.3" y1="554.7" x2="828.3" y2="566.5"/>
</g>
<g font-family='"Liberation Sans", sans-serif' fill="#000" text-rendering="geometricPrecision">
<text transform="translate(1.2,31.0) scale(1,1.025)" font-size="42">A</text>
<text transform="translate(312,41.2) scale(1,1.0)" font-size="33.7" text-anchor="middle">Wild</text>
<text transform="translate(738.3,41.3) scale(1,1.0)" font-size="33.7" text-anchor="middle">Domesticated</text>
<text transform="translate(183.5,605.8) scale(1,1.0)" font-size="33.7" text-anchor="middle">Wild</text>
<text transform="translate(496.7,605.8) scale(1,1.0)" font-size="33.7" text-anchor="middle">Wild-Domesticated</text>
<text transform="translate(828.6,605.8) scale(1,1.0)" font-size="33.7" text-anchor="middle">Domesticated</text>
<text transform="translate(68.5,98.3) scale(1,1.026)" font-size="33.7" text-anchor="end">0</text>
<text transform="translate(66.0,324.5) scale(1,1.026)" font-size="33.7" text-anchor="end">1</text>
<text transform="translate(68.5,550.0) scale(1,1.026)" font-size="33.7" text-anchor="end">2</text>
<text transform="translate(30.2,311.7) rotate(-90) scale(1,1.0)" font-size="37.8" text-anchor="middle">Generation</text>
</g>
<rect x="108.0" y="666.0" width="838.0" height="482.4000000000001" fill="#F7F7F7"/>
<g stroke="#fff" stroke-width="2.1">
<line x1="108.0" y1="1147.1" x2="946.0" y2="1147.1"/>
<line x1="108.0" y1="1062.3" x2="946.0" y2="1062.3"/>
<line x1="108.0" y1="977.5" x2="946.0" y2="977.5"/>
<line x1="108.0" y1="892.8" x2="946.0" y2="892.8"/>
<line x1="108.0" y1="808.0" x2="946.0" y2="808.0"/>
<line x1="108.0" y1="723.2" x2="946.0" y2="723.2"/>
<line x1="138.0" y1="666.0" x2="138.0" y2="1148.4"/>
<line x1="332.0" y1="666.0" x2="332.0" y2="1148.4"/>
<line x1="492.0" y1="666.0" x2="492.0" y2="1148.4"/>
<line x1="686.2" y1="666.0" x2="686.2" y2="1148.4"/>
<line x1="846.0" y1="666.0" x2="846.0" y2="1148.4"/>
</g>
<rect x="823.6" y="666.0" width="91.2" height="482.4000000000001" fill="#C8C8C8" fill-opacity="0.6"/>
<g stroke="#C8C8C8" stroke-opacity="0.6" stroke-width="2.2"><line x1="823.6" y1="666.0" x2="823.6" y2="1148.4"/><line x1="914.8" y1="666.0" x2="914.8" y2="1148.4"/></g>
<polyline points="136.9,1073.0 148.2,1071.0 160.3,994.4 160.3,1034.7 171.6,819.1 182.5,758.7 194.5,742.6 205.8,700.3 217.5,685.0 228.8,685.4 240.1,683.4 252.2,688.2 263.0,720.4 274.7,714.4 286.0,685.0 297.3,729.3 309.4,748.6 320.2,739.8 332.1,713.6 355.1,913.0 366.3,735.7 378.4,734.5 388.5,736.6 400.6,740.6 412.7,746.6 424.0,748.6 434.8,743.8 446.1,733.7 457.8,736.6 469.1,746.6 481.2,751.9 492.4,751.5 504.1,740.6 515.4,733.7 526.7,730.1 537.7,729.3 549.1,729.3 560.5,728.5 572.0,727.3 583.4,732.5 594.8,728.5 606.2,725.3 617.6,723.3 629.1,720.4 640.5,726.5 651.9,737.8 663.3,750.7 674.7,760.7 686.2,760.7 697.6,756.7 709.0,757.9 720.4,771.6 731.8,772.0 743.3,760.7 754.7,746.6 766.1,750.7 777.5,753.5 788.9,754.3 800.4,748.6 811.8,751.5 823.2,758.7 834.6,768.8 846.0,780.1 857.5,786.9 868.9,788.9 880.3,787.7 891.7,786.5 903.1,778.9 914.6,762.7" fill="none" stroke="#CC5200" stroke-width="3.4" stroke-linejoin="round" stroke-linecap="butt"/>
<polyline points="136.9,1068.9 148.2,1066.9 160.3,1115.3 171.6,978.3 182.5,925.9 194.5,906.6 205.8,863.5 217.5,847.4 228.8,849.4 240.1,841.3 252.2,832.4 263.0,873.5 274.7,880.8 286.0,848.6 297.3,889.7 309.4,913.0 320.2,899.7 332.1,881.6 355.1,985.5 366.3,898.9 378.4,897.7 388.5,899.7 400.6,903.8 412.7,910.6 424.0,911.8 434.8,907.0 446.1,896.9 457.8,902.5 469.1,913.0 481.2,917.9 492.4,914.6 504.1,903.8 515.4,897.7 526.7,894.1 537.7,893.7 549.1,894.5 560.5,893.7 572.0,891.7 583.4,896.9 594.8,898.9 606.2,901.7 617.6,905.8 629.1,905.0 640.5,903.4 651.9,907.0 663.3,917.9 674.7,928.3 686.2,927.9 697.6,923.5 709.0,925.1 720.4,941.6 731.8,942.8 743.3,931.2 754.7,916.6 766.1,921.1 777.5,923.5 788.9,923.5 800.4,919.9 811.8,924.3 823.2,932.0 834.6,936.0 846.0,947.3 857.5,955.3 868.9,959.0 880.3,956.5 891.7,946.9 903.1,935.2 914.6,921.1" fill="none" stroke="#BFBD35" stroke-width="3.4" stroke-linejoin="round" stroke-linecap="butt"/>
<polyline points="136.9,1058.9 148.2,1054.9 160.3,1099.2 171.6,1095.1 182.5,1064.1 183.7,1081.0 194.5,1016.6 205.8,993.6 217.5,1021.8 228.8,1005.7 240.1,990.4 252.2,1060.1 263.0,1030.7 274.7,1014.6 286.0,1071.8 297.3,1077.8 309.4,1064.1 320.2,1058.9 332.1,1050.0 343.4,1062.9 355.1,1079.0 366.3,1077.8 378.4,1075.0 389.3,1083.0 400.6,1094.7 412.7,1093.9 424.0,1082.2 434.8,1078.2 446.1,1082.6 457.8,1083.9 469.1,1096.3 481.2,1100.0 492.4,1083.0 504.1,1077.0 515.4,1073.0 526.7,1071.0 537.7,1071.0 549.1,1071.8 560.5,1073.0 572.0,1071.0 583.4,1068.1 594.8,1058.9 606.2,1061.7 617.6,1077.8 629.1,1085.5 640.5,1082.2 651.9,1080.2 663.3,1099.2 674.7,1095.1 686.2,1104.0 697.6,1116.5 709.0,1114.5 720.4,1109.2 731.8,1098.4 743.3,1081.0 754.7,1091.1 766.1,1095.9 777.5,1099.2 788.9,1097.6 800.4,1105.2 811.8,1107.6 823.2,1109.2 834.6,1117.3 846.0,1126.6 857.5,1130.6 868.9,1130.6 880.3,1113.3 891.7,1107.2 903.1,1103.2 914.6,1100.4" fill="none" stroke="#6B6BF0" stroke-width="3.4" stroke-linejoin="round" stroke-linecap="butt"/>
<g stroke="#000" stroke-width="3" fill="none" stroke-linecap="round">
<line x1="106.7" y1="665.4" x2="106.7" y2="1147.8"/>
<line x1="94.7" y1="1147.1" x2="106.7" y2="1147.1"/>
<line x1="94.7" y1="1062.3" x2="106.7" y2="1062.3"/>
<line x1="94.7" y1="977.5" x2="106.7" y2="977.5"/>
<line x1="94.7" y1="892.8" x2="106.7" y2="892.8"/>
<line x1="94.7" y1="808.0" x2="106.7" y2="808.0"/>
<line x1="94.7" y1="723.2" x2="106.7" y2="723.2"/>
<line x1="136.5" y1="1148.4" x2="847.5" y2="1148.4" stroke-linecap="butt"/>
<line x1="138.0" y1="1148.4" x2="138.0" y2="1160.4"/>
<line x1="332.0" y1="1148.4" x2="332.0" y2="1160.4"/>
<line x1="492.0" y1="1148.4" x2="492.0" y2="1160.4"/>
<line x1="686.2" y1="1148.4" x2="686.2" y2="1160.4"/>
<line x1="846.0" y1="1148.4" x2="846.0" y2="1160.4"/>
</g>
<g font-family='"Liberation Sans", sans-serif' fill="#000" text-rendering="geometricPrecision">
<text transform="translate(1,653.7) scale(1,1.04)" font-size="42">B</text>
<text transform="translate(86.5,1158.8) scale(1,1.026)" font-size="33.7" text-anchor="end">10</text>
<text transform="translate(86.5,1074.0) scale(1,1.026)" font-size="33.7" text-anchor="end">12</text>
<text transform="translate(86.5,989.2) scale(1,1.026)" font-size="33.7" text-anchor="end">14</text>
<text transform="translate(86.5,904.5) scale(1,1.026)" font-size="33.7" text-anchor="end">16</text>
<text transform="translate(86.5,819.7) scale(1,1.026)" font-size="33.7" text-anchor="end">18</text>
<text transform="translate(86.5,734.9) scale(1,1.026)" font-size="33.7" text-anchor="end">20</text>
<text transform="translate(137.3,1200.3) scale(1,1.026)" font-size="33.7" text-anchor="middle">2017−07−15</text>
<text transform="translate(491.4,1200.3) scale(1,1.026)" font-size="33.7" text-anchor="middle">2017−08−15</text>
<text transform="translate(844.7,1200.3) scale(1,1.026)" font-size="33.7" text-anchor="middle">2017−09−15</text>
<text transform="translate(527,1239) scale(1,1.0)" font-size="37.8" text-anchor="middle">Date</text>
<text transform="translate(30.9,890.9) rotate(-90) scale(1,1.0)" font-size="37.65" text-anchor="middle">Temperature (C°)</text>
</g>
</svg>
</body></html>
